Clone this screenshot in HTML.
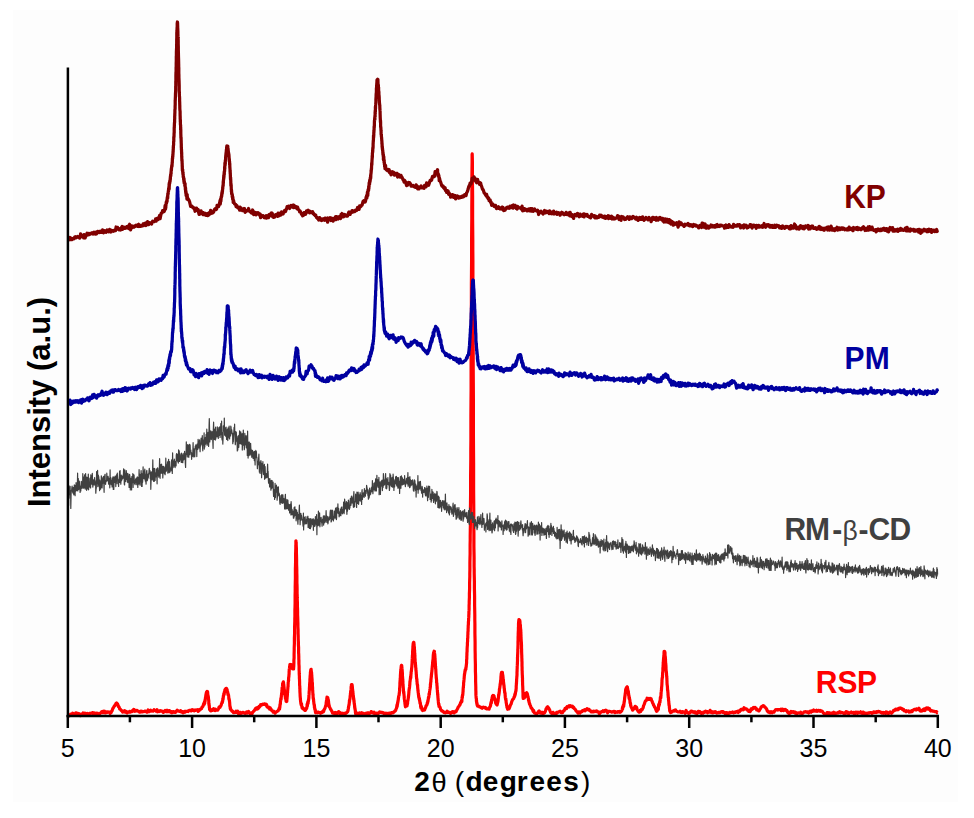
<!DOCTYPE html>
<html><head><meta charset="utf-8"><style>
html,body{margin:0;padding:0;background:#fff;}
svg{display:block;}
text{font-family:"Liberation Sans",sans-serif;}
</style></head><body>
<svg width="974" height="818" viewBox="0 0 974 818">
<rect x="0" y="0" width="974" height="818" fill="#ffffff"/>
<rect x="13" y="10" width="945" height="792" fill="#fdfdfd"/>
<g fill="none" stroke-linejoin="round" stroke-linecap="butt">
<path d="M68.6 714.9L69.1 715.0 69.6 715.7 70.1 715.2 70.6 714.1 71.1 714.7 71.6 714.1 72.1 714.1 72.6 713.1 73.1 713.8 73.6 713.7 74.1 714.2 74.6 713.7 75.1 713.8 75.6 713.0 76.1 714.8 76.6 713.0 77.1 714.3 77.6 713.7 78.1 713.4 78.6 713.6 79.1 713.8 79.6 714.6 80.1 714.7 80.6 715.6 81.1 714.1 81.6 714.6 82.1 713.9 82.6 714.4 83.1 713.0 83.6 713.8 84.1 714.0 84.6 713.1 85.1 714.1 85.6 713.5 86.1 713.9 86.6 714.0 87.1 713.4 87.6 713.5 88.1 713.8 88.6 714.1 89.1 714.1 89.6 713.4 90.1 713.5 90.6 713.3 91.1 713.2 91.6 713.0 92.1 712.9 92.6 713.8 93.1 712.7 93.6 712.9 94.1 713.4 94.6 713.0 95.1 713.5 95.6 713.8 96.1 714.2 96.6 713.2 97.1 714.2 97.6 713.3 98.1 713.5 98.6 713.8 99.1 713.8 99.6 714.0 100.1 713.4 100.6 712.9 101.1 712.6 101.6 711.8 102.1 712.6 102.6 711.6 103.1 711.3 103.6 712.7 104.1 711.7 104.6 711.3 105.1 712.9 105.6 712.0 106.1 712.7 106.6 712.0 107.1 712.3 107.6 711.8 108.1 711.8 108.6 712.1 109.1 712.3 109.6 712.6 110.1 713.4 110.6 711.8 111.1 712.6 111.6 711.4 112.1 710.7 112.6 709.1 113.1 708.0 113.6 707.4 114.1 706.3 114.6 706.0 115.1 704.7 115.6 704.6 116.1 703.3 116.6 702.9 117.1 703.5 117.6 704.1 118.1 705.3 118.2 705.8 118.3 705.9 118.3 706.6 118.4 706.6 118.5 706.4 118.5 706.6 118.5 706.0 118.6 706.5 119.1 706.9 119.6 709.0 120.1 708.9 120.6 709.5 121.1 710.3 121.6 710.6 122.1 711.0 122.6 712.0 123.1 711.6 123.6 711.2 124.1 711.7 124.6 710.7 125.1 712.1 125.6 711.2 126.1 711.4 126.6 712.7 127.1 712.9 127.6 712.0 128.1 712.1 128.6 712.1 129.1 712.2 129.6 711.3 130.1 711.5 130.6 712.0 131.1 711.6 131.6 711.7 132.1 711.5 132.6 710.4 133.1 710.4 133.6 709.5 134.1 710.6 134.6 711.3 135.1 710.2 135.6 711.1 136.1 710.8 136.6 710.3 137.1 710.5 137.6 710.9 138.1 711.0 138.6 711.6 139.1 711.9 139.6 712.2 140.1 712.1 140.6 711.3 141.1 711.9 141.6 711.2 142.1 711.5 142.6 711.8 143.1 711.6 143.6 711.5 144.1 711.7 144.6 711.2 145.1 711.0 145.6 711.2 146.1 711.7 146.6 711.2 147.1 712.2 147.6 711.4 148.1 710.0 148.6 711.0 149.1 711.7 149.6 710.8 150.1 710.4 150.6 710.2 151.1 711.1 151.6 711.0 152.1 710.9 152.6 710.8 153.1 711.2 153.6 710.7 154.1 709.7 154.6 710.5 155.1 710.4 155.6 710.5 156.1 711.2 156.6 711.0 157.1 709.7 157.6 711.8 158.1 711.7 158.6 711.2 159.1 711.2 159.6 711.5 160.1 710.7 160.6 711.2 161.1 710.9 161.6 711.0 162.1 711.0 162.6 711.3 163.1 712.3 163.6 712.3 164.1 711.7 164.6 711.1 165.1 710.5 165.6 711.1 166.1 711.6 166.6 710.3 167.1 711.8 167.6 710.4 168.1 711.3 168.6 711.6 169.1 710.7 169.6 710.7 170.1 711.6 170.6 712.1 171.1 711.8 171.6 712.7 172.1 711.7 172.6 712.6 173.1 711.7 173.6 711.7 174.1 712.0 174.6 711.9 175.1 712.5 175.6 712.4 176.1 711.3 176.6 710.8 177.1 710.2 177.6 710.5 178.1 711.0 178.6 711.2 179.1 711.3 179.6 711.3 180.1 711.5 180.6 710.7 181.1 711.0 181.6 712.1 182.1 712.1 182.6 711.7 183.1 712.8 183.6 712.1 184.1 712.3 184.6 711.3 185.1 712.1 185.6 711.4 186.1 711.6 186.6 711.4 187.1 711.2 187.6 711.2 188.1 711.6 188.6 710.7 189.1 710.5 189.6 710.3 190.1 710.5 190.6 710.5 191.1 710.9 191.6 710.0 192.1 710.6 192.6 709.8 193.1 710.4 193.6 710.2 194.1 710.9 194.6 710.4 195.1 709.9 195.6 710.3 196.1 710.1 196.6 709.9 197.1 709.9 197.6 709.7 198.1 711.4 198.6 710.3 199.1 710.6 199.6 709.5 200.1 709.3 200.6 709.3 201.1 708.8 201.6 708.6 202.1 706.9 202.6 706.7 203.1 706.0 203.6 703.8 203.9 703.7 204.0 703.0 204.1 703.8 204.2 704.4 204.2 703.1 204.2 703.3 204.3 703.4 204.3 702.2 204.4 702.6 204.4 702.3 204.5 702.4 204.6 703.0 204.6 702.8 204.7 703.4 204.7 702.6 204.8 702.3 204.8 701.4 204.8 701.2 204.9 701.3 204.9 700.2 205.0 701.8 205.1 700.6 205.1 700.2 205.2 700.3 205.2 700.6 205.2 700.3 205.3 699.1 205.3 699.0 205.4 698.4 205.4 697.7 205.5 698.1 205.6 697.8 205.6 696.9 205.7 697.8 205.7 696.3 205.8 696.7 205.8 695.8 205.8 695.5 205.9 695.1 205.9 695.4 206.0 694.2 206.1 694.4 206.1 695.0 206.2 693.8 206.3 692.9 206.3 693.1 206.4 692.4 206.4 693.0 206.5 692.8 206.6 692.3 206.6 693.3 206.7 692.3 206.7 692.1 207.1 691.4 207.3 692.1 207.3 692.5 207.4 692.7 207.4 692.9 207.5 691.6 207.6 691.9 207.6 692.8 207.7 692.7 207.7 693.3 207.8 694.3 207.8 694.2 207.8 694.7 207.9 694.8 207.9 696.0 208.0 696.1 208.1 695.6 208.1 696.4 208.2 695.9 208.2 697.0 208.3 696.8 208.3 697.1 208.4 696.9 208.4 698.6 208.5 698.8 208.6 699.3 208.6 700.2 208.7 699.9 208.7 700.3 208.8 700.8 208.8 701.2 208.8 703.8 208.9 703.5 208.9 704.1 209.0 705.2 209.1 703.7 209.1 705.4 209.2 705.5 209.2 705.2 209.2 706.1 209.3 705.4 209.3 706.8 209.4 707.8 209.4 707.0 209.5 708.0 209.6 709.2 209.6 709.6 210.1 710.1 210.6 710.8 211.1 710.8 211.6 710.0 212.1 710.4 212.6 709.7 213.1 709.0 213.6 708.7 214.1 710.1 214.6 709.6 215.1 710.6 215.6 709.2 216.1 709.8 216.6 710.2 217.1 710.1 217.6 710.2 218.1 709.6 218.6 708.6 219.1 707.0 219.6 706.8 220.1 707.2 220.6 706.0 221.1 705.4 221.6 703.4 222.1 702.4 222.1 701.8 222.2 702.1 222.2 701.8 222.2 702.0 222.3 702.7 222.3 701.6 222.4 702.3 222.4 701.1 222.5 702.0 222.6 701.1 222.6 701.0 222.7 700.7 222.7 701.0 222.8 699.8 222.8 699.2 222.8 698.6 222.9 699.2 222.9 698.6 223.0 698.8 223.1 699.0 223.1 699.2 223.2 698.3 223.2 698.5 223.2 698.4 223.3 696.4 223.3 697.1 223.4 697.0 223.4 695.6 223.5 696.1 223.6 695.1 223.6 695.7 223.7 695.1 223.8 694.2 223.8 693.9 223.8 693.8 223.9 693.5 224.0 693.7 224.1 693.4 224.1 694.0 224.2 694.4 224.2 693.0 224.2 693.9 224.3 693.1 224.3 692.4 224.4 691.9 224.4 692.0 224.5 691.9 224.6 692.4 224.6 691.6 224.7 692.5 224.7 691.3 224.8 691.6 224.8 691.3 224.8 689.9 224.9 690.8 224.9 691.3 225.0 690.0 225.1 690.3 225.1 689.8 225.2 689.8 225.2 689.6 225.2 689.3 225.6 688.9 226.1 688.3 226.6 688.5 226.8 689.8 226.8 689.9 226.9 690.0 226.9 689.7 227.0 691.2 227.1 691.1 227.1 689.6 227.2 690.3 227.2 690.7 227.2 691.4 227.3 691.6 227.3 691.0 227.4 691.5 227.4 692.0 227.5 691.6 227.6 692.7 227.6 692.5 227.7 692.8 227.7 692.7 227.8 692.3 227.8 692.6 227.8 693.4 227.9 693.7 227.9 693.9 228.0 694.7 228.1 694.2 228.1 693.8 228.2 694.1 228.2 694.2 228.3 694.9 228.3 694.8 228.4 695.2 228.4 695.1 228.5 695.0 228.6 695.8 228.6 695.7 228.7 696.6 228.7 696.7 228.8 697.7 228.8 697.8 228.8 698.2 228.9 698.9 228.9 699.3 229.0 699.0 229.1 698.7 229.1 699.2 229.2 699.1 229.2 698.9 229.2 699.4 229.3 699.7 229.3 699.9 229.4 701.0 229.4 700.4 229.5 700.9 229.6 702.1 229.6 702.2 229.7 702.7 229.7 703.4 229.8 704.6 229.8 705.2 229.8 705.6 229.9 705.7 229.9 705.8 230.0 706.9 230.1 706.2 230.1 707.0 230.2 706.9 230.2 707.7 230.2 708.1 230.3 708.9 230.3 707.2 230.6 709.6 231.1 709.5 231.6 710.7 232.1 711.4 232.6 711.2 233.1 712.0 233.6 712.7 234.1 712.6 234.6 712.3 235.1 712.4 235.6 712.0 236.1 711.1 236.6 712.3 237.1 711.9 237.6 711.1 238.1 712.3 238.6 713.9 239.1 714.0 239.6 713.4 240.1 712.3 240.6 712.8 241.1 713.3 241.6 713.0 242.1 712.6 242.6 712.3 243.1 713.0 243.6 712.5 244.1 712.8 244.6 712.9 245.1 713.4 245.6 712.9 246.1 713.0 246.6 712.0 247.1 713.2 247.6 712.9 248.1 712.5 248.6 711.5 249.1 712.4 249.6 712.7 250.1 713.7 250.6 713.1 251.1 713.3 251.6 713.3 252.1 713.6 252.6 712.3 253.1 712.0 253.6 711.2 254.1 710.8 254.6 710.0 255.1 709.5 255.6 708.5 256.1 708.7 256.6 708.0 257.1 709.1 257.6 707.6 258.1 708.7 258.6 707.9 259.1 706.3 259.6 706.8 260.1 706.2 260.6 704.7 261.1 705.3 261.6 704.7 262.1 704.8 262.6 704.2 263.1 704.4 263.6 704.4 264.1 704.0 264.6 703.8 265.1 704.2 265.6 704.2 266.1 705.2 266.6 704.5 267.1 706.8 267.6 706.7 268.1 707.3 268.6 707.9 269.1 707.2 269.6 709.1 270.1 707.8 270.6 708.8 271.1 709.2 271.6 710.3 272.1 710.6 272.6 710.7 273.1 712.1 273.6 711.1 274.1 712.3 274.6 712.2 275.1 713.2 275.6 712.3 276.1 712.1 276.6 711.7 277.1 711.3 277.6 711.0 278.1 711.0 278.6 709.5 279.1 709.2 279.2 708.2 279.3 708.4 279.4 708.3 279.4 707.5 279.4 707.8 279.5 708.3 279.6 708.9 279.6 709.1 279.6 708.6 279.7 707.8 279.8 707.0 279.8 707.4 279.9 707.0 279.9 705.9 280.0 704.7 280.1 704.6 280.1 705.4 280.1 704.0 280.2 704.5 280.2 704.1 280.3 703.6 280.4 703.9 280.4 702.4 280.4 702.2 280.5 701.1 280.6 701.2 280.6 701.0 280.6 700.6 280.7 700.2 280.8 700.0 280.8 699.2 280.9 698.3 280.9 699.1 280.9 699.2 281.0 698.4 281.1 698.5 281.1 699.4 281.1 698.7 281.2 698.2 281.2 697.5 281.3 696.8 281.4 696.1 281.4 696.2 281.4 695.4 281.5 694.9 281.6 694.5 281.6 694.0 281.7 692.9 281.8 694.3 281.8 692.4 281.9 692.1 281.9 690.6 282.0 690.1 282.1 689.7 282.1 687.7 282.1 688.3 282.2 687.6 282.3 687.7 282.4 687.4 282.4 686.9 282.5 686.2 282.6 685.1 282.6 685.0 282.6 683.6 282.7 683.7 282.8 684.2 282.8 683.9 282.9 682.8 282.9 683.1 282.9 683.7 283.0 683.3 283.1 683.1 283.4 681.9 283.4 682.2 283.5 682.8 283.6 682.8 283.6 683.6 283.6 683.9 283.7 684.5 283.8 684.6 283.8 685.3 283.9 685.7 283.9 685.8 283.9 685.5 284.0 687.1 284.1 687.4 284.1 688.3 284.1 688.9 284.2 688.6 284.2 690.0 284.3 689.7 284.4 689.8 284.4 691.3 284.4 690.9 284.5 691.7 284.6 692.4 284.6 693.2 284.6 692.1 284.7 693.1 284.8 694.3 284.8 694.2 284.9 693.4 284.9 694.9 284.9 694.8 285.0 694.9 285.1 694.8 285.1 695.7 285.2 696.2 285.2 696.4 285.3 697.0 285.4 697.4 285.4 697.1 285.4 698.3 285.5 698.5 285.6 698.6 285.6 697.0 285.6 698.3 285.7 698.2 285.8 697.7 285.8 698.5 285.9 697.8 285.9 699.6 285.9 699.9 286.0 700.1 286.1 701.4 286.1 701.1 286.6 701.5 286.6 700.5 286.7 701.2 286.8 701.4 286.8 701.1 286.9 699.6 286.9 700.3 286.9 699.8 287.0 698.9 287.1 698.0 287.1 697.2 287.2 696.9 287.2 696.7 287.3 696.0 287.4 694.6 287.4 693.3 287.4 693.1 287.5 692.1 287.6 692.7 287.6 690.9 287.7 690.3 287.8 688.8 287.8 689.0 287.9 688.0 287.9 687.3 287.9 686.8 288.0 686.8 288.1 686.6 288.1 684.4 288.1 684.6 288.2 683.3 288.2 682.3 288.3 681.9 288.4 681.4 288.4 680.9 288.5 679.9 288.6 680.8 288.6 679.8 288.6 678.4 288.7 677.1 288.8 677.3 288.8 676.5 288.9 676.5 288.9 676.0 289.0 674.4 289.1 674.0 289.1 672.5 289.1 671.5 289.2 671.4 289.2 669.8 289.3 669.2 289.4 668.8 289.4 668.9 289.4 668.8 289.5 668.2 289.6 667.3 289.6 667.4 289.6 666.4 289.7 666.3 289.8 666.2 289.8 666.0 289.9 664.6 289.9 666.2 289.9 665.5 290.0 665.9 290.1 666.0 290.1 664.3 290.6 664.8 290.9 665.7 290.9 665.8 291.0 664.9 291.1 664.8 291.1 665.4 291.1 664.7 291.2 665.7 291.2 666.7 291.3 666.7 291.4 667.7 291.4 667.2 291.5 667.7 291.6 667.7 291.6 667.5 292.1 668.3 292.6 668.8 293.1 669.0 293.6 669.0 293.6 668.4 293.6 668.0 293.7 667.1 293.8 666.0 293.8 665.7 293.9 663.0 293.9 662.7 293.9 660.4 294.0 659.2 294.1 658.0 294.1 655.5 294.1 654.1 294.2 650.7 294.2 648.5 294.3 645.8 294.4 643.5 294.4 640.8 294.4 638.1 294.5 635.7 294.6 633.3 294.6 629.9 294.6 627.0 294.7 624.1 294.8 621.4 294.8 618.7 294.9 616.4 294.9 614.0 294.9 609.9 295.0 607.6 295.1 603.4 295.1 599.3 295.1 595.3 295.2 591.5 295.2 587.0 295.3 582.4 295.4 578.6 295.4 574.5 295.4 568.7 295.5 565.7 295.6 561.0 295.6 557.0 295.6 554.0 295.7 551.5 295.8 548.1 295.8 545.5 295.9 544.3 295.9 542.2 295.9 540.8 296.1 541.4 296.1 541.2 296.1 541.6 296.2 542.7 296.2 544.6 296.3 546.6 296.4 548.7 296.4 550.8 296.4 552.9 296.5 555.2 296.6 559.2 296.6 561.8 296.6 564.0 296.7 566.6 296.8 569.9 296.8 572.7 296.9 575.9 296.9 578.2 296.9 583.0 297.0 584.5 297.1 588.2 297.1 591.4 297.1 593.6 297.2 594.9 297.2 597.9 297.3 600.5 297.4 602.4 297.4 603.7 297.4 607.0 297.5 607.7 297.6 610.7 297.6 612.4 297.6 614.8 297.7 616.8 297.8 619.2 297.8 620.5 297.9 623.3 297.9 625.6 297.9 626.7 298.0 628.4 298.1 630.0 298.1 631.3 298.1 633.5 298.2 635.8 298.2 638.0 298.3 640.6 298.4 642.2 298.4 642.9 298.4 644.6 298.5 646.1 298.6 647.5 298.6 651.2 298.6 653.0 298.7 653.8 298.8 656.6 298.8 659.3 298.9 660.2 298.9 661.9 298.9 663.6 299.0 665.0 299.1 666.5 299.1 668.2 299.1 670.0 299.2 671.3 299.2 673.2 299.3 675.1 299.4 676.0 299.4 677.5 299.4 678.4 299.5 679.4 299.6 682.4 299.6 683.2 299.6 685.0 299.7 685.7 299.8 686.5 299.8 688.9 299.9 688.3 299.9 690.1 299.9 691.1 300.0 692.8 300.1 694.4 300.1 695.5 300.1 695.0 300.2 697.0 300.2 696.3 300.3 698.1 300.4 698.3 300.4 698.7 300.4 699.7 300.5 700.0 300.6 701.1 300.6 701.8 300.6 701.9 300.7 701.7 300.8 702.4 300.8 702.6 300.9 703.8 300.9 703.5 301.0 704.1 301.1 704.1 301.1 704.5 301.1 704.6 301.2 704.9 301.3 704.5 301.4 704.7 301.4 704.3 301.4 704.5 301.5 703.7 301.6 704.7 301.6 705.2 302.1 708.1 302.6 707.5 303.1 708.9 303.6 709.2 304.1 709.0 304.6 710.3 305.1 710.5 305.6 710.0 306.1 708.9 306.6 708.5 306.6 707.5 306.7 708.1 306.8 707.4 306.8 707.6 306.9 707.1 306.9 707.7 306.9 706.9 307.0 706.8 307.1 705.7 307.1 704.7 307.1 704.2 307.2 704.3 307.2 704.6 307.3 704.3 307.4 705.9 307.4 704.7 307.5 704.0 307.6 702.9 307.6 703.5 307.6 702.9 307.7 702.8 307.8 701.8 307.8 702.2 307.9 702.3 307.9 703.1 307.9 702.2 308.0 703.3 308.1 703.5 308.1 702.5 308.1 702.0 308.2 702.5 308.2 701.5 308.3 701.5 308.4 701.1 308.4 701.2 308.4 700.6 308.5 699.6 308.6 700.5 308.6 699.5 308.6 699.6 308.7 698.6 308.8 699.1 308.8 697.7 308.9 697.5 308.9 696.9 308.9 695.6 309.0 695.0 309.1 694.1 309.1 693.0 309.1 693.3 309.2 691.5 309.2 690.6 309.3 690.4 309.4 690.0 309.4 689.1 309.4 688.1 309.5 687.1 309.6 685.3 309.6 685.5 309.6 685.2 309.7 683.2 309.8 682.1 309.8 682.5 309.9 681.4 309.9 678.9 309.9 679.5 310.0 678.3 310.1 677.5 310.1 678.0 310.1 676.7 310.2 675.4 310.2 674.9 310.3 674.9 310.4 673.0 310.4 673.2 310.4 671.9 310.5 672.1 310.6 671.5 310.6 670.8 310.6 671.3 310.7 670.7 310.8 670.9 310.8 669.6 310.9 669.7 311.1 669.3 311.1 670.5 311.2 669.8 311.2 670.5 311.3 671.4 311.4 671.4 311.4 671.7 311.4 672.0 311.5 672.3 311.6 672.7 311.6 672.8 311.7 675.2 311.8 675.0 311.8 677.1 311.9 677.0 311.9 678.8 311.9 678.3 312.0 678.6 312.1 679.7 312.1 679.8 312.1 681.6 312.2 682.3 312.2 683.1 312.3 682.6 312.4 683.0 312.4 685.1 312.4 685.8 312.5 686.6 312.6 687.8 312.6 688.5 312.6 689.6 312.7 691.1 312.8 691.7 312.8 693.1 312.9 693.1 312.9 694.2 313.0 695.1 313.1 695.6 313.1 696.7 313.1 697.3 313.2 698.3 313.2 698.5 313.3 698.7 313.4 698.0 313.4 698.8 313.4 699.6 313.5 699.5 313.6 699.8 313.6 699.9 313.6 701.2 313.7 701.4 313.8 702.3 313.9 703.7 313.9 703.2 313.9 703.1 314.0 704.1 314.1 704.5 314.1 705.0 314.1 704.3 314.2 704.4 314.2 704.9 314.3 705.3 314.4 705.0 314.4 706.7 314.4 707.4 314.5 706.9 314.6 707.0 314.6 707.6 314.6 707.5 314.7 708.6 314.8 708.4 314.8 709.5 314.9 709.0 314.9 709.2 315.0 709.3 315.1 710.1 315.1 710.3 315.1 710.0 315.2 710.1 315.2 709.3 315.3 711.2 315.4 710.4 315.4 711.7 315.6 712.8 316.1 712.2 316.6 712.6 317.1 712.8 317.6 712.0 318.1 712.1 318.6 712.3 319.1 712.7 319.6 713.0 320.1 712.7 320.6 713.3 321.1 712.6 321.6 712.1 322.1 712.6 322.6 712.2 323.1 711.0 323.6 711.5 324.1 709.8 324.6 708.9 325.1 708.0 325.6 705.9 325.6 706.2 325.6 705.7 325.7 705.7 325.8 705.6 325.8 705.5 325.9 705.4 325.9 705.7 325.9 706.1 326.0 705.6 326.1 705.1 326.1 704.9 326.1 704.4 326.2 702.4 326.2 702.3 326.3 702.4 326.4 701.1 326.4 700.9 326.4 701.2 326.5 700.6 326.6 701.0 326.6 700.2 326.6 700.4 326.7 701.1 326.8 700.1 326.8 698.5 326.9 698.3 326.9 698.0 326.9 698.1 327.0 697.1 327.1 697.6 327.6 698.1 327.8 698.4 327.8 697.7 327.9 698.4 327.9 698.9 327.9 699.0 328.0 700.5 328.1 699.7 328.1 699.8 328.1 700.7 328.2 700.9 328.2 701.5 328.3 701.5 328.4 700.7 328.4 699.9 328.4 701.4 328.5 701.8 328.6 702.7 328.6 701.6 328.6 702.2 328.7 703.8 328.8 704.1 328.8 704.3 328.9 704.0 328.9 705.1 328.9 704.7 329.0 704.8 329.1 705.6 329.1 705.9 329.1 706.5 329.2 706.8 329.2 705.7 329.3 706.8 329.4 707.0 329.4 706.2 329.6 707.0 330.1 708.2 330.6 709.4 331.1 709.8 331.6 710.9 332.1 711.7 332.6 713.2 333.1 713.2 333.6 713.1 334.1 713.5 334.6 713.0 335.1 712.5 335.6 713.8 336.1 713.9 336.6 713.7 337.1 712.8 337.6 713.5 338.1 712.4 338.6 711.6 339.1 712.4 339.6 713.3 340.1 712.5 340.6 713.2 341.1 713.8 341.6 713.4 342.1 713.2 342.6 713.4 343.1 713.8 343.6 713.3 344.1 713.7 344.6 713.8 345.1 713.2 345.6 713.6 346.1 713.2 346.6 712.6 347.1 712.4 347.6 711.7 347.6 711.5 347.7 711.5 347.8 711.0 347.8 711.3 347.9 711.2 347.9 710.8 347.9 709.9 348.0 710.4 348.1 710.4 348.1 709.6 348.1 710.0 348.2 709.4 348.2 708.9 348.3 708.9 348.4 708.5 348.4 707.5 348.4 708.5 348.5 707.6 348.6 707.6 348.6 707.4 348.6 706.5 348.7 706.0 348.8 706.0 348.8 705.9 348.9 705.0 348.9 704.8 348.9 705.0 349.0 705.3 349.1 704.4 349.1 704.8 349.1 703.9 349.2 704.0 349.2 703.6 349.3 702.4 349.4 702.4 349.4 701.8 349.4 700.5 349.5 701.4 349.6 701.3 349.6 700.9 349.6 700.5 349.7 699.5 349.8 699.4 349.9 698.8 349.9 699.4 350.0 698.2 350.1 698.0 350.1 698.3 350.1 696.8 350.2 695.8 350.3 695.3 350.4 694.8 350.4 693.6 350.4 694.1 350.5 694.0 350.6 694.5 350.6 693.5 350.6 692.4 350.7 692.0 350.8 691.5 350.8 690.7 350.9 690.5 350.9 690.8 350.9 690.0 351.0 689.5 351.1 688.3 351.1 686.8 351.2 687.7 351.2 686.3 351.3 686.3 351.4 686.1 351.4 684.6 351.4 685.4 351.5 684.8 351.6 685.0 351.9 684.6 352.0 684.6 352.1 685.6 352.1 685.3 352.2 685.1 352.2 686.6 352.3 686.4 352.4 687.1 352.4 687.6 352.4 688.5 352.5 689.2 352.6 689.1 352.6 689.4 352.6 689.5 352.7 690.8 352.8 691.4 352.8 691.1 352.9 691.4 352.9 692.4 352.9 692.0 353.0 693.2 353.1 693.6 353.1 694.0 353.1 695.0 353.2 695.6 353.2 695.4 353.3 695.5 353.4 696.5 353.4 697.0 353.4 696.5 353.5 697.3 353.6 698.1 353.6 697.9 353.6 698.4 353.7 699.8 353.8 698.7 353.8 700.1 353.9 699.8 353.9 700.9 354.0 701.5 354.1 700.8 354.1 702.0 354.1 702.1 354.2 703.2 354.2 703.5 354.3 703.6 354.4 703.7 354.4 704.1 354.4 704.7 354.5 704.9 354.6 705.6 354.6 706.1 354.6 706.4 354.7 707.6 354.8 706.8 354.8 708.2 354.9 708.4 354.9 707.8 354.9 708.2 355.0 709.2 355.1 708.8 355.1 709.4 355.1 709.9 355.2 709.8 355.2 709.9 355.3 710.2 355.4 711.3 355.4 710.9 355.4 712.3 355.5 712.8 355.6 712.1 355.6 712.7 355.6 713.7 356.1 713.4 356.6 714.0 357.1 714.2 357.6 713.1 358.1 713.5 358.6 713.3 359.1 713.0 359.6 713.9 360.1 713.1 360.6 714.0 361.1 713.2 361.6 712.7 362.1 713.3 362.6 713.1 363.1 714.0 363.6 714.2 364.1 713.5 364.6 713.8 365.1 714.2 365.6 713.8 366.1 713.1 366.6 713.8 367.1 713.9 367.6 712.8 368.1 714.3 368.6 712.9 369.1 713.8 369.6 713.4 370.1 713.1 370.6 712.8 371.1 711.6 371.6 711.8 372.1 712.6 372.6 712.4 373.1 713.1 373.6 713.0 374.1 712.1 374.6 713.8 375.1 713.7 375.6 713.8 376.1 713.4 376.6 713.3 377.1 713.1 377.6 713.5 378.1 713.5 378.6 713.1 379.1 712.9 379.6 711.9 380.1 712.3 380.6 712.2 381.1 712.6 381.6 712.3 382.1 712.4 382.6 712.8 383.1 712.7 383.6 713.0 384.1 713.8 384.6 713.4 385.1 713.2 385.6 713.9 386.1 714.2 386.6 714.2 387.1 713.3 387.6 714.2 388.1 713.7 388.6 713.5 389.1 713.1 389.6 713.1 390.1 713.0 390.6 713.5 391.1 713.0 391.6 712.7 392.1 712.9 392.6 712.4 393.1 712.8 393.6 712.2 394.1 712.1 394.6 711.1 395.1 711.2 395.6 710.4 396.1 708.9 396.5 708.1 396.6 708.0 396.6 707.1 396.6 706.9 396.7 707.2 396.8 706.9 396.8 707.0 396.9 705.6 396.9 705.8 396.9 705.1 397.0 706.8 397.1 705.6 397.1 706.1 397.1 706.8 397.2 706.2 397.2 704.8 397.3 705.7 397.4 704.5 397.4 703.6 397.4 704.0 397.5 704.1 397.6 703.9 397.6 702.5 397.6 703.9 397.7 702.1 397.8 702.3 397.8 702.7 397.9 701.9 397.9 701.4 397.9 700.9 398.0 701.1 398.1 701.2 398.1 700.3 398.1 700.8 398.2 700.4 398.2 700.1 398.3 698.8 398.4 699.2 398.4 698.8 398.4 697.8 398.5 697.9 398.6 697.3 398.6 697.5 398.6 696.8 398.7 696.3 398.8 695.9 398.8 696.0 398.9 696.0 398.9 695.6 398.9 695.9 399.0 695.3 399.1 695.1 399.1 695.5 399.1 694.8 399.2 694.4 399.2 693.6 399.3 693.1 399.4 693.3 399.4 691.6 399.4 691.5 399.5 691.5 399.6 691.1 399.6 689.9 399.6 688.9 399.7 687.7 399.8 687.1 399.8 686.2 399.9 685.2 399.9 684.4 399.9 683.4 400.0 681.9 400.1 680.8 400.1 680.3 400.1 680.1 400.2 680.2 400.2 678.2 400.3 678.6 400.4 676.9 400.4 676.3 400.4 675.6 400.5 674.0 400.6 672.6 400.6 672.4 400.6 672.2 400.7 671.3 400.8 670.6 400.8 669.5 400.9 669.1 400.9 668.3 400.9 668.6 401.0 668.3 401.1 668.4 401.1 667.2 401.1 667.4 401.2 666.8 401.2 666.5 401.3 665.8 401.4 665.5 401.6 666.3 401.6 665.6 401.7 665.4 401.8 666.2 401.8 667.5 401.9 667.2 401.9 666.9 401.9 667.6 402.0 668.3 402.1 668.9 402.1 668.6 402.1 669.5 402.2 670.4 402.2 670.5 402.3 672.0 402.4 673.2 402.4 674.7 402.4 675.9 402.5 676.4 402.6 677.5 402.6 678.3 402.6 679.0 402.7 679.0 402.8 679.1 402.8 680.3 402.9 681.1 402.9 681.8 402.9 683.1 403.0 684.5 403.1 684.4 403.1 684.9 403.1 685.3 403.2 686.6 403.2 687.6 403.3 687.8 403.4 689.6 403.4 689.4 403.4 690.5 403.5 691.1 403.6 692.3 403.6 691.7 403.6 692.9 403.7 692.2 403.8 691.8 403.8 692.5 403.9 693.1 403.9 694.3 403.9 693.8 404.0 694.4 404.1 695.8 404.1 695.5 404.1 695.8 404.2 696.5 404.2 696.9 404.3 698.4 404.4 699.3 404.4 698.9 404.5 699.8 404.6 700.2 404.6 700.5 404.6 701.2 404.7 701.3 404.8 701.4 404.8 702.3 404.9 701.6 404.9 702.5 404.9 703.4 405.0 703.4 405.1 704.8 405.1 703.4 405.1 704.8 405.2 705.1 405.2 705.5 405.3 706.1 405.4 706.0 405.4 706.8 405.5 706.1 405.6 705.5 405.6 705.7 406.1 705.9 406.6 705.6 406.7 705.7 406.8 705.1 406.8 705.4 406.9 705.3 406.9 706.0 406.9 705.9 407.0 705.7 407.1 705.8 407.1 704.2 407.1 704.9 407.2 703.7 407.2 704.5 407.3 704.5 407.4 704.3 407.4 703.8 407.5 703.3 407.6 703.4 407.6 702.3 407.7 701.1 407.8 701.2 407.8 700.8 407.9 700.1 407.9 700.4 408.0 699.9 408.1 700.0 408.1 699.4 408.2 698.3 408.2 698.1 408.3 698.3 408.4 697.4 408.4 696.7 408.4 696.5 408.5 695.6 408.6 696.2 408.6 695.2 408.6 694.9 408.7 694.8 408.8 693.4 408.8 692.8 408.9 692.4 408.9 692.0 408.9 692.1 409.0 690.4 409.1 690.5 409.1 689.6 409.2 689.4 409.2 688.9 409.3 688.6 409.4 688.4 409.4 688.2 409.4 687.4 409.5 687.6 409.6 686.8 409.6 685.7 409.6 686.4 409.7 684.8 409.8 685.0 409.8 684.2 409.9 682.8 409.9 682.3 409.9 681.6 410.0 681.6 410.1 681.1 410.1 681.2 410.1 680.4 410.2 680.4 410.2 679.7 410.3 679.5 410.4 679.1 410.4 678.3 410.4 678.5 410.5 677.8 410.6 676.4 410.6 676.8 410.6 678.1 410.7 677.1 410.8 678.1 410.8 676.7 410.9 676.1 410.9 675.2 410.9 674.7 411.0 674.2 411.1 673.8 411.1 672.9 411.1 672.5 411.2 671.8 411.3 671.5 411.4 671.3 411.4 670.6 411.4 670.0 411.5 670.0 411.6 668.6 411.6 668.5 411.6 668.2 411.7 668.1 411.8 667.1 411.8 666.4 411.9 666.6 411.9 665.6 411.9 665.4 412.0 664.0 412.1 662.9 412.1 662.1 412.1 661.9 412.2 660.7 412.2 658.9 412.3 658.2 412.4 656.3 412.4 656.7 412.4 655.7 412.5 654.9 412.6 654.1 412.6 653.1 412.6 651.7 412.7 650.5 412.8 649.0 412.8 649.3 412.9 647.4 412.9 646.9 412.9 646.5 413.0 645.7 413.1 645.1 413.1 643.9 413.2 644.1 413.2 643.2 413.3 644.1 413.4 642.6 413.4 642.9 413.4 643.1 413.6 642.8 413.8 642.4 413.8 643.1 413.9 643.4 413.9 642.4 413.9 643.3 414.0 644.0 414.1 644.3 414.1 644.6 414.1 645.1 414.2 646.7 414.2 646.1 414.3 647.3 414.4 647.0 414.4 648.5 414.4 649.5 414.5 649.7 414.6 650.3 414.6 652.0 414.7 653.4 414.8 653.3 414.8 655.6 414.9 655.1 414.9 656.5 414.9 657.6 415.0 658.7 415.1 659.7 415.1 661.0 415.1 661.9 415.2 662.4 415.2 662.5 415.3 662.9 415.4 662.5 415.4 663.9 415.4 664.2 415.5 665.1 415.6 664.9 415.6 665.4 415.6 666.1 415.7 667.4 415.8 667.9 415.8 668.2 415.9 668.5 415.9 669.6 415.9 670.0 416.0 670.4 416.1 670.9 416.1 671.5 416.1 672.0 416.2 672.1 416.2 672.8 416.3 674.6 416.4 674.6 416.4 675.8 416.4 676.3 416.5 677.0 416.6 678.1 416.6 677.8 416.6 678.8 416.7 679.0 416.8 679.0 416.8 679.3 416.9 679.6 416.9 680.9 416.9 681.4 417.0 681.2 417.1 682.3 417.1 681.9 417.1 683.2 417.2 684.4 417.2 683.4 417.3 684.3 417.4 684.3 417.4 685.0 417.4 684.9 417.5 685.7 417.6 684.9 417.6 686.2 417.6 686.8 417.7 687.6 417.8 689.2 417.8 688.6 417.9 689.4 417.9 689.5 417.9 690.6 418.0 690.7 418.1 690.5 418.1 691.8 418.2 692.6 418.2 692.7 418.3 692.9 418.4 693.1 418.4 693.0 418.4 694.1 418.5 695.2 418.6 695.0 418.6 695.1 418.6 696.0 418.7 696.4 418.8 697.5 418.8 696.0 418.9 696.4 418.9 696.3 418.9 696.7 419.0 697.7 419.1 697.6 419.1 697.3 419.1 698.7 419.2 699.1 419.2 698.8 419.3 698.3 419.4 698.6 419.4 699.9 419.4 699.2 419.5 699.6 419.6 699.4 419.6 700.9 419.6 700.1 419.7 700.6 419.8 700.8 419.8 701.3 419.9 701.4 419.9 702.7 419.9 702.1 420.0 703.4 420.1 702.4 420.1 703.2 420.1 703.3 420.2 702.3 420.2 703.1 420.3 703.1 420.4 703.3 420.4 704.1 420.4 703.9 420.5 704.9 420.6 704.7 420.6 706.0 420.6 706.7 420.7 706.9 420.8 706.2 420.8 706.7 420.9 707.9 420.9 708.0 421.0 706.8 421.1 707.4 421.1 708.0 421.1 706.8 421.2 706.1 421.6 707.4 422.1 709.9 422.6 710.5 423.1 710.0 423.6 710.0 424.1 710.1 424.6 710.0 425.1 708.4 425.6 707.6 426.1 705.6 426.6 705.3 427.1 704.5 427.1 704.3 427.2 703.1 427.2 703.9 427.3 702.9 427.4 702.5 427.4 703.3 427.4 702.3 427.5 702.9 427.6 702.7 427.6 702.9 427.7 702.3 427.8 701.8 427.8 701.6 427.9 700.4 427.9 701.2 427.9 701.9 428.0 701.0 428.1 701.1 428.1 700.3 428.1 700.0 428.2 699.8 428.2 699.5 428.3 699.3 428.4 698.4 428.4 698.5 428.4 697.5 428.5 698.3 428.6 697.6 428.6 697.4 428.6 696.8 428.7 697.4 428.8 697.5 428.8 696.9 428.9 696.8 428.9 695.5 428.9 695.9 429.0 695.2 429.1 693.7 429.1 694.8 429.1 694.1 429.2 694.4 429.2 694.0 429.3 693.8 429.4 694.5 429.4 693.5 429.4 693.3 429.5 692.9 429.6 691.8 429.6 691.0 429.6 691.2 429.7 690.7 429.8 689.9 429.9 690.0 429.9 689.5 430.0 689.1 430.1 688.4 430.1 688.2 430.1 687.5 430.2 688.3 430.2 687.1 430.3 687.1 430.4 686.9 430.4 685.6 430.4 684.3 430.5 684.1 430.6 684.1 430.6 684.4 430.6 683.1 430.7 682.6 430.8 681.7 430.8 681.9 430.9 681.4 430.9 681.2 430.9 679.7 431.0 679.7 431.1 678.3 431.1 678.0 431.2 678.0 431.2 677.9 431.3 676.2 431.4 676.6 431.4 675.8 431.4 674.7 431.5 674.5 431.6 674.2 431.6 673.4 431.6 673.0 431.7 673.0 431.8 671.8 431.8 672.0 431.9 671.2 431.9 670.8 431.9 670.5 432.0 670.4 432.1 669.1 432.1 669.4 432.1 667.9 432.2 668.0 432.2 667.7 432.3 667.1 432.4 666.1 432.4 665.5 432.4 665.0 432.5 664.9 432.6 664.3 432.6 663.7 432.6 661.9 432.7 662.0 432.8 661.7 432.8 660.8 432.9 660.3 432.9 660.2 432.9 660.1 433.0 659.7 433.1 659.4 433.1 657.8 433.1 658.5 433.2 657.0 433.2 656.6 433.3 655.0 433.4 654.7 433.4 653.9 433.4 653.8 433.5 654.5 433.6 652.8 433.6 653.5 433.6 652.9 433.7 652.4 433.8 653.4 433.8 652.7 433.9 652.1 433.9 652.2 434.1 651.2 434.3 652.6 434.4 651.3 434.4 651.9 434.4 651.5 434.5 652.7 434.6 653.2 434.6 653.7 434.6 654.4 434.7 654.3 434.8 654.7 434.8 655.9 434.9 656.0 434.9 657.1 434.9 657.4 435.0 658.0 435.1 658.9 435.1 660.1 435.1 660.7 435.2 661.1 435.2 660.7 435.3 662.8 435.4 664.0 435.4 665.0 435.4 665.1 435.5 666.4 435.6 666.6 435.6 666.2 435.6 668.0 435.7 669.1 435.8 669.3 435.8 669.7 435.9 671.8 435.9 672.4 435.9 672.0 436.0 674.1 436.1 674.7 436.1 675.5 436.1 675.3 436.2 676.0 436.2 677.2 436.3 678.3 436.4 677.8 436.4 678.2 436.4 678.5 436.5 679.4 436.6 680.9 436.6 681.0 436.6 682.8 436.7 682.7 436.8 683.0 436.8 683.1 436.9 683.4 436.9 684.3 436.9 684.6 437.0 686.1 437.1 685.9 437.1 688.3 437.1 687.7 437.2 687.6 437.2 689.0 437.3 689.6 437.4 690.0 437.4 691.1 437.4 691.3 437.5 692.3 437.6 692.9 437.6 693.8 437.6 694.0 437.7 694.9 437.8 694.0 437.8 696.2 437.9 696.2 437.9 696.9 437.9 697.2 438.0 698.4 438.1 698.6 438.1 699.3 438.1 699.7 438.2 699.9 438.2 700.1 438.3 701.2 438.4 701.7 438.4 701.8 438.4 703.0 438.5 703.1 438.6 703.8 438.6 704.6 438.7 704.3 438.8 704.0 438.8 704.3 438.9 704.4 438.9 705.5 438.9 703.8 439.0 706.5 439.1 705.2 439.1 706.1 439.1 705.6 439.6 706.8 440.1 707.3 440.6 709.5 441.1 709.9 441.6 710.9 442.1 710.6 442.6 711.4 443.1 711.4 443.6 712.1 444.1 712.6 444.6 712.4 445.1 712.8 445.6 712.8 446.1 712.4 446.6 712.0 447.1 711.1 447.6 712.4 448.1 712.1 448.6 712.1 449.1 712.5 449.6 712.5 450.1 712.9 450.6 713.5 451.1 712.5 451.6 712.8 452.1 712.6 452.6 711.5 453.1 711.5 453.6 712.5 454.1 712.9 454.6 712.1 455.1 712.1 455.6 711.1 456.1 711.6 456.6 710.3 457.1 709.5 457.6 708.7 458.1 707.4 458.6 706.5 459.1 706.2 459.6 705.0 460.1 704.5 460.6 702.6 461.1 702.0 461.2 702.3 461.3 701.9 461.4 701.1 461.4 701.5 461.4 700.9 461.5 700.7 461.6 701.4 461.6 700.6 461.7 701.1 461.8 701.7 461.8 701.6 461.9 701.2 461.9 700.8 461.9 699.7 462.0 698.7 462.1 697.2 462.1 697.4 462.1 697.6 462.2 697.1 462.2 698.1 462.3 697.9 462.4 697.1 462.4 695.4 462.4 695.6 462.5 695.5 462.6 695.4 462.6 694.5 462.6 695.4 462.7 695.2 462.8 694.3 462.8 694.6 462.9 693.3 462.9 693.5 462.9 693.3 463.0 691.8 463.1 691.5 463.1 690.5 463.1 690.4 463.2 688.6 463.2 688.4 463.3 687.4 463.4 687.5 463.4 686.5 463.4 686.3 463.5 685.9 463.6 684.7 463.6 684.0 463.6 683.2 463.7 682.2 463.8 681.9 463.8 681.1 463.9 681.2 463.9 680.8 463.9 680.3 464.0 679.7 464.1 678.8 464.2 677.7 464.2 677.9 464.3 676.0 464.4 675.6 464.4 674.5 464.4 675.3 464.5 673.9 464.6 674.3 464.6 673.8 464.6 674.4 464.7 673.4 464.8 672.7 464.8 672.1 464.9 672.5 464.9 671.4 464.9 670.9 465.0 671.8 465.1 671.3 465.1 670.8 465.1 670.9 465.2 670.7 465.2 669.5 465.6 669.6 465.9 669.3 465.9 668.1 465.9 667.3 466.0 667.8 466.1 667.2 466.1 667.0 466.2 666.3 466.2 666.8 466.3 664.9 466.4 665.0 466.4 664.9 466.4 664.4 466.5 663.6 466.6 663.0 466.6 661.3 466.6 659.6 466.7 659.7 466.8 658.6 466.8 656.7 466.9 655.0 466.9 654.0 466.9 653.5 467.0 652.1 467.1 651.5 467.1 650.4 467.1 649.1 467.2 647.5 467.2 647.2 467.3 646.1 467.4 645.1 467.4 644.2 467.4 643.2 467.5 641.9 467.6 641.6 467.6 640.0 467.6 639.3 467.7 638.6 467.8 637.5 467.8 635.2 467.9 634.6 467.9 633.2 467.9 632.8 468.0 631.3 468.1 631.2 468.1 629.7 468.1 629.1 468.2 627.3 468.2 626.1 468.3 625.0 468.4 624.2 468.4 622.2 468.4 622.4 468.5 621.0 468.6 621.0 468.6 619.1 468.6 618.5 468.7 617.9 468.8 616.7 468.8 614.5 468.9 614.6 468.9 612.7 468.9 611.9 469.0 610.9 469.1 609.1 469.1 607.4 469.1 605.4 469.2 603.9 469.2 601.8 469.3 599.6 469.4 597.4 469.4 595.3 469.4 593.4 469.5 591.5 469.6 588.9 469.6 585.9 469.6 583.3 469.7 579.8 469.8 576.8 469.8 573.6 469.9 569.8 469.9 566.8 469.9 562.8 470.0 557.9 470.1 554.0 470.1 549.4 470.1 545.0 470.2 540.4 470.2 535.9 470.3 529.9 470.4 523.8 470.4 517.5 470.4 510.3 470.5 502.9 470.6 493.7 470.6 486.1 470.6 476.4 470.7 468.5 470.8 459.0 470.8 449.9 470.9 440.4 470.9 428.5 470.9 416.4 471.0 402.1 471.1 390.2 471.1 374.7 471.1 362.1 471.2 350.3 471.2 336.1 471.3 324.3 471.4 310.7 471.4 297.1 471.4 284.2 471.5 271.9 471.6 260.6 471.6 250.4 471.6 240.3 471.7 228.1 471.8 218.5 471.8 207.5 471.9 195.9 471.9 186.6 471.9 177.3 472.0 169.2 472.1 162.1 472.1 157.6 472.1 154.6 472.2 153.9 472.3 157.2 472.4 162.3 472.4 169.8 472.4 177.3 472.5 186.1 472.6 195.9 472.6 206.4 472.6 217.9 472.7 229.1 472.8 240.0 472.8 249.4 472.9 260.0 472.9 271.4 472.9 283.4 473.0 295.7 473.1 310.0 473.1 322.8 473.1 336.0 473.2 348.8 473.2 365.7 473.3 382.3 473.4 399.8 473.4 417.9 473.4 434.1 473.5 449.6 473.6 462.7 473.6 476.5 473.6 489.0 473.7 500.8 473.8 512.4 473.8 523.9 473.9 533.2 473.9 540.3 473.9 546.3 474.0 551.9 474.1 557.3 474.1 561.0 474.1 566.3 474.2 569.4 474.2 573.1 474.3 577.3 474.4 581.8 474.4 584.4 474.4 588.3 474.5 591.8 474.6 596.5 474.6 600.8 474.6 605.3 474.7 609.8 474.8 614.8 474.8 619.7 474.9 623.8 474.9 628.5 474.9 633.0 475.0 637.6 475.1 642.7 475.1 645.9 475.1 650.3 475.2 654.3 475.2 657.1 475.3 661.0 475.4 664.6 475.4 667.0 475.4 671.3 475.5 673.3 475.6 676.5 475.6 678.5 475.6 681.0 475.7 684.0 475.8 687.1 475.8 689.6 475.9 691.7 475.9 693.0 475.9 694.6 476.0 695.9 476.1 696.9 476.1 697.2 476.1 697.6 476.2 698.3 476.2 698.6 476.3 698.4 476.4 698.4 476.4 698.9 476.4 701.2 476.5 699.9 476.6 701.5 476.6 702.0 476.6 702.5 476.7 702.2 476.8 703.7 476.8 703.1 476.9 702.8 476.9 703.2 477.0 704.6 477.1 703.5 477.1 704.2 477.1 705.0 477.6 706.2 478.1 705.8 478.6 706.0 479.1 706.3 479.6 707.0 480.1 706.9 480.6 707.2 481.1 707.8 481.6 707.9 482.1 708.3 482.6 707.4 483.1 707.5 483.6 707.1 484.1 707.6 484.6 707.8 485.1 707.4 485.6 708.3 486.1 707.9 486.6 708.9 487.1 708.6 487.6 708.9 488.1 708.7 488.6 709.0 489.1 709.1 489.6 707.3 490.1 706.7 490.2 706.6 490.3 706.4 490.4 706.2 490.4 706.3 490.4 705.5 490.5 705.3 490.6 705.4 490.6 704.5 491.1 702.2 491.1 702.3 491.2 702.4 491.2 702.0 491.3 703.0 491.4 703.0 491.4 701.0 491.4 702.9 491.5 700.6 491.6 702.1 491.6 700.3 491.6 699.7 491.7 699.9 491.8 700.6 491.8 699.8 491.9 699.8 491.9 700.4 491.9 699.0 492.0 699.3 492.1 699.2 492.1 697.4 492.2 697.7 492.2 697.3 492.3 697.3 492.4 696.2 492.4 696.7 492.4 697.2 492.5 697.2 492.6 697.5 492.6 696.6 493.1 695.4 493.6 695.6 494.1 696.6 494.1 696.1 494.1 697.9 494.2 697.2 494.3 697.5 494.4 698.4 494.4 698.2 494.5 699.0 494.6 698.5 494.6 698.1 494.6 698.3 494.7 699.0 494.8 699.0 495.1 699.7 495.4 700.9 495.4 699.7 495.4 701.3 495.5 700.9 495.6 701.4 495.6 701.9 495.6 703.0 495.7 702.1 495.8 702.1 495.8 702.6 495.9 701.7 495.9 702.9 496.1 704.1 496.6 704.4 497.1 705.0 497.4 703.6 497.4 702.8 497.4 703.6 497.5 702.9 497.6 703.0 497.6 702.5 497.6 701.7 497.7 702.5 497.8 702.1 497.8 701.9 497.9 701.4 497.9 700.9 497.9 701.8 498.0 701.3 498.1 700.7 498.1 700.0 498.1 700.5 498.2 699.0 498.2 698.5 498.3 699.1 498.4 697.9 498.4 697.5 498.4 696.9 498.5 697.1 498.6 695.8 498.6 695.5 498.6 694.7 498.7 695.0 498.8 694.3 498.8 694.8 498.9 694.9 498.9 695.1 499.0 693.6 499.1 692.9 499.1 693.1 499.1 692.3 499.2 693.2 499.2 692.7 499.3 691.3 499.4 691.2 499.4 691.0 499.4 689.4 499.5 689.0 499.6 688.8 499.6 689.1 499.6 688.6 499.7 688.1 499.8 688.1 499.8 687.4 499.9 686.8 499.9 686.5 499.9 686.0 500.0 686.1 500.1 685.6 500.1 685.1 500.1 684.6 500.2 683.8 500.2 684.0 500.3 684.8 500.4 683.6 500.4 683.4 500.4 683.1 500.5 681.9 500.6 681.5 500.6 680.4 500.7 680.7 500.8 680.0 500.8 679.2 500.9 678.5 500.9 678.2 500.9 677.5 501.0 676.0 501.1 676.8 501.1 675.5 501.1 675.0 501.2 674.4 501.2 674.1 501.3 673.4 501.4 673.1 501.4 673.7 501.4 673.4 501.5 673.3 501.6 672.4 501.6 672.9 501.6 673.5 501.7 673.1 502.1 672.6 502.3 674.0 502.4 672.3 502.4 672.7 502.4 672.8 502.5 673.5 502.6 675.5 502.6 674.0 502.6 674.6 502.7 674.9 502.8 675.1 502.8 676.1 502.9 675.8 502.9 676.6 502.9 677.1 503.0 676.8 503.1 678.4 503.1 677.9 503.1 679.1 503.2 679.8 503.2 679.2 503.3 679.9 503.4 680.4 503.4 680.8 503.4 681.2 503.5 682.5 503.6 682.1 503.6 683.3 503.6 684.2 503.7 683.5 503.8 684.1 503.8 684.3 503.9 685.4 503.9 686.0 503.9 684.8 504.0 685.6 504.1 686.3 504.1 688.1 504.1 687.3 504.2 688.0 504.2 687.6 504.3 689.0 504.4 688.7 504.4 689.7 504.4 689.8 504.5 690.7 504.6 691.1 504.6 691.7 504.6 691.9 504.7 692.9 504.8 691.9 504.8 693.0 504.9 692.7 504.9 692.5 504.9 692.8 505.0 692.9 505.1 693.6 505.1 694.3 505.1 695.0 505.2 695.7 505.3 697.4 505.4 698.0 505.4 698.3 505.5 698.1 505.6 698.9 505.6 699.5 505.6 698.7 505.7 699.1 505.8 699.0 505.8 699.8 505.9 699.1 505.9 698.7 505.9 700.0 506.0 700.9 506.1 700.6 506.1 700.9 506.1 701.6 506.2 702.8 506.2 702.5 506.3 703.0 506.4 703.7 506.4 703.5 506.4 703.3 506.5 704.4 506.6 704.5 506.6 705.0 506.6 705.2 506.7 705.7 506.8 705.4 506.8 706.3 506.9 706.0 506.9 706.7 506.9 706.5 507.0 707.6 507.1 706.5 507.1 706.0 507.1 707.1 507.2 706.9 507.3 707.7 507.6 709.3 508.1 708.9 508.6 708.4 509.1 708.7 509.6 707.6 510.1 706.1 510.6 704.7 511.1 704.1 511.6 702.1 512.1 700.8 512.6 699.6 513.1 699.2 513.6 698.7 514.1 697.0 514.6 696.5 514.8 694.4 514.8 695.1 514.9 694.3 514.9 695.3 515.0 695.4 515.0 693.9 515.0 694.2 515.1 694.4 515.1 693.7 515.2 693.9 515.3 694.2 515.4 693.4 515.4 692.7 515.5 692.4 515.5 692.3 515.5 692.1 515.6 691.9 515.6 692.3 515.7 691.3 515.8 691.2 515.8 691.1 515.9 690.5 515.9 691.2 516.0 690.8 516.0 690.7 516.0 689.6 516.1 689.4 516.1 689.1 516.2 688.3 516.2 686.5 516.3 685.4 516.4 684.0 516.4 683.1 516.5 683.6 516.5 682.5 516.5 682.0 516.6 681.3 516.6 679.8 516.7 678.8 516.8 677.4 516.8 676.8 516.9 676.5 516.9 676.1 517.0 675.0 517.0 673.2 517.0 672.0 517.1 671.2 517.1 669.7 517.2 668.2 517.2 666.5 517.3 665.4 517.4 663.5 517.4 662.6 517.5 660.8 517.5 659.3 517.5 657.5 517.6 656.7 517.6 655.5 517.7 653.7 517.8 651.5 517.8 649.4 517.9 648.4 517.9 647.7 518.0 644.8 518.0 643.4 518.0 641.7 518.1 640.0 518.1 637.0 518.2 635.4 518.2 633.7 518.3 631.3 518.4 630.1 518.4 627.7 518.5 626.6 518.5 625.4 518.5 624.0 518.6 622.5 518.6 622.4 518.7 621.5 518.8 620.6 518.8 620.4 518.9 619.6 519.1 619.6 519.4 620.6 519.4 621.0 519.5 621.3 519.5 620.7 519.5 621.2 519.6 621.2 519.6 621.0 519.7 620.3 519.8 620.5 519.8 621.8 519.9 621.1 519.9 621.3 520.0 622.0 520.0 623.0 520.0 624.2 520.1 624.2 520.1 624.1 520.2 624.5 520.2 625.2 520.3 625.4 520.4 625.1 520.4 627.0 520.5 627.5 520.5 627.2 520.5 628.1 520.6 628.7 520.6 629.0 520.7 629.3 520.8 630.3 520.8 632.1 520.9 632.3 520.9 634.1 521.0 635.0 521.0 635.4 521.0 637.1 521.1 637.8 521.1 639.0 521.2 640.0 521.2 640.7 521.3 641.6 521.4 642.9 521.4 644.4 521.5 644.9 521.5 646.1 521.5 648.3 521.6 649.2 521.6 651.4 521.7 654.3 521.8 655.8 521.8 657.7 521.9 658.8 521.9 661.0 522.0 661.8 522.0 663.6 522.0 665.8 522.1 667.4 522.1 670.2 522.2 671.3 522.2 672.5 522.3 674.8 522.4 676.0 522.4 677.4 522.5 677.8 522.5 679.4 522.5 680.4 522.6 683.3 522.6 684.7 522.7 686.0 522.8 688.3 522.8 688.9 522.9 690.6 522.9 691.9 523.0 693.2 523.0 695.0 523.0 696.1 523.1 697.1 523.1 697.6 523.2 698.0 523.2 698.5 523.6 698.4 524.1 696.7 524.2 696.7 524.2 696.6 524.3 696.6 524.4 697.3 524.4 698.0 524.5 697.2 524.5 696.6 524.5 696.1 524.6 696.2 524.6 697.0 524.7 696.0 524.8 697.1 524.8 696.2 524.9 696.0 524.9 695.3 525.0 695.5 525.0 695.1 525.0 694.1 525.1 695.1 525.1 694.4 525.2 693.7 525.2 694.8 525.3 694.9 525.4 694.8 525.6 694.4 526.1 693.6 526.6 692.7 527.0 693.9 527.1 694.0 527.1 694.1 527.2 693.4 527.2 694.4 527.3 694.3 527.4 695.2 527.4 694.0 527.5 694.3 527.5 694.8 527.5 694.9 527.6 695.8 527.6 696.4 527.7 696.0 527.8 696.6 527.8 696.9 527.9 696.2 527.9 697.5 528.0 696.7 528.0 696.9 528.0 696.5 528.1 697.3 528.1 697.0 528.2 698.3 528.2 697.8 528.3 698.4 528.4 698.8 528.4 699.2 528.5 699.3 528.5 700.2 528.5 699.5 528.6 699.4 528.6 699.7 528.7 700.8 528.8 701.3 528.8 700.6 528.9 700.8 528.9 701.3 529.0 700.7 529.0 701.4 529.1 702.5 529.1 701.6 529.2 702.4 529.2 702.3 529.3 703.0 529.4 703.1 529.4 702.9 529.5 704.0 529.5 703.4 529.5 703.2 529.6 703.6 530.1 705.2 530.6 706.1 531.1 707.9 531.6 708.1 532.1 708.7 532.6 709.6 533.1 711.3 533.6 710.4 534.1 712.4 534.6 713.2 535.1 713.0 535.6 713.4 536.1 713.9 536.6 713.9 537.1 713.6 537.6 713.0 538.1 712.2 538.6 711.5 539.1 711.0 539.6 712.8 540.1 712.8 540.6 712.0 541.1 713.3 541.6 712.6 542.1 712.5 542.6 712.3 543.1 714.0 543.6 712.6 544.1 712.6 544.6 712.8 545.1 711.8 545.6 710.6 546.1 708.8 546.6 708.2 547.1 707.1 547.6 706.8 548.1 707.8 548.6 707.8 549.1 709.2 549.6 709.7 550.1 711.1 550.6 712.3 551.1 713.0 551.6 712.6 552.1 713.6 552.6 714.1 553.1 712.4 553.6 713.5 554.1 714.0 554.6 713.7 555.1 714.5 555.6 713.6 556.1 713.4 556.6 712.3 557.1 713.2 557.6 712.4 558.1 712.4 558.6 711.9 559.1 711.5 559.6 711.7 560.1 711.2 560.6 711.8 561.1 712.7 561.6 712.8 562.1 711.9 562.6 712.6 563.1 711.6 563.6 710.8 564.1 710.6 564.6 709.7 565.1 708.4 565.6 708.5 566.1 707.8 566.6 708.6 567.1 706.7 567.6 707.0 568.1 706.8 568.6 706.2 569.1 705.7 569.6 706.8 570.1 706.4 570.6 705.8 571.1 706.4 571.6 706.5 572.1 706.8 572.6 706.3 573.1 707.6 573.6 707.2 574.1 708.4 574.6 708.8 575.1 709.2 575.6 710.0 576.1 710.9 576.6 711.4 577.1 711.9 577.6 712.5 578.1 713.0 578.6 712.0 579.1 711.8 579.6 712.1 580.1 713.0 580.6 712.2 581.1 711.7 581.6 711.8 582.1 711.7 582.6 710.6 583.1 710.4 583.6 710.6 584.1 710.4 584.6 709.8 585.1 710.9 585.6 710.1 586.1 709.3 586.6 709.5 587.1 708.6 587.6 709.7 588.1 709.3 588.6 709.4 589.1 709.4 589.6 710.7 590.1 710.7 590.6 710.8 591.1 711.8 591.6 711.4 592.1 711.8 592.6 711.5 593.1 711.9 593.6 711.2 594.1 711.5 594.6 711.7 595.1 711.3 595.6 711.2 596.1 711.6 596.6 710.9 597.1 711.7 597.6 711.7 598.1 712.0 598.6 711.8 599.1 713.5 599.6 713.6 600.1 712.8 600.6 712.4 601.1 712.0 601.6 711.6 602.1 711.5 602.6 711.7 603.1 710.8 603.6 711.5 604.1 711.7 604.6 710.6 605.1 710.8 605.6 710.2 606.1 710.3 606.6 711.4 607.1 711.0 607.6 712.9 608.1 711.7 608.6 711.3 609.1 711.3 609.6 711.4 610.1 711.5 610.6 711.6 611.1 711.7 611.6 712.1 612.1 712.2 612.6 711.7 613.1 711.8 613.6 711.3 614.1 711.4 614.6 711.7 615.1 712.6 615.6 711.8 616.1 712.2 616.6 712.1 617.1 712.3 617.6 711.7 618.1 711.7 618.6 712.1 619.1 711.6 619.6 711.4 620.1 712.3 620.6 712.1 621.1 711.4 621.6 711.1 622.1 710.1 622.5 707.8 622.5 707.5 622.6 707.0 622.6 709.0 622.7 708.0 622.8 708.0 622.8 707.2 622.9 707.1 622.9 706.3 623.0 707.3 623.0 706.9 623.0 706.3 623.1 705.9 623.1 706.4 623.2 705.5 623.2 706.2 623.3 705.7 623.4 705.6 623.4 705.2 623.5 705.9 623.5 705.2 623.5 706.2 623.6 704.7 623.6 705.3 623.7 706.3 623.8 704.7 623.8 704.8 623.9 704.6 623.9 704.0 624.0 703.6 624.0 703.8 624.0 703.4 624.1 702.2 624.1 702.8 624.2 702.4 624.2 701.1 624.3 701.5 624.4 701.2 624.4 700.8 624.5 700.2 624.5 699.7 624.5 700.1 624.6 698.8 624.6 698.7 624.7 697.4 624.8 697.4 624.8 697.2 624.9 696.0 624.9 696.4 625.0 696.0 625.0 695.4 625.0 695.3 625.1 695.5 625.1 695.0 625.2 693.7 625.2 694.1 625.3 693.5 625.4 693.5 625.4 692.3 625.5 692.7 625.5 692.0 625.5 691.8 625.6 690.5 625.6 690.4 625.7 689.4 625.8 690.2 625.8 690.3 625.9 689.7 625.9 690.3 626.0 689.6 626.0 690.2 626.0 689.3 626.1 688.9 626.1 689.2 626.2 688.2 626.2 688.4 626.3 688.2 626.4 687.8 626.4 688.6 626.5 687.9 626.6 687.3 627.1 686.8 627.4 687.1 627.4 688.2 627.5 688.2 627.5 688.7 627.5 688.6 627.6 689.0 627.6 688.6 627.7 689.2 627.8 689.9 627.8 690.5 627.9 690.3 627.9 690.2 628.0 691.4 628.0 690.6 628.1 691.6 628.1 691.4 628.2 690.9 628.2 691.5 628.3 691.2 628.4 692.0 628.4 692.6 628.5 693.4 628.5 694.6 628.5 693.9 628.6 693.4 628.6 695.2 628.7 694.9 628.8 695.5 628.8 695.6 628.9 696.2 628.9 695.0 629.0 697.0 629.0 696.7 629.0 697.1 629.1 698.5 629.1 698.6 629.2 697.5 629.2 697.8 629.3 698.6 629.4 697.3 629.4 698.2 629.5 698.6 629.5 698.7 629.6 699.5 629.6 699.2 629.7 699.1 629.8 700.1 629.8 699.6 629.9 700.5 629.9 701.3 630.0 700.9 630.0 702.5 630.0 702.4 630.1 702.7 630.1 702.6 630.2 703.4 630.2 703.3 630.3 703.6 630.4 703.3 630.4 703.8 630.5 703.2 630.5 703.4 630.5 704.0 630.6 703.8 630.6 705.1 630.7 705.7 630.8 705.3 631.1 706.9 631.6 707.9 632.1 708.8 632.6 710.2 633.1 709.4 633.6 708.4 633.8 707.8 633.8 708.0 633.9 708.4 633.9 708.6 634.0 708.5 634.0 709.0 634.0 708.3 634.1 708.1 634.6 707.5 635.1 706.3 635.6 706.6 636.1 707.0 636.6 707.5 637.1 709.5 637.6 710.3 638.1 711.2 638.6 711.8 639.1 712.1 639.6 712.1 640.1 710.5 640.6 711.6 641.1 709.6 641.6 709.5 642.1 709.8 642.6 708.6 643.1 707.9 643.6 705.7 644.1 704.6 644.6 703.4 645.1 701.6 645.6 700.8 646.1 700.6 646.6 700.1 647.1 698.2 647.6 698.6 648.1 698.7 648.6 699.4 649.1 698.5 649.6 699.2 650.1 698.6 650.6 698.4 651.1 698.8 651.6 700.6 652.1 701.2 652.6 702.8 653.1 703.6 653.6 705.2 654.1 705.8 654.6 707.3 655.1 707.5 655.6 708.9 656.1 710.3 656.6 711.3 657.1 711.1 657.6 709.3 658.1 708.9 658.3 708.5 658.4 709.5 658.4 707.5 658.5 707.4 658.5 706.9 658.6 705.6 658.6 706.6 658.7 704.3 658.8 705.1 658.8 704.7 658.9 704.5 658.9 705.2 659.0 705.4 659.0 705.1 659.0 705.5 659.1 705.7 659.2 704.4 659.2 704.6 659.3 704.3 659.4 704.4 659.4 704.1 659.5 702.6 659.5 702.8 659.5 702.9 659.6 702.7 659.6 702.8 659.7 701.7 659.8 701.2 659.8 701.9 659.9 702.1 659.9 701.9 660.0 701.7 660.0 702.2 660.0 701.0 660.1 701.0 660.1 700.9 660.2 700.3 660.2 699.6 660.3 698.6 660.4 697.0 660.4 697.9 660.5 698.4 660.5 698.3 660.5 698.5 660.6 698.0 660.6 698.4 660.7 697.7 660.8 697.6 660.8 698.0 660.9 696.2 660.9 695.6 661.0 695.7 661.0 694.9 661.0 693.2 661.1 694.1 661.1 692.6 661.2 692.0 661.3 691.0 661.4 690.3 661.5 689.7 661.5 687.9 661.5 688.8 661.6 688.6 661.6 687.5 661.7 686.6 661.8 686.0 661.8 685.2 661.9 684.1 661.9 683.1 662.0 681.6 662.0 681.1 662.0 679.8 662.1 679.8 662.1 678.7 662.2 678.5 662.2 677.8 662.3 678.0 662.4 678.0 662.4 676.9 662.5 677.3 662.5 676.1 662.5 675.2 662.6 674.9 662.6 673.9 662.7 672.1 662.8 672.7 662.8 671.7 662.9 670.6 662.9 668.3 663.0 667.2 663.0 667.3 663.0 667.7 663.1 666.8 663.1 665.4 663.2 664.3 663.2 662.3 663.3 662.4 663.4 661.2 663.4 660.8 663.5 659.8 663.5 660.0 663.5 659.0 663.6 658.9 663.6 658.3 663.7 657.5 663.8 656.6 663.8 656.0 663.9 655.3 663.9 654.9 664.0 654.9 664.0 653.4 664.0 652.6 664.1 652.5 664.1 651.3 664.2 652.0 664.2 652.3 664.3 651.6 664.4 653.0 664.6 652.5 664.6 652.6 664.7 652.3 664.8 652.1 664.8 651.7 664.9 652.6 664.9 653.0 665.0 652.6 665.0 653.8 665.0 654.3 665.1 655.8 665.1 655.6 665.2 656.5 665.2 656.8 665.3 656.6 665.4 658.3 665.4 658.8 665.5 659.1 665.5 661.0 665.5 662.0 665.6 661.5 665.6 662.7 665.7 663.2 665.8 663.8 665.8 664.5 665.9 665.0 665.9 665.3 666.0 667.0 666.0 667.4 666.0 668.6 666.1 669.8 666.1 671.0 666.2 671.2 666.2 670.7 666.3 671.3 666.4 672.5 666.4 672.6 666.5 673.3 666.5 673.1 666.5 674.3 666.6 674.9 666.6 675.8 666.7 676.6 666.8 676.3 666.8 678.3 666.9 678.6 666.9 679.8 667.0 681.4 667.0 681.8 667.0 682.7 667.1 683.9 667.1 684.8 667.2 684.8 667.2 684.7 667.3 685.9 667.4 686.1 667.4 686.8 667.5 687.9 667.5 688.5 667.5 689.5 667.6 690.0 667.6 690.4 667.7 689.8 667.8 690.8 667.8 691.1 667.9 692.3 667.9 692.5 668.0 692.9 668.0 693.3 668.0 694.7 668.1 694.5 668.1 696.1 668.2 696.0 668.2 696.5 668.3 697.7 668.4 697.6 668.4 698.1 668.5 698.1 668.5 699.8 668.5 698.5 668.6 700.3 668.6 700.7 668.7 701.3 668.8 701.4 668.8 701.9 668.9 703.9 669.0 704.4 669.0 703.5 669.0 704.9 669.1 705.5 669.1 705.6 669.2 705.0 669.2 705.7 669.3 705.6 669.4 707.4 669.4 708.2 669.5 708.1 669.5 708.0 669.6 709.2 669.6 709.0 669.7 711.0 670.1 711.4 670.6 712.6 671.1 712.3 671.6 712.0 672.1 711.9 672.6 711.0 673.1 711.1 673.6 711.0 674.1 710.5 674.6 711.1 675.1 710.2 675.6 709.9 676.1 710.9 676.6 711.2 677.1 711.4 677.6 711.7 678.1 711.9 678.6 712.0 679.1 712.0 679.6 712.0 680.1 711.3 680.6 712.3 681.1 712.5 681.6 711.9 682.1 711.7 682.6 712.5 683.1 711.8 683.6 712.2 684.1 712.2 684.6 712.4 685.1 713.3 685.6 711.8 686.1 710.5 686.6 712.3 687.1 712.1 687.6 713.0 688.1 713.0 688.6 713.3 689.1 712.9 689.6 713.1 690.1 712.0 690.6 712.2 691.1 711.0 691.6 711.0 692.1 711.4 692.6 712.0 693.1 711.6 693.6 712.2 694.1 712.6 694.6 712.6 695.1 711.8 695.6 713.2 696.1 712.4 696.6 712.9 697.1 713.4 697.6 712.1 698.1 711.4 698.6 712.6 699.1 711.4 699.6 712.1 700.1 711.7 700.6 713.0 701.1 712.5 701.6 713.4 702.1 713.1 702.6 712.7 703.1 713.2 703.6 712.1 704.1 711.9 704.6 712.3 705.1 712.0 705.6 711.2 706.1 711.7 706.6 711.9 707.1 711.6 707.6 712.8 708.1 711.8 708.6 712.3 709.1 712.2 709.6 712.1 710.1 710.4 710.6 711.9 711.1 711.7 711.6 712.7 712.1 711.6 712.6 712.9 713.1 712.7 713.6 712.0 714.1 712.3 714.6 712.4 715.1 711.6 715.6 711.7 716.1 712.5 716.6 713.1 717.1 713.0 717.6 712.9 718.1 712.5 718.6 712.4 719.1 712.8 719.6 712.4 720.1 712.7 720.6 712.2 721.1 711.9 721.6 711.5 722.1 711.6 722.6 712.3 723.1 711.6 723.6 712.1 724.1 712.7 724.6 713.0 725.1 713.5 725.6 712.7 726.1 713.7 726.6 712.7 727.1 712.7 727.6 712.8 728.1 713.4 728.6 713.4 729.1 713.2 729.6 712.5 730.1 712.3 730.6 712.8 731.1 712.7 731.6 712.4 732.1 712.5 732.6 712.0 733.1 712.3 733.6 712.8 734.1 712.3 734.6 712.0 735.1 712.0 735.6 712.3 736.1 711.6 736.6 711.7 737.1 711.7 737.6 711.3 738.1 712.5 738.6 711.9 739.1 710.8 739.6 711.6 740.1 710.1 740.6 710.3 741.1 709.4 741.6 710.0 742.1 709.2 742.6 709.0 743.1 708.9 743.6 709.7 744.1 707.7 744.6 708.5 745.1 708.7 745.6 709.0 746.1 708.8 746.6 709.0 747.1 709.8 747.6 710.3 748.1 710.1 748.6 711.4 749.1 711.0 749.6 711.1 750.1 711.6 750.6 710.9 751.1 708.9 751.6 709.7 752.1 709.4 752.6 708.6 753.1 707.8 753.6 708.5 754.1 707.5 754.6 707.8 755.1 707.5 755.6 708.1 756.1 708.1 756.6 709.8 757.1 709.5 757.6 710.1 758.1 710.0 758.6 710.9 759.1 711.0 759.6 709.8 760.1 709.1 760.6 708.4 761.1 707.1 761.6 706.6 762.1 706.3 762.6 706.2 763.1 705.6 763.6 705.7 764.1 706.1 764.6 706.9 765.1 707.3 765.6 707.6 766.1 708.6 766.6 708.8 767.1 710.7 767.6 711.3 768.1 711.9 768.6 711.5 769.1 712.4 769.6 712.7 770.1 712.3 770.6 712.7 771.1 711.7 771.6 712.6 772.1 712.8 772.6 712.1 773.1 711.9 773.6 711.5 774.1 712.0 774.6 711.2 775.1 710.6 775.6 709.7 776.1 709.8 776.6 709.5 777.1 709.5 777.6 709.5 778.1 710.0 778.6 709.7 779.1 709.5 779.6 709.6 780.1 709.6 780.6 709.3 781.1 710.6 781.6 710.6 782.1 709.1 782.6 709.5 783.1 709.4 783.6 710.5 784.1 709.6 784.6 710.0 785.1 709.3 785.6 709.6 786.1 710.2 786.6 711.0 787.1 710.7 787.6 712.1 788.1 712.9 788.6 713.2 789.1 713.4 789.6 712.4 790.1 713.2 790.6 712.6 791.1 711.4 791.6 712.4 792.1 712.1 792.6 711.7 793.1 712.4 793.6 711.7 794.1 712.0 794.6 712.1 795.1 713.1 795.6 712.3 796.1 713.5 796.6 713.0 797.1 713.5 797.6 713.0 798.1 713.0 798.6 712.9 799.1 713.1 799.6 712.8 800.1 713.1 800.6 712.2 801.1 713.3 801.6 713.7 802.1 713.5 802.6 713.4 803.1 713.1 803.6 712.4 804.1 711.8 804.6 711.8 805.1 711.7 805.6 711.6 806.1 712.1 806.6 711.9 807.1 712.3 807.6 711.9 808.1 711.8 808.6 713.0 809.1 712.3 809.6 711.9 810.1 711.3 810.6 711.7 811.1 712.2 811.6 710.8 812.1 710.9 812.6 711.3 813.1 710.6 813.6 710.0 814.1 711.1 814.6 710.5 815.1 711.0 815.6 711.1 816.1 710.8 816.6 710.2 817.1 711.3 817.6 710.8 818.1 710.5 818.6 710.4 819.1 710.5 819.6 711.0 820.1 710.5 820.6 711.2 821.1 710.8 821.6 710.8 822.1 711.3 822.6 711.6 823.1 712.6 823.6 713.3 824.1 713.5 824.6 714.5 825.1 714.6 825.6 714.2 826.1 713.7 826.6 714.2 827.1 712.6 827.6 713.3 828.1 712.7 828.6 713.3 829.1 712.8 829.6 713.7 830.1 713.2 830.6 713.1 831.1 713.1 831.6 713.9 832.1 713.6 832.6 712.8 833.1 712.7 833.6 712.3 834.1 713.6 834.6 713.5 835.1 713.0 835.6 713.7 836.1 713.2 836.6 713.2 837.1 713.1 837.6 713.2 838.1 712.5 838.6 712.9 839.1 712.6 839.6 711.7 840.1 711.9 840.6 712.8 841.1 712.4 841.6 712.4 842.1 712.7 842.6 712.7 843.1 712.9 843.6 713.4 844.1 712.8 844.6 713.1 845.1 713.4 845.6 712.9 846.1 711.7 846.6 713.0 847.1 711.9 847.6 712.2 848.1 713.0 848.6 713.8 849.1 713.3 849.6 713.0 850.1 712.6 850.6 712.3 851.1 712.0 851.6 712.9 852.1 712.6 852.6 712.9 853.1 712.4 853.6 713.3 854.1 712.4 854.6 713.3 855.1 713.7 855.6 712.3 856.1 712.1 856.6 713.2 857.1 712.4 857.6 713.3 858.1 712.2 858.6 712.8 859.1 713.0 859.6 712.8 860.1 712.3 860.6 711.8 861.1 713.1 861.6 712.9 862.1 713.3 862.6 713.8 863.1 712.1 863.6 712.5 864.1 713.0 864.6 713.7 865.1 713.2 865.6 713.9 866.1 713.1 866.6 713.5 867.1 713.3 867.6 713.4 868.1 713.0 868.6 712.8 869.1 713.2 869.6 712.7 870.1 712.6 870.6 712.7 871.1 712.7 871.6 713.4 872.1 713.4 872.6 712.7 873.1 712.9 873.6 711.9 874.1 711.9 874.6 712.1 875.1 712.6 875.6 712.2 876.1 712.5 876.6 711.6 877.1 712.3 877.6 711.8 878.1 711.3 878.6 711.5 879.1 711.9 879.6 711.6 880.1 711.9 880.6 712.3 881.1 712.7 881.6 712.5 882.1 713.2 882.6 713.0 883.1 712.5 883.6 713.2 884.1 712.5 884.6 712.6 885.1 712.8 885.6 713.4 886.1 712.0 886.6 712.9 887.1 712.1 887.6 713.0 888.1 713.4 888.6 713.2 889.1 713.2 889.6 712.6 890.1 711.9 890.6 712.6 891.1 712.6 891.6 713.3 892.1 712.4 892.6 712.0 893.1 711.5 893.6 710.3 894.1 710.4 894.6 710.5 895.1 709.8 895.6 709.1 896.1 709.4 896.6 709.8 897.1 709.3 897.6 709.1 898.1 709.6 898.6 708.3 899.1 708.8 899.6 708.5 900.1 707.9 900.6 708.1 901.1 708.5 901.6 708.6 902.1 708.8 902.6 709.7 903.1 710.0 903.6 709.5 904.1 710.8 904.6 710.6 905.1 711.0 905.6 711.1 906.1 711.7 906.6 710.8 907.1 711.3 907.6 711.2 908.1 711.2 908.6 710.9 909.1 712.1 909.6 711.7 910.1 711.8 910.6 711.9 911.1 711.5 911.6 710.7 912.1 711.6 912.6 710.7 913.1 710.4 913.6 709.8 914.1 709.4 914.6 709.4 915.1 709.4 915.6 709.4 916.1 710.0 916.6 708.9 917.1 708.8 917.6 709.1 918.1 709.5 918.6 709.2 919.1 708.3 919.6 709.9 920.1 710.9 920.6 710.6 921.1 711.2 921.6 710.9 922.1 710.2 922.6 710.8 923.1 710.0 923.6 709.3 924.1 710.2 924.6 708.8 925.1 710.5 925.6 708.4 926.1 708.7 926.6 707.9 927.1 708.7 927.6 709.1 928.1 708.0 928.6 709.0 929.1 708.6 929.6 708.8 930.1 710.2 930.6 711.0 931.1 710.7 931.6 710.7 932.1 711.1 932.6 710.8 933.1 711.2 933.6 711.3 934.1 711.3 934.6 711.5 935.1 711.7 935.6 711.5 936.1 711.6 936.6 711.8 937.1 712.8 937.6 712.6" stroke="#ff0000" stroke-width="3.2"/>
<path d="M68.6 505.7L68.8 485.3 69.1 498.2 69.3 493.6 69.6 493.8 69.8 494.6 70.1 486.3 70.3 493.8 70.6 490.4 70.8 508.5 71.1 494.0 71.3 490.8 71.6 490.6 71.8 488.3 72.1 486.1 72.3 488.6 72.6 492.1 72.8 488.3 73.1 493.3 73.3 487.6 73.6 488.3 73.8 494.8 74.1 490.0 74.3 484.9 74.6 486.2 74.8 489.4 75.1 495.7 75.3 485.5 75.6 485.6 75.8 491.2 76.1 482.5 76.3 485.1 76.6 490.5 76.8 489.0 77.1 486.8 77.3 489.4 77.6 473.2 77.8 490.9 78.1 481.8 78.3 478.5 78.6 487.4 78.8 489.3 79.1 484.0 79.3 481.1 79.6 486.1 79.8 485.7 80.1 492.4 80.3 489.3 80.6 486.7 80.8 490.9 81.1 484.8 81.3 481.4 81.6 488.3 81.8 488.2 82.1 484.5 82.3 481.8 82.6 486.3 82.8 473.7 83.1 488.3 83.3 487.2 83.6 477.2 83.8 484.9 84.1 480.0 84.3 487.9 84.6 474.8 84.8 479.8 85.1 487.2 85.3 489.1 85.6 473.5 85.8 481.1 86.1 484.7 86.3 480.2 86.6 490.3 86.8 477.2 87.1 484.3 87.3 477.6 87.6 488.9 87.8 482.1 88.1 480.4 88.3 474.0 88.6 489.8 88.8 485.4 89.1 485.4 89.3 487.1 89.6 483.4 89.8 478.7 90.1 477.9 90.3 477.9 90.6 488.0 90.8 474.8 91.1 478.8 91.3 480.0 91.6 482.6 91.8 484.2 92.1 475.6 92.3 473.3 92.6 481.4 92.8 487.1 93.1 484.9 93.3 482.4 93.6 479.9 93.8 482.7 94.1 480.2 94.3 485.1 94.6 477.6 94.8 481.9 95.1 480.7 95.3 483.8 95.6 482.3 95.8 493.2 96.1 488.2 96.3 488.2 96.6 471.6 96.8 479.6 97.1 478.3 97.3 483.6 97.6 470.4 97.8 486.6 98.1 486.1 98.3 475.0 98.6 476.5 98.8 477.3 99.1 481.2 99.3 484.0 99.6 490.6 99.8 480.1 100.1 484.6 100.3 481.7 100.6 489.2 100.8 484.4 101.1 487.3 101.3 475.8 101.6 480.0 101.8 477.1 102.1 487.9 102.3 483.9 102.6 479.4 102.8 478.7 103.1 483.1 103.3 477.5 103.6 476.4 103.8 483.0 104.1 492.3 104.3 479.5 104.6 478.0 104.8 475.1 105.1 474.3 105.3 483.0 105.6 484.5 105.8 480.5 106.1 482.0 106.3 481.0 106.6 481.0 106.8 473.2 107.1 478.1 107.3 480.8 107.6 476.5 107.8 477.9 108.1 476.3 108.3 478.5 108.6 484.1 108.8 478.1 109.1 479.2 109.3 483.8 109.6 482.9 109.8 487.8 110.1 469.9 110.3 483.8 110.6 477.4 110.8 480.3 111.1 483.6 111.3 484.7 111.6 484.4 111.8 480.2 112.1 487.0 112.3 478.1 112.6 478.7 112.8 483.1 113.1 476.7 113.3 489.5 113.6 484.0 113.8 489.5 114.1 479.0 114.3 477.3 114.6 479.9 114.8 482.5 115.1 476.2 115.3 480.8 115.6 478.9 115.8 486.6 116.1 475.8 116.3 483.8 116.6 475.8 116.8 474.3 117.1 475.5 117.3 473.2 117.6 479.5 117.8 483.7 118.1 479.6 118.3 481.8 118.6 486.5 118.8 480.1 119.1 479.7 119.3 477.5 119.6 471.2 119.8 482.4 120.1 470.5 120.3 481.9 120.6 478.8 120.8 484.2 121.1 478.5 121.3 475.0 121.6 480.6 121.8 476.2 122.1 478.0 122.3 479.1 122.6 478.3 122.8 478.0 123.1 475.0 123.3 478.1 123.6 468.8 123.8 478.2 124.1 473.3 124.3 484.3 124.6 485.0 124.8 469.8 125.1 479.7 125.3 478.5 125.6 474.1 125.8 481.6 126.1 476.9 126.3 470.7 126.6 477.9 126.8 478.4 127.1 479.6 127.3 473.3 127.6 482.1 127.8 482.6 128.1 473.8 128.3 476.1 128.6 478.8 128.8 476.5 129.1 487.4 129.3 480.2 129.6 474.4 129.8 475.5 130.1 478.9 130.3 490.0 130.6 478.4 130.8 479.8 131.1 481.6 131.3 479.0 131.6 489.9 131.8 476.6 132.1 482.7 132.3 479.9 132.6 482.0 132.8 473.5 133.1 487.4 133.3 478.5 133.6 479.2 133.8 474.6 134.1 475.5 134.3 481.6 134.6 483.6 134.8 482.5 135.1 484.6 135.3 482.2 135.6 479.0 135.8 482.7 136.1 481.6 136.3 478.2 136.6 482.1 136.8 484.7 137.1 479.7 137.3 476.9 137.6 481.9 137.8 487.5 138.1 477.5 138.3 478.0 138.6 477.7 138.8 484.1 139.1 469.6 139.3 480.0 139.6 483.8 139.8 474.3 140.1 485.2 140.3 480.6 140.6 475.4 140.8 478.9 141.1 470.6 141.3 475.2 141.6 486.5 141.8 473.5 142.1 486.5 142.3 477.3 142.6 482.3 142.8 477.7 143.1 466.8 143.3 474.7 143.6 478.3 143.8 471.8 144.1 470.9 144.3 479.0 144.6 474.1 144.8 469.0 145.1 473.8 145.3 481.1 145.6 474.7 145.8 481.3 146.1 484.1 146.3 476.9 146.6 471.3 146.8 470.4 147.1 476.5 147.3 480.7 147.6 477.7 147.8 479.0 148.1 474.2 148.3 477.7 148.6 473.9 148.8 474.5 149.1 469.8 149.3 468.4 149.6 473.5 149.8 470.4 150.1 471.1 150.3 478.8 150.6 474.9 150.8 489.3 151.1 479.7 151.3 472.1 151.6 478.8 151.8 476.7 152.1 471.6 152.3 480.0 152.6 470.9 152.8 459.8 153.1 478.2 153.3 471.3 153.6 481.3 153.8 470.9 154.1 468.3 154.3 481.3 154.6 468.5 154.8 474.6 155.1 480.5 155.3 473.9 155.6 472.8 155.8 473.6 156.1 477.0 156.3 468.9 156.6 475.7 156.8 475.4 157.1 483.8 157.3 470.7 157.6 467.8 157.8 475.6 158.1 470.0 158.3 473.2 158.6 472.3 158.8 477.2 159.1 468.2 159.3 470.8 159.6 458.7 159.8 466.7 160.1 478.3 160.3 467.4 160.6 467.2 160.8 464.5 161.1 473.1 161.3 471.0 161.6 464.2 161.8 473.2 162.1 471.0 162.3 473.3 162.6 466.4 162.8 477.9 163.1 471.2 163.3 468.5 163.6 466.4 163.8 467.6 164.1 472.9 164.3 467.2 164.6 473.7 164.8 471.1 165.1 474.7 165.3 471.9 165.6 467.5 165.8 458.2 166.1 469.0 166.3 471.2 166.6 468.0 166.8 469.8 167.1 464.5 167.3 464.8 167.6 461.9 167.8 473.1 168.1 467.0 168.3 463.6 168.6 459.3 168.8 464.9 169.1 472.7 169.3 467.7 169.6 461.6 169.8 472.1 170.1 472.0 170.3 469.6 170.6 468.4 170.8 470.1 171.1 466.9 171.3 467.8 171.6 459.9 171.8 471.1 172.1 464.6 172.3 473.4 172.6 452.9 172.8 466.5 173.1 467.7 173.3 460.9 173.6 464.7 173.8 466.0 174.1 464.9 174.3 459.1 174.6 461.0 174.8 466.6 175.1 467.7 175.3 461.6 175.6 461.4 175.8 461.8 176.1 465.8 176.3 455.1 176.6 453.6 176.8 460.7 177.1 454.3 177.3 456.8 177.6 460.0 177.8 461.8 178.1 453.8 178.3 463.1 178.6 449.9 178.8 461.5 179.1 450.6 179.3 451.9 179.6 461.5 179.8 456.0 180.1 453.8 180.3 455.5 180.6 459.9 180.8 457.1 181.1 457.1 181.3 462.4 181.6 453.2 181.8 454.3 182.1 453.9 182.3 462.3 182.6 461.3 182.8 462.6 183.1 455.7 183.3 454.9 183.6 459.9 183.8 453.3 184.1 459.4 184.3 458.7 184.6 451.3 184.8 454.3 185.1 453.9 185.3 463.3 185.6 467.5 185.8 453.5 186.1 453.9 186.3 441.9 186.6 454.6 186.8 453.3 187.1 447.6 187.3 457.0 187.6 444.7 187.8 451.5 188.1 453.2 188.3 445.9 188.6 456.6 188.8 457.4 189.1 444.6 189.3 444.3 189.6 454.6 189.8 451.1 190.1 444.8 190.3 449.4 190.6 450.2 190.8 449.9 191.1 454.7 191.3 452.3 191.6 459.3 191.8 457.1 192.1 453.3 192.3 455.2 192.6 456.3 192.8 452.9 193.1 442.7 193.3 453.4 193.6 449.1 193.8 457.0 194.1 448.8 194.3 450.9 194.6 449.7 194.8 456.7 195.1 448.6 195.3 446.1 195.6 448.9 195.8 444.8 196.1 447.8 196.3 446.7 196.6 448.0 196.8 456.6 197.1 444.1 197.3 446.3 197.6 444.8 197.8 449.3 198.1 439.3 198.3 441.7 198.6 445.0 198.8 447.9 199.1 444.5 199.3 441.9 199.6 439.8 199.8 446.9 200.1 451.7 200.3 445.5 200.6 444.6 200.8 445.8 201.1 438.2 201.3 441.3 201.6 441.4 201.8 444.2 202.1 442.2 202.3 435.7 202.6 448.0 202.8 450.8 203.1 440.1 203.3 443.5 203.6 442.6 203.8 445.1 204.1 432.8 204.3 449.1 204.6 437.8 204.8 446.9 205.1 440.3 205.3 437.6 205.6 438.7 205.8 444.1 206.1 434.4 206.3 436.8 206.6 436.1 206.8 429.2 207.1 445.3 207.3 441.2 207.6 437.8 207.8 444.0 208.1 432.3 208.3 436.9 208.6 446.5 208.8 442.2 209.1 424.7 209.3 418.5 209.6 430.8 209.8 442.0 210.1 433.5 210.3 434.7 210.6 439.0 210.8 430.8 211.1 436.6 211.3 439.6 211.6 437.7 211.8 437.2 212.1 431.6 212.3 437.5 212.6 432.3 212.8 441.6 213.1 448.4 213.3 430.2 213.6 422.2 213.8 431.6 214.1 435.9 214.3 439.4 214.6 439.5 214.8 429.2 215.1 429.0 215.3 440.1 215.6 427.1 215.8 438.9 216.1 431.6 216.3 436.9 216.6 436.4 216.8 436.7 217.1 436.8 217.3 426.8 217.6 433.7 217.8 432.1 218.1 433.6 218.3 438.5 218.6 430.2 218.8 427.7 219.1 427.5 219.3 429.7 219.6 435.5 219.8 426.8 220.1 437.5 220.3 432.7 220.6 429.8 220.8 423.7 221.1 432.3 221.3 434.7 221.6 421.1 221.8 437.4 222.1 439.9 222.3 432.7 222.6 433.5 222.8 444.1 223.1 437.6 223.3 425.9 223.6 430.8 223.8 430.0 224.1 430.1 224.3 418.0 224.6 435.2 224.8 427.6 225.1 432.1 225.3 430.5 225.6 436.1 225.8 429.8 226.1 427.1 226.3 434.5 226.6 439.4 226.8 430.0 227.1 439.4 227.3 433.4 227.6 429.2 227.8 440.6 228.1 427.8 228.3 438.0 228.6 429.8 228.8 435.1 229.1 426.0 229.3 428.3 229.6 438.9 229.8 434.2 230.1 433.5 230.3 431.0 230.6 436.0 230.8 426.1 231.1 427.7 231.3 433.1 231.6 429.5 231.8 430.4 232.1 433.9 232.3 433.7 232.6 433.3 232.8 443.7 233.1 440.3 233.3 441.6 233.6 434.9 233.8 432.4 234.1 427.4 234.3 433.5 234.6 424.2 234.8 432.5 235.1 439.9 235.3 444.7 235.6 441.3 235.8 431.5 236.1 439.0 236.3 432.2 236.6 441.1 236.8 436.2 237.1 441.6 237.3 451.0 237.6 442.2 237.8 450.0 238.1 438.5 238.3 435.9 238.6 445.1 238.8 447.3 239.1 435.2 239.3 438.8 239.6 430.8 239.8 437.7 240.1 443.7 240.3 438.6 240.6 436.2 240.8 431.9 241.1 441.6 241.3 444.1 241.6 443.2 241.8 441.6 242.1 433.6 242.3 450.1 242.6 440.6 242.8 440.3 243.1 445.2 243.3 430.0 243.6 441.4 243.8 441.3 244.1 444.3 244.3 449.7 244.6 445.3 244.8 433.4 245.1 441.6 245.3 444.8 245.6 444.7 245.8 437.5 246.1 435.7 246.3 447.8 246.6 447.0 246.8 445.4 247.1 436.7 247.3 455.5 247.6 431.2 247.8 444.9 248.1 458.1 248.3 446.6 248.6 449.0 248.8 442.0 249.1 455.6 249.3 442.1 249.6 450.6 249.8 450.3 250.1 444.5 250.3 454.9 250.6 443.3 250.8 447.5 251.1 451.2 251.3 449.6 251.6 454.6 251.8 457.3 252.1 451.4 252.3 450.4 252.6 450.9 252.8 452.1 253.1 458.5 253.3 453.6 253.6 457.2 253.8 455.0 254.1 451.5 254.3 460.6 254.6 451.3 254.8 457.0 255.1 464.9 255.3 452.1 255.6 457.8 255.8 450.4 256.1 456.2 256.4 451.6 256.6 457.7 256.9 457.2 257.1 461.0 257.4 468.7 257.6 462.6 257.9 464.9 258.1 461.7 258.4 461.2 258.6 458.6 258.9 454.2 259.1 464.0 259.4 472.2 259.6 466.8 259.9 462.2 260.1 473.5 260.4 463.6 260.6 463.1 260.9 460.6 261.1 462.3 261.4 466.2 261.6 477.7 261.9 467.3 262.1 463.7 262.4 466.2 262.6 468.5 262.9 461.7 263.1 471.1 263.4 474.3 263.6 472.9 263.9 474.7 264.1 466.0 264.4 464.4 264.6 479.3 264.9 478.8 265.1 466.5 265.4 475.4 265.6 474.9 265.9 477.8 266.1 476.7 266.4 473.7 266.6 477.4 266.9 477.7 267.1 477.1 267.4 469.0 267.6 464.0 267.9 474.9 268.1 471.3 268.4 480.6 268.6 483.2 268.9 481.5 269.1 478.9 269.4 481.4 269.6 486.9 269.9 478.5 270.1 486.6 270.4 486.0 270.6 484.3 270.9 490.2 271.1 480.6 271.4 488.7 271.6 480.4 271.9 481.6 272.1 480.7 272.4 488.0 272.6 482.0 272.9 487.0 273.1 482.0 273.4 492.5 273.6 496.4 273.9 489.5 274.1 496.3 274.4 491.8 274.6 499.5 274.9 490.5 275.1 483.4 275.4 497.6 275.6 490.7 275.9 487.0 276.1 489.1 276.4 485.2 276.6 492.1 276.9 488.4 277.1 500.2 277.4 497.0 277.6 487.0 277.9 488.0 278.1 492.6 278.4 486.9 278.6 495.3 278.9 496.0 279.1 493.1 279.4 494.5 279.6 499.4 279.9 503.8 280.1 504.4 280.4 498.3 280.6 502.3 280.9 495.6 281.1 500.9 281.4 495.2 281.6 502.9 281.9 494.6 282.1 496.1 282.4 500.5 282.6 503.3 282.9 494.9 283.1 499.1 283.4 502.2 283.6 502.9 283.9 498.6 284.1 502.9 284.4 501.5 284.6 509.0 284.9 505.6 285.1 497.8 285.4 494.3 285.6 504.4 285.9 509.2 286.1 505.2 286.4 508.4 286.6 502.8 286.9 499.3 287.1 508.5 287.4 506.0 287.6 508.7 287.9 500.2 288.1 507.1 288.4 503.9 288.6 510.2 288.9 504.5 289.1 504.7 289.4 505.0 289.6 513.0 289.9 508.0 290.1 505.0 290.4 504.1 290.6 504.2 290.9 514.9 291.1 501.5 291.4 505.8 291.6 512.2 291.9 514.7 292.1 509.4 292.4 513.5 292.6 513.6 292.9 514.8 293.1 511.2 293.4 518.1 293.6 512.4 293.9 518.1 294.1 507.6 294.4 516.2 294.6 507.5 294.9 506.8 295.1 515.2 295.4 510.1 295.6 515.5 295.9 509.6 296.1 520.8 296.4 514.5 296.6 510.1 296.9 515.7 297.1 518.8 297.4 512.4 297.6 517.8 297.9 524.2 298.1 519.7 298.4 516.4 298.6 514.3 298.9 519.1 299.1 510.9 299.4 505.0 299.6 514.7 299.9 513.2 300.1 524.7 300.4 518.4 300.6 514.1 300.9 513.5 301.1 520.3 301.4 515.1 301.6 516.3 301.9 518.4 302.1 519.2 302.4 519.4 302.6 519.6 302.9 524.4 303.1 526.2 303.4 513.0 303.6 529.9 303.9 520.3 304.1 524.8 304.4 517.1 304.6 521.4 304.9 521.1 305.1 520.8 305.4 523.8 305.6 523.0 305.9 516.7 306.1 520.3 306.4 523.7 306.6 523.6 306.9 519.7 307.1 520.0 307.4 520.5 307.6 516.9 307.9 516.2 308.1 527.5 308.4 519.8 308.6 521.8 308.9 518.6 309.1 526.6 309.4 528.5 309.6 520.8 309.9 523.7 310.1 518.8 310.4 528.7 310.6 525.5 310.9 518.6 311.1 526.9 311.4 523.4 311.6 523.7 311.9 523.5 312.1 519.6 312.4 520.1 312.6 524.7 312.9 522.1 313.1 518.6 313.4 530.3 313.6 521.6 313.9 520.2 314.1 519.7 314.4 525.2 314.6 526.3 314.9 523.5 315.1 525.9 315.4 516.7 315.6 521.1 315.9 520.7 316.1 522.6 316.4 524.5 316.6 514.6 316.9 534.7 317.1 519.1 317.4 523.9 317.6 525.7 317.9 525.8 318.1 523.4 318.4 511.0 318.6 518.1 318.9 525.2 319.1 518.6 319.4 518.0 319.6 512.9 319.9 526.8 320.1 524.0 320.4 518.4 320.6 521.3 320.9 521.3 321.1 517.3 321.4 520.5 321.6 522.4 321.9 523.5 322.1 526.2 322.4 521.3 322.6 519.2 322.9 522.5 323.1 518.4 323.4 515.8 323.6 525.1 323.9 519.0 324.1 520.9 324.4 522.8 324.6 515.8 324.9 522.6 325.1 521.7 325.4 519.4 325.6 521.2 325.9 516.5 326.1 510.7 326.4 518.2 326.6 515.5 326.9 522.5 327.1 519.9 327.4 516.6 327.6 518.8 327.9 523.9 328.1 522.9 328.4 519.7 328.6 519.8 328.9 516.8 329.1 517.3 329.4 520.0 329.6 517.1 329.9 518.6 330.1 512.8 330.4 510.4 330.6 510.2 330.9 515.1 331.1 522.0 331.4 521.3 331.6 512.4 331.9 510.0 332.1 519.4 332.4 517.9 332.6 510.4 332.9 520.1 333.1 516.4 333.4 520.9 333.6 516.8 333.9 518.9 334.1 516.4 334.4 511.1 334.6 513.9 334.9 511.9 335.1 517.9 335.4 510.3 335.6 508.0 335.9 516.8 336.1 518.6 336.4 519.6 336.6 518.0 336.9 507.3 337.1 510.4 337.4 510.8 337.6 512.8 337.9 503.9 338.1 512.5 338.4 513.5 338.6 508.3 338.9 512.5 339.1 516.8 339.4 511.9 339.6 515.9 339.9 515.5 340.1 512.8 340.4 512.5 340.6 509.2 340.9 515.7 341.1 508.4 341.4 507.3 341.6 512.9 341.9 506.8 342.1 511.4 342.4 513.8 342.6 509.6 342.9 509.5 343.1 512.7 343.4 511.8 343.6 502.1 343.9 502.8 344.1 513.7 344.4 509.6 344.6 499.0 344.9 501.9 345.1 507.5 345.4 503.0 345.6 509.0 345.9 507.1 346.1 508.7 346.4 501.5 346.6 508.9 346.9 514.3 347.1 502.5 347.4 511.3 347.6 509.7 347.9 508.1 348.1 504.9 348.4 500.0 348.6 501.1 348.9 507.9 349.1 508.6 349.4 509.5 349.6 508.2 349.9 507.8 350.1 501.9 350.4 498.4 350.6 504.3 350.9 505.4 351.1 503.4 351.4 496.3 351.6 500.4 351.9 496.1 352.1 502.9 352.4 497.6 352.6 501.2 352.9 503.2 353.1 502.2 353.4 507.3 353.6 496.5 353.9 491.6 354.1 505.0 354.4 506.8 354.6 506.7 354.9 501.6 355.1 502.5 355.4 500.5 355.6 494.2 355.9 497.2 356.1 501.6 356.4 496.8 356.6 507.4 356.9 492.2 357.1 496.9 357.4 503.4 357.6 495.7 357.9 493.3 358.1 492.1 358.4 494.7 358.6 504.3 358.9 499.3 359.1 499.6 359.4 494.9 359.6 500.7 359.9 497.3 360.1 492.6 360.4 494.5 360.6 497.2 360.9 501.3 361.1 495.7 361.4 498.0 361.6 504.5 361.9 491.9 362.1 489.7 362.4 499.4 362.6 496.9 362.9 494.3 363.1 495.7 363.4 492.9 363.6 496.5 363.9 492.6 364.1 497.5 364.4 488.5 364.6 489.9 364.9 493.9 365.1 491.1 365.4 496.2 365.6 492.7 365.9 490.3 366.1 493.5 366.4 490.1 366.6 485.3 366.9 487.0 367.1 488.3 367.4 489.6 367.6 492.0 367.9 495.5 368.1 493.7 368.4 499.1 368.6 496.7 368.9 489.9 369.1 498.0 369.4 495.7 369.6 488.1 369.9 491.4 370.1 494.8 370.4 490.7 370.6 494.1 370.9 491.1 371.1 492.3 371.4 487.5 371.6 490.5 371.9 486.9 372.1 491.5 372.4 480.5 372.6 489.6 372.9 493.6 373.1 490.3 373.4 487.4 373.6 489.8 373.9 483.3 374.1 483.2 374.4 485.2 374.6 486.0 374.9 490.9 375.1 482.2 375.4 490.8 375.6 478.8 375.9 482.2 376.1 485.5 376.4 490.9 376.6 482.6 376.9 475.3 377.1 487.1 377.4 484.8 377.6 479.8 377.9 479.9 378.1 481.4 378.4 484.9 378.6 487.4 378.9 477.4 379.1 494.7 379.4 483.8 379.6 482.2 379.9 486.9 380.1 484.2 380.4 494.5 380.6 488.6 380.9 481.7 381.1 481.5 381.4 481.0 381.6 481.6 381.9 486.3 382.1 480.1 382.4 490.6 382.6 482.6 382.9 482.3 383.1 487.3 383.4 473.6 383.6 478.4 383.9 485.5 384.1 482.8 384.4 482.6 384.6 484.5 384.9 479.7 385.1 481.7 385.4 476.1 385.6 473.6 385.9 488.3 386.1 478.0 386.4 478.9 386.6 488.8 386.9 487.1 387.1 479.7 387.4 479.6 387.6 481.7 387.9 477.6 388.1 484.5 388.4 482.6 388.6 482.5 388.9 485.4 389.1 485.2 389.4 490.4 389.6 488.9 389.9 473.7 390.1 485.9 390.4 476.4 390.6 475.0 390.9 485.0 391.1 478.3 391.4 480.1 391.6 486.6 391.9 478.4 392.1 477.3 392.4 483.0 392.6 487.2 392.9 483.9 393.1 474.2 393.4 478.4 393.6 480.7 393.9 490.5 394.1 485.6 394.4 485.4 394.6 487.0 394.9 479.9 395.1 483.6 395.4 483.7 395.6 476.8 395.9 481.3 396.1 484.0 396.4 476.3 396.6 485.2 396.9 484.9 397.1 486.2 397.4 477.7 397.6 481.9 397.9 488.2 398.1 485.1 398.4 477.7 398.6 482.4 398.9 488.0 399.1 481.0 399.4 483.2 399.6 493.4 399.9 481.2 400.1 480.9 400.4 476.7 400.6 478.3 400.9 488.3 401.1 480.7 401.4 475.8 401.6 477.0 401.9 481.4 402.1 484.9 402.4 477.9 402.6 484.7 402.9 479.1 403.1 483.1 403.4 483.9 403.6 484.3 403.9 479.4 404.1 480.7 404.4 483.9 404.6 475.5 404.9 482.4 405.1 484.1 405.4 486.6 405.6 481.6 405.9 481.0 406.1 482.5 406.4 478.5 406.6 481.0 406.9 484.0 407.1 483.5 407.4 477.3 407.6 480.8 407.9 472.5 408.1 486.2 408.4 480.1 408.6 483.7 408.9 477.6 409.1 482.4 409.4 485.0 409.6 487.6 409.9 476.7 410.1 487.1 410.4 482.5 410.6 479.8 410.9 485.7 411.1 482.2 411.4 482.3 411.6 480.5 411.9 484.9 412.1 484.2 412.4 483.3 412.6 479.8 412.9 481.9 413.1 486.3 413.4 490.4 413.6 484.5 413.9 491.3 414.1 484.8 414.4 479.9 414.6 488.0 414.9 480.7 415.1 487.1 415.4 490.3 415.6 484.0 415.9 485.2 416.1 497.1 416.4 486.9 416.6 487.2 416.9 489.7 417.1 485.8 417.4 485.9 417.6 488.2 417.9 475.6 418.1 493.2 418.4 482.0 418.6 482.1 418.9 489.7 419.1 487.5 419.4 481.8 419.6 488.6 419.9 482.6 420.1 484.8 420.4 481.3 420.6 484.5 420.9 490.3 421.1 489.2 421.4 490.2 421.6 493.2 421.9 488.9 422.1 486.3 422.4 488.2 422.6 497.1 422.9 490.0 423.1 491.5 423.4 489.8 423.6 491.5 423.9 492.5 424.1 490.7 424.4 490.2 424.6 487.6 424.9 487.5 425.1 493.3 425.4 495.0 425.6 496.0 425.9 492.2 426.1 488.5 426.4 495.2 426.6 495.3 426.9 486.0 427.1 496.5 427.4 495.7 427.6 500.7 427.9 488.4 428.1 487.9 428.4 497.3 428.6 486.0 428.9 490.9 429.1 489.5 429.4 490.0 429.6 486.3 429.9 493.8 430.1 499.4 430.4 497.2 430.6 497.4 430.9 494.0 431.1 502.1 431.4 498.2 431.6 500.7 431.9 489.4 432.1 497.9 432.4 491.5 432.6 498.3 432.9 497.8 433.1 492.1 433.4 498.0 433.6 502.5 433.9 499.8 434.1 500.3 434.4 494.2 434.6 495.1 434.9 493.4 435.1 499.0 435.4 503.8 435.6 500.7 435.9 498.9 436.1 494.3 436.4 501.2 436.6 498.4 436.9 491.4 437.1 492.3 437.4 498.5 437.6 496.3 437.9 507.5 438.1 500.6 438.4 496.2 438.6 498.7 438.9 507.9 439.1 497.1 439.4 504.6 439.6 503.4 439.9 508.0 440.1 504.1 440.4 500.3 440.6 504.4 440.9 502.6 441.1 506.7 441.4 502.4 441.6 511.3 441.9 502.6 442.1 505.1 442.4 500.5 442.6 504.0 442.9 503.8 443.1 504.6 443.4 507.8 443.6 501.9 443.9 500.7 444.1 509.2 444.4 503.4 444.6 502.0 444.9 509.9 445.1 508.4 445.4 494.1 445.6 503.8 445.9 508.9 446.1 509.3 446.4 503.7 446.6 512.6 446.9 502.9 447.1 505.4 447.4 507.1 447.6 506.6 447.9 510.2 448.1 511.2 448.4 506.9 448.6 513.1 448.9 504.5 449.1 506.6 449.4 514.9 449.6 508.2 449.9 512.4 450.1 506.3 450.4 507.1 450.6 507.9 450.9 509.2 451.1 507.2 451.4 508.8 451.6 511.7 451.9 514.1 452.1 509.6 452.4 512.0 452.6 513.2 452.9 505.1 453.1 503.2 453.4 516.5 453.6 515.4 453.9 510.3 454.1 511.7 454.4 506.5 454.6 504.8 454.9 511.9 455.1 504.6 455.4 514.6 455.6 508.2 455.9 512.3 456.1 519.2 456.4 519.1 456.6 510.4 456.9 516.0 457.1 507.5 457.4 509.5 457.6 513.5 457.9 517.8 458.1 509.9 458.4 514.6 458.6 513.0 458.9 507.5 459.1 512.3 459.4 519.1 459.6 512.7 459.9 515.3 460.1 516.7 460.4 510.5 460.6 518.7 460.9 519.9 461.1 520.5 461.4 519.5 461.6 512.4 461.9 512.1 462.1 511.4 462.4 511.1 462.6 511.7 462.9 519.1 463.1 521.2 463.4 512.9 463.6 518.9 463.9 510.7 464.1 514.6 464.4 512.0 464.6 509.6 464.9 516.5 465.1 516.8 465.4 514.9 465.6 514.6 465.9 512.9 466.1 516.4 466.4 514.6 466.6 518.1 466.9 512.4 467.1 518.2 467.4 519.4 467.6 522.4 467.9 521.7 468.1 518.4 468.4 515.0 468.6 510.5 468.9 517.8 469.1 523.6 469.4 524.6 469.6 508.0 469.9 515.2 470.1 516.8 470.4 514.2 470.6 519.1 470.9 518.6 471.1 516.5 471.4 518.4 471.6 512.3 471.9 514.9 472.1 515.2 472.4 522.4 472.6 512.5 472.9 518.1 473.1 522.1 473.4 518.9 473.6 522.4 473.9 516.6 474.1 521.0 474.4 522.9 474.6 528.3 474.9 522.4 475.1 525.2 475.4 519.7 475.6 520.1 475.9 526.0 476.1 522.2 476.4 525.5 476.6 522.8 476.9 528.4 477.1 529.6 477.4 516.9 477.6 527.6 477.9 522.1 478.1 522.4 478.4 520.1 478.6 523.5 478.9 516.4 479.1 518.0 479.4 517.9 479.6 522.1 479.9 524.7 480.1 524.1 480.4 522.7 480.6 519.0 480.9 514.5 481.1 523.1 481.4 522.2 481.6 523.1 481.9 527.4 482.1 521.1 482.4 521.2 482.6 513.0 482.9 524.3 483.1 522.0 483.4 519.4 483.6 523.9 483.9 518.4 484.1 520.4 484.4 530.2 484.6 525.6 484.9 526.4 485.1 525.7 485.4 525.4 485.6 523.7 485.9 531.9 486.1 522.8 486.4 526.0 486.6 522.4 486.9 521.9 487.1 513.9 487.4 516.0 487.6 529.5 487.9 529.3 488.1 521.9 488.4 523.5 488.6 526.1 488.9 519.9 489.1 530.7 489.4 519.8 489.6 521.1 489.9 513.2 490.1 529.8 490.4 524.2 490.6 530.3 490.9 520.2 491.1 525.4 491.4 524.4 491.6 525.0 491.9 532.2 492.1 533.0 492.4 529.6 492.6 522.8 492.9 527.8 493.1 529.6 493.4 526.5 493.6 526.6 493.9 526.3 494.1 521.0 494.4 525.4 494.6 530.7 494.9 520.7 495.1 524.9 495.4 527.8 495.6 519.4 495.9 524.1 496.1 518.1 496.4 522.4 496.6 519.3 496.9 521.3 497.1 522.9 497.4 523.7 497.6 524.0 497.9 515.6 498.1 531.0 498.4 523.8 498.6 520.7 498.9 522.5 499.1 526.2 499.4 521.1 499.6 523.4 499.9 523.2 500.1 527.1 500.4 522.2 500.6 526.9 500.9 526.5 501.1 524.6 501.4 530.0 501.6 525.3 501.9 520.8 502.1 526.5 502.4 525.9 502.6 525.3 502.9 526.4 503.1 534.5 503.4 526.5 503.6 527.4 503.9 524.7 504.1 530.7 504.4 525.5 504.6 522.7 504.9 521.2 505.1 527.9 505.4 528.8 505.6 520.0 505.9 523.3 506.1 528.6 506.4 530.1 506.6 521.2 506.9 524.8 507.1 529.6 507.4 524.4 507.6 524.8 507.9 524.5 508.1 521.6 508.4 526.9 508.6 527.9 508.9 521.5 509.1 527.2 509.4 531.1 509.6 527.8 509.9 530.6 510.1 525.0 510.4 532.3 510.6 524.2 510.9 534.4 511.1 525.6 511.4 524.6 511.6 524.0 511.9 525.9 512.1 525.6 512.4 524.9 512.6 526.3 512.9 530.1 513.1 531.0 513.4 526.4 513.6 532.4 513.9 524.0 514.1 523.9 514.4 523.6 514.6 530.1 514.9 522.0 515.1 522.6 515.4 532.8 515.6 534.4 515.9 533.0 516.1 522.3 516.4 528.0 516.6 531.1 516.9 528.3 517.1 521.9 517.4 526.7 517.6 521.6 517.9 523.3 518.1 536.1 518.4 530.6 518.6 522.5 518.9 522.3 519.1 529.7 519.4 525.7 519.6 530.2 519.9 525.6 520.1 527.3 520.4 528.9 520.6 524.1 520.9 520.8 521.1 523.5 521.4 525.4 521.6 527.2 521.9 527.8 522.1 527.8 522.4 530.0 522.6 524.7 522.9 533.3 523.1 535.6 523.4 529.4 523.6 528.7 523.9 532.7 524.1 530.5 524.4 528.7 524.6 527.4 524.9 525.3 525.1 523.6 525.4 530.6 525.6 532.6 525.9 524.1 526.1 527.8 526.4 528.9 526.6 526.5 526.9 525.3 527.1 526.7 527.4 520.7 527.6 527.9 527.9 527.1 528.1 536.2 528.4 531.8 528.6 526.9 528.9 528.2 529.1 534.8 529.4 534.4 529.6 529.0 529.9 527.9 530.1 522.9 530.4 527.2 530.6 527.8 530.9 525.7 531.1 535.0 531.4 521.5 531.6 528.0 531.9 530.1 532.1 530.3 532.4 535.0 532.6 523.4 532.9 525.9 533.1 529.1 533.4 529.3 533.6 527.4 533.9 526.0 534.1 532.9 534.4 525.0 534.6 526.8 534.9 534.4 535.1 535.5 535.4 532.3 535.6 525.9 535.9 525.9 536.1 525.8 536.4 525.0 536.6 527.7 536.9 534.1 537.1 530.2 537.4 526.6 537.6 526.5 537.9 525.1 538.1 534.0 538.4 522.0 538.6 530.6 538.9 524.3 539.1 525.7 539.4 524.2 539.6 533.4 539.9 529.5 540.1 540.1 540.4 526.0 540.6 525.8 540.9 532.2 541.1 532.1 541.4 529.0 541.6 522.6 541.9 535.5 542.1 532.3 542.4 531.7 542.6 528.1 542.9 532.7 543.1 528.3 543.4 530.6 543.6 529.8 543.9 535.2 544.1 528.8 544.4 529.3 544.6 534.7 544.9 531.5 545.1 530.7 545.4 529.9 545.6 534.3 545.9 528.4 546.1 532.7 546.4 538.5 546.6 532.5 546.9 528.1 547.1 526.6 547.4 531.7 547.6 526.6 547.9 525.3 548.1 528.4 548.4 527.2 548.6 534.6 548.9 526.0 549.1 537.3 549.4 528.7 549.6 532.0 549.9 534.0 550.1 532.4 550.4 534.3 550.6 528.1 550.9 523.4 551.1 531.1 551.4 525.6 551.6 529.8 551.9 535.4 552.1 531.3 552.4 529.9 552.6 527.9 552.9 531.1 553.1 531.6 553.4 526.4 553.6 533.4 553.9 528.4 554.1 533.2 554.4 530.8 554.6 536.2 554.9 535.7 555.1 532.7 555.4 532.3 555.6 534.4 555.9 537.9 556.1 536.8 556.4 533.6 556.6 534.2 556.9 538.9 557.1 527.3 557.4 535.3 557.6 530.1 557.9 538.4 558.1 531.7 558.4 533.2 558.6 529.7 558.9 533.8 559.1 536.7 559.4 540.0 559.6 529.4 559.9 532.5 560.1 548.4 560.4 537.7 560.6 534.3 560.9 536.3 561.1 524.8 561.4 540.4 561.6 535.2 561.9 529.5 562.1 539.0 562.4 532.6 562.6 531.2 562.9 536.9 563.1 536.5 563.4 533.5 563.6 534.9 563.9 530.4 564.1 530.1 564.4 538.7 564.6 540.3 564.9 537.1 565.1 537.0 565.4 534.3 565.6 535.3 565.9 532.5 566.1 542.2 566.4 533.9 566.6 537.5 566.9 536.1 567.1 531.1 567.4 543.2 567.6 535.0 567.9 533.6 568.1 536.9 568.4 533.3 568.6 536.7 568.9 533.2 569.1 538.7 569.4 537.0 569.6 531.9 569.9 540.6 570.1 537.7 570.4 533.1 570.6 538.4 570.9 538.7 571.1 543.9 571.4 534.2 571.6 540.4 571.9 537.1 572.1 539.7 572.4 536.6 572.6 537.4 572.9 539.4 573.1 533.5 573.4 530.3 573.6 537.8 573.9 536.3 574.1 538.3 574.4 540.3 574.6 537.3 574.9 542.4 575.1 538.1 575.4 538.7 575.6 541.3 575.9 540.5 576.1 538.1 576.4 539.0 576.6 535.9 576.9 536.4 577.1 539.0 577.4 541.6 577.6 537.3 577.9 541.8 578.1 545.8 578.4 546.6 578.6 539.1 578.9 542.8 579.1 541.3 579.4 542.0 579.6 542.2 579.9 541.2 580.1 542.3 580.4 540.1 580.6 538.6 580.9 540.5 581.1 541.4 581.4 544.0 581.6 541.0 581.9 542.4 582.1 544.9 582.4 536.6 582.6 539.0 582.9 541.9 583.1 540.1 583.4 536.5 583.6 543.6 583.9 540.0 584.1 536.7 584.4 547.0 584.6 535.8 584.9 540.3 585.1 538.1 585.4 540.9 585.6 542.5 585.9 537.7 586.1 540.3 586.4 540.2 586.6 537.2 586.9 544.9 587.1 541.4 587.4 539.9 587.6 538.6 587.9 539.8 588.1 541.5 588.4 539.5 588.6 545.5 588.9 532.3 589.1 533.7 589.4 540.4 589.6 534.9 589.9 541.1 590.1 539.1 590.4 543.5 590.6 542.9 590.9 546.1 591.1 544.8 591.4 546.0 591.6 543.5 591.9 545.5 592.1 543.5 592.4 539.8 592.6 537.5 592.9 537.7 593.1 543.7 593.4 533.7 593.6 542.7 593.9 539.5 594.1 544.7 594.4 542.9 594.6 539.7 594.9 542.3 595.1 534.5 595.4 543.3 595.6 544.0 595.9 536.1 596.1 545.5 596.4 542.2 596.6 543.2 596.9 537.8 597.1 544.8 597.4 544.8 597.6 542.7 597.9 539.4 598.1 545.5 598.4 547.2 598.6 544.4 598.9 546.5 599.1 541.1 599.4 543.7 599.6 544.5 599.9 543.7 600.1 553.0 600.4 544.8 600.6 541.4 600.9 546.3 601.1 539.7 601.4 544.8 601.6 546.2 601.9 541.9 602.1 542.6 602.4 540.5 602.6 544.2 602.9 541.5 603.1 549.8 603.4 546.1 603.6 543.2 603.9 539.1 604.1 551.0 604.4 548.5 604.6 545.7 604.9 544.8 605.1 544.8 605.4 542.6 605.6 550.7 605.9 545.0 606.1 539.4 606.4 542.1 606.6 535.6 606.9 546.7 607.1 547.1 607.4 550.5 607.6 551.7 607.9 541.9 608.1 546.1 608.4 548.0 608.6 547.4 608.9 543.0 609.1 547.5 609.4 546.5 609.6 549.4 609.9 544.7 610.1 544.1 610.4 543.2 610.6 543.6 610.9 542.4 611.1 543.8 611.4 546.7 611.6 546.6 611.9 549.6 612.1 548.8 612.4 547.3 612.6 541.3 612.9 547.1 613.1 549.2 613.4 540.8 613.6 541.5 613.9 542.1 614.1 541.8 614.4 544.4 614.6 542.2 614.9 546.7 615.1 541.4 615.4 545.1 615.6 543.8 615.9 542.3 616.1 549.1 616.4 545.7 616.6 547.5 616.9 544.6 617.1 548.1 617.4 547.8 617.6 545.3 617.9 539.9 618.1 548.6 618.4 548.2 618.6 546.6 618.9 546.8 619.1 546.4 619.4 546.7 619.6 542.7 619.9 546.0 620.1 547.3 620.4 544.2 620.6 543.0 620.9 552.5 621.1 548.4 621.4 545.4 621.6 544.8 621.9 537.6 622.1 541.7 622.4 545.7 622.6 550.9 622.9 539.7 623.1 544.3 623.4 553.1 623.6 549.0 623.9 548.2 624.1 550.9 624.4 546.5 624.6 546.4 624.9 549.4 625.1 549.9 625.4 543.5 625.6 552.2 625.9 541.4 626.1 544.9 626.4 557.5 626.6 545.6 626.9 549.6 627.1 544.1 627.4 546.4 627.6 545.1 627.9 546.3 628.1 549.8 628.4 553.5 628.6 550.6 628.9 553.0 629.1 546.2 629.4 552.8 629.6 549.8 629.9 552.5 630.1 546.7 630.4 547.3 630.6 552.7 630.9 550.2 631.1 548.6 631.4 546.0 631.6 548.0 631.9 550.0 632.1 550.8 632.4 546.6 632.6 547.4 632.9 550.0 633.1 545.0 633.4 551.8 633.6 548.7 633.9 548.3 634.1 540.8 634.4 543.6 634.6 545.4 634.9 547.0 635.1 545.3 635.4 550.2 635.6 549.5 635.9 548.2 636.1 542.4 636.4 553.8 636.6 548.3 636.9 551.2 637.1 547.1 637.4 549.4 637.6 551.7 637.9 550.3 638.1 552.7 638.4 549.0 638.6 556.2 638.9 543.5 639.1 547.9 639.4 553.0 639.6 549.0 639.9 548.5 640.1 544.2 640.4 553.9 640.6 543.9 640.9 551.8 641.1 550.8 641.4 553.1 641.6 555.0 641.9 548.0 642.1 547.7 642.4 549.4 642.6 544.9 642.9 553.2 643.1 549.2 643.4 551.1 643.6 547.0 643.9 550.7 644.1 548.7 644.4 550.5 644.6 547.3 644.9 554.2 645.1 548.8 645.4 542.7 645.6 553.1 645.9 550.0 646.1 548.2 646.4 559.2 646.6 551.0 646.9 546.9 647.1 549.2 647.4 552.5 647.6 550.6 647.9 555.4 648.1 554.8 648.4 548.9 648.6 551.6 648.9 553.6 649.1 550.2 649.4 550.1 649.6 554.5 649.9 553.1 650.1 547.2 650.4 550.0 650.6 550.5 650.9 551.5 651.1 549.6 651.4 556.3 651.6 548.9 651.9 548.5 652.1 552.7 652.4 544.9 652.6 548.8 652.9 554.2 653.1 548.0 653.4 549.6 653.6 555.8 653.9 553.8 654.1 552.6 654.4 553.2 654.6 550.3 654.9 553.5 655.1 551.9 655.4 560.6 655.6 554.4 655.9 551.6 656.1 552.6 656.4 553.0 656.6 548.4 656.9 550.2 657.1 557.8 657.4 548.5 657.6 551.1 657.9 556.3 658.1 557.9 658.4 549.8 658.6 557.8 658.9 552.0 659.1 558.5 659.4 554.9 659.6 552.4 659.9 555.7 660.1 555.2 660.4 551.0 660.6 560.3 660.9 552.4 661.1 557.2 661.4 552.0 661.6 547.8 661.9 550.1 662.1 553.4 662.4 555.9 662.6 559.3 662.9 554.1 663.1 552.9 663.4 550.0 663.6 553.8 663.9 554.9 664.1 547.0 664.4 558.1 664.6 557.6 664.9 561.3 665.1 551.2 665.4 554.3 665.6 554.2 665.9 550.0 666.1 551.6 666.4 551.2 666.6 555.9 666.9 555.7 667.1 558.6 667.4 553.2 667.6 550.1 667.9 555.9 668.1 555.7 668.4 556.7 668.6 558.5 668.9 552.8 669.1 557.2 669.4 551.5 669.6 555.2 669.9 556.9 670.1 554.4 670.4 555.5 670.6 550.5 670.9 552.9 671.1 555.4 671.4 551.2 671.6 552.3 671.9 562.7 672.1 555.9 672.4 552.5 672.6 551.9 672.9 559.5 673.1 546.4 673.4 554.0 673.6 557.1 673.9 553.3 674.1 556.8 674.4 551.9 674.6 555.1 674.9 555.3 675.1 555.3 675.4 555.7 675.6 555.4 675.9 558.8 676.1 554.5 676.4 553.5 676.6 554.5 676.9 554.5 677.1 550.7 677.4 549.6 677.6 551.3 677.9 556.5 678.1 553.5 678.4 554.4 678.6 564.6 678.9 559.2 679.1 555.1 679.4 553.8 679.6 560.1 679.9 553.5 680.1 559.7 680.4 557.8 680.6 560.3 680.9 553.8 681.1 558.9 681.4 550.5 681.6 555.6 681.9 559.5 682.1 558.4 682.4 550.6 682.6 558.4 682.9 557.7 683.1 556.2 683.4 554.2 683.6 555.6 683.9 554.7 684.1 559.4 684.4 558.0 684.6 559.9 684.9 558.7 685.1 552.7 685.4 557.1 685.6 563.3 685.9 553.3 686.1 557.6 686.4 554.4 686.6 554.1 686.9 557.5 687.1 559.7 687.4 559.3 687.6 558.4 687.9 559.9 688.1 552.0 688.4 559.6 688.6 558.4 688.9 556.6 689.1 557.1 689.4 554.6 689.6 560.8 689.9 555.0 690.1 552.8 690.4 557.3 690.6 555.6 690.9 557.2 691.1 562.0 691.4 557.0 691.6 557.8 691.9 564.4 692.1 553.2 692.4 558.7 692.6 561.2 692.9 562.2 693.1 564.5 693.4 555.7 693.6 559.6 693.9 557.4 694.1 556.4 694.4 555.6 694.6 553.3 694.9 558.8 695.1 560.1 695.4 554.6 695.6 560.2 695.9 556.2 696.1 554.8 696.4 549.9 696.6 561.3 696.9 560.2 697.1 557.1 697.4 556.8 697.6 554.1 697.9 559.6 698.1 557.9 698.4 559.8 698.6 558.7 698.9 553.8 699.1 553.4 699.4 559.5 699.6 553.0 699.9 559.1 700.1 561.0 700.4 554.3 700.6 560.4 700.9 558.5 701.1 560.0 701.4 556.4 701.6 558.4 701.9 559.7 702.1 564.1 702.4 560.7 702.6 560.0 702.9 554.6 703.1 559.6 703.4 556.5 703.6 558.4 703.9 559.5 704.1 561.6 704.4 560.5 704.6 559.3 704.9 558.6 705.1 562.9 705.4 556.1 705.6 558.9 705.9 563.0 706.1 558.2 706.4 561.4 706.6 561.6 706.9 564.9 707.1 562.3 707.4 553.9 707.6 558.9 707.9 559.8 708.1 561.4 708.4 560.1 708.6 564.7 708.9 562.3 709.1 555.3 709.4 557.0 709.6 552.6 709.9 564.2 710.1 558.5 710.4 558.5 710.6 554.1 710.9 557.5 711.1 560.2 711.4 557.6 711.6 557.6 711.9 556.9 712.1 564.9 712.4 557.1 712.6 554.4 712.9 557.2 713.1 557.7 713.4 558.5 713.6 558.0 713.9 555.3 714.1 558.1 714.4 559.9 714.6 554.4 714.9 564.8 715.1 563.9 715.4 553.2 715.6 557.6 715.9 561.8 716.1 562.8 716.4 564.2 716.6 553.1 716.9 555.3 717.1 557.1 717.4 560.4 717.6 555.4 717.9 560.0 718.1 560.0 718.4 560.8 718.6 554.5 718.9 559.0 719.1 558.6 719.4 557.0 719.6 562.2 719.9 557.1 720.1 562.4 720.4 556.0 720.6 563.0 720.9 562.7 721.1 554.9 721.4 558.4 721.6 558.1 721.9 554.0 722.1 559.3 722.4 558.6 722.6 553.8 722.9 556.7 723.1 559.1 723.4 555.6 723.6 553.7 723.9 561.0 724.1 552.5 724.4 556.5 724.6 558.8 724.9 557.5 725.1 548.8 725.4 553.3 725.6 553.6 725.9 553.1 726.1 555.4 726.4 554.8 726.6 553.1 726.9 553.2 727.1 555.3 727.4 555.7 727.6 545.1 727.9 558.1 728.1 548.8 728.4 553.0 728.6 544.8 728.9 548.2 729.1 545.6 729.4 553.2 729.6 552.4 729.9 549.5 730.1 548.9 730.4 550.9 730.6 546.7 730.9 548.1 731.1 548.0 731.4 553.8 731.6 551.7 731.9 548.1 732.1 554.0 732.4 555.3 732.6 558.7 732.9 553.2 733.1 556.9 733.4 562.8 733.6 555.8 733.9 556.2 734.1 559.3 734.4 556.5 734.6 558.3 734.9 556.9 735.1 556.1 735.4 561.4 735.6 557.6 735.9 555.7 736.1 558.0 736.4 558.6 736.6 560.0 736.9 562.0 737.1 564.7 737.4 555.6 737.6 558.7 737.9 553.9 738.1 560.2 738.4 561.2 738.6 557.7 738.9 557.0 739.1 556.8 739.4 555.4 739.6 561.9 739.9 565.8 740.1 556.7 740.4 565.1 740.6 559.9 740.9 556.1 741.1 562.1 741.4 562.7 741.6 561.7 741.9 559.8 742.1 565.6 742.4 559.8 742.6 562.6 742.9 562.7 743.1 558.1 743.4 555.3 743.6 555.7 743.9 559.8 744.1 562.1 744.4 555.7 744.6 559.0 744.9 565.8 745.1 555.8 745.4 562.7 745.6 562.4 745.9 563.7 746.1 557.0 746.4 562.5 746.6 557.3 746.9 565.5 747.1 559.0 747.4 562.8 747.6 559.3 747.9 562.1 748.1 557.2 748.4 562.6 748.6 563.6 748.9 561.8 749.1 566.7 749.4 563.0 749.6 564.3 749.9 563.5 750.1 567.6 750.4 560.1 750.6 561.3 750.9 561.5 751.1 564.0 751.4 563.0 751.6 564.8 751.9 563.2 752.1 560.8 752.4 562.2 752.6 563.7 752.9 555.7 753.1 566.6 753.4 560.9 753.6 561.5 753.9 563.4 754.1 561.9 754.4 558.4 754.6 562.0 754.9 566.9 755.1 565.9 755.4 566.5 755.6 561.2 755.9 562.2 756.1 566.0 756.4 567.3 756.6 563.1 756.9 560.1 757.1 557.3 757.4 567.3 757.6 558.6 757.9 564.4 758.1 565.8 758.4 572.9 758.6 563.8 758.9 562.9 759.1 564.7 759.4 564.8 759.6 567.3 759.9 565.4 760.1 561.1 760.4 557.1 760.6 564.3 760.9 561.5 761.1 567.7 761.4 559.6 761.6 564.1 761.9 561.4 762.1 561.0 762.4 568.6 762.6 564.1 762.9 563.1 763.1 565.9 763.4 561.4 763.6 562.6 763.9 561.8 764.1 569.7 764.4 564.8 764.6 565.7 764.9 567.1 765.1 563.3 765.4 563.4 765.6 559.0 765.9 565.3 766.1 564.7 766.4 562.7 766.6 567.6 766.9 558.6 767.1 565.3 767.4 559.9 767.6 560.6 767.9 563.4 768.1 568.1 768.4 560.6 768.6 561.1 768.9 560.5 769.1 570.2 769.4 565.8 769.6 565.4 769.9 570.4 770.1 565.0 770.4 558.0 770.6 562.8 770.9 560.8 771.1 570.4 771.4 560.1 771.6 565.3 771.9 562.9 772.1 563.1 772.4 564.5 772.6 564.1 772.9 562.5 773.1 560.8 773.4 562.6 773.6 561.4 773.9 561.9 774.1 564.9 774.4 564.2 774.6 566.0 774.9 563.9 775.1 570.4 775.4 562.5 775.6 561.7 775.9 567.8 776.1 562.6 776.4 565.1 776.6 567.7 776.9 564.5 777.1 563.7 777.4 567.7 777.6 565.8 777.9 563.3 778.1 561.3 778.4 563.8 778.6 560.0 778.9 562.3 779.1 561.7 779.4 565.8 779.6 567.2 779.9 563.1 780.1 563.7 780.4 561.7 780.6 560.9 780.9 563.8 781.1 566.7 781.4 566.5 781.6 566.8 781.9 564.3 782.1 557.0 782.4 567.9 782.6 569.1 782.9 567.9 783.1 567.9 783.4 568.5 783.6 573.2 783.9 566.2 784.1 569.9 784.4 567.7 784.6 567.3 784.9 565.0 785.1 564.3 785.4 562.1 785.6 567.1 785.9 564.5 786.1 561.9 786.4 563.2 786.6 561.9 786.9 570.2 787.1 564.8 787.4 565.8 787.6 561.9 787.9 562.5 788.1 568.6 788.4 564.9 788.6 566.2 788.9 571.0 789.1 571.8 789.4 567.7 789.6 567.1 789.9 566.3 790.1 564.8 790.4 571.6 790.6 562.1 790.9 565.4 791.1 560.1 791.4 562.0 791.6 566.9 791.9 567.1 792.1 566.8 792.4 564.8 792.6 563.7 792.9 564.2 793.1 564.7 793.4 569.1 793.6 570.1 793.9 567.2 794.1 564.3 794.4 563.1 794.6 566.8 794.9 565.3 795.1 560.6 795.4 570.0 795.6 565.9 795.9 565.0 796.1 563.4 796.4 563.4 796.6 568.7 796.9 563.3 797.1 566.3 797.4 567.9 797.6 571.5 797.9 567.9 798.1 566.0 798.4 564.8 798.6 568.6 798.9 569.1 799.1 564.9 799.4 567.9 799.6 565.8 799.9 561.4 800.1 563.2 800.4 568.6 800.6 570.4 800.9 568.2 801.1 565.7 801.4 564.2 801.6 567.8 801.9 567.3 802.1 561.6 802.4 568.2 802.6 564.2 802.9 568.3 803.1 567.9 803.4 568.5 803.6 569.5 803.9 568.4 804.1 563.3 804.4 563.4 804.6 569.5 804.9 567.8 805.1 561.9 805.4 560.6 805.6 569.1 805.9 573.0 806.1 568.9 806.4 565.8 806.6 567.3 806.9 558.6 807.1 563.6 807.4 569.5 807.6 569.1 807.9 560.4 808.1 570.1 808.4 568.2 808.6 569.4 808.9 566.1 809.1 566.7 809.4 563.5 809.6 567.6 809.9 569.3 810.1 564.0 810.4 567.8 810.6 565.2 810.9 569.8 811.1 569.6 811.4 559.9 811.6 568.1 811.9 569.8 812.1 565.2 812.4 566.2 812.6 566.4 812.9 563.5 813.1 566.5 813.4 571.4 813.6 568.3 813.9 571.4 814.1 569.8 814.4 570.5 814.6 567.3 814.9 569.2 815.1 572.9 815.4 571.3 815.6 568.0 815.9 565.0 816.1 564.4 816.4 567.8 816.6 568.4 816.9 561.8 817.1 567.8 817.4 568.1 817.6 568.0 817.9 565.6 818.1 573.9 818.4 569.7 818.6 563.2 818.9 565.1 819.1 569.6 819.4 568.7 819.6 567.6 819.9 567.2 820.1 566.7 820.4 566.0 820.6 564.3 820.9 569.0 821.1 559.3 821.4 565.2 821.6 570.9 821.9 565.1 822.1 563.9 822.4 572.8 822.6 570.4 822.9 567.0 823.1 565.7 823.4 566.7 823.6 566.4 823.9 566.7 824.1 565.3 824.4 569.0 824.6 565.9 824.9 562.3 825.1 563.8 825.4 567.5 825.6 564.6 825.9 560.4 826.1 571.9 826.4 569.0 826.6 566.2 826.9 566.1 827.1 569.1 827.4 571.5 827.6 565.8 827.9 568.8 828.1 565.8 828.4 568.6 828.6 564.4 828.9 562.4 829.1 567.9 829.4 567.5 829.6 569.8 829.9 565.8 830.1 571.7 830.4 568.0 830.6 572.2 830.9 566.8 831.1 572.1 831.4 567.6 831.6 568.3 831.9 570.6 832.1 562.8 832.4 564.8 832.6 573.2 832.9 563.6 833.1 566.5 833.4 569.5 833.6 572.2 833.9 566.6 834.1 568.4 834.4 564.8 834.6 567.0 834.9 571.0 835.1 569.0 835.4 568.0 835.6 569.4 835.9 568.6 836.1 568.7 836.4 567.2 836.6 565.4 836.9 570.2 837.1 565.0 837.4 571.2 837.6 574.4 837.9 572.6 838.1 575.0 838.4 565.4 838.6 569.1 838.9 566.1 839.1 566.3 839.4 563.6 839.6 565.0 839.9 570.9 840.1 570.5 840.4 572.0 840.6 571.8 840.9 570.8 841.1 566.3 841.4 568.3 841.6 570.7 841.9 572.2 842.1 567.6 842.4 567.3 842.6 567.5 842.9 573.3 843.1 570.4 843.4 567.9 843.6 566.7 843.9 570.1 844.1 564.1 844.4 568.3 844.6 567.3 844.9 567.3 845.1 569.5 845.4 570.2 845.6 577.6 845.9 569.3 846.1 571.0 846.4 566.8 846.6 564.4 846.9 572.3 847.1 574.7 847.4 566.3 847.6 569.0 847.9 572.3 848.1 569.5 848.4 562.5 848.6 572.1 848.9 568.9 849.1 571.3 849.4 566.6 849.6 571.8 849.9 572.3 850.1 567.3 850.4 570.8 850.6 567.6 850.9 568.0 851.1 566.9 851.4 568.2 851.6 567.6 851.9 572.8 852.1 568.9 852.4 566.3 852.6 573.4 852.9 571.1 853.1 572.3 853.4 569.4 853.6 571.5 853.9 569.3 854.1 567.0 854.4 569.9 854.6 570.1 854.9 570.1 855.1 572.1 855.4 564.9 855.6 570.6 855.9 567.5 856.1 569.0 856.4 571.0 856.6 570.0 856.9 568.0 857.1 572.0 857.4 569.7 857.6 572.5 857.9 573.4 858.1 569.0 858.4 566.9 858.6 570.2 858.9 572.3 859.1 570.9 859.4 566.8 859.6 565.3 859.9 567.5 860.1 567.5 860.4 571.8 860.6 570.3 860.9 572.6 861.1 569.9 861.4 574.8 861.6 570.2 861.9 571.8 862.1 569.1 862.4 571.5 862.6 573.3 862.9 572.4 863.1 573.8 863.4 568.6 863.6 571.6 863.9 575.1 864.1 571.1 864.4 569.9 864.6 569.8 864.9 569.0 865.1 570.8 865.4 574.3 865.6 571.7 865.9 570.4 866.1 568.3 866.4 567.4 866.6 577.1 866.9 569.2 867.1 570.8 867.4 569.2 867.6 571.0 867.9 569.4 868.1 570.9 868.4 574.6 868.6 568.6 868.9 572.1 869.1 570.4 869.4 572.6 869.6 568.8 869.9 571.8 870.1 568.0 870.4 565.7 870.6 567.1 870.9 568.1 871.1 567.6 871.4 569.8 871.6 573.7 871.9 567.6 872.1 571.9 872.4 571.1 872.6 568.8 872.9 568.1 873.1 571.9 873.4 572.0 873.6 569.8 873.9 570.3 874.1 570.7 874.4 567.2 874.6 571.1 874.9 571.6 875.1 575.6 875.4 567.3 875.6 568.5 875.9 571.1 876.1 569.3 876.4 569.8 876.6 570.9 876.9 570.1 877.1 570.8 877.4 572.1 877.6 566.5 877.9 572.5 878.1 564.9 878.4 575.6 878.6 573.5 878.9 569.4 879.1 573.8 879.4 570.6 879.6 572.2 879.9 573.1 880.1 572.0 880.4 571.1 880.6 572.8 880.9 570.6 881.1 570.1 881.4 568.6 881.6 566.3 881.9 575.4 882.1 573.3 882.4 567.4 882.6 572.3 882.9 571.8 883.1 565.3 883.4 569.0 883.6 571.0 883.9 575.9 884.1 574.2 884.4 574.7 884.6 572.2 884.9 574.0 885.1 568.2 885.4 573.0 885.6 573.4 885.9 568.0 886.1 572.1 886.4 575.5 886.6 576.6 886.9 575.3 887.1 569.6 887.4 571.3 887.6 570.1 887.9 574.8 888.1 569.3 888.4 568.8 888.6 567.3 888.9 572.1 889.1 572.8 889.4 570.0 889.6 569.6 889.9 571.2 890.1 575.3 890.4 568.1 890.6 571.6 890.9 572.3 891.1 572.7 891.4 575.1 891.6 574.0 891.9 572.5 892.1 575.7 892.4 574.8 892.6 572.6 892.9 572.5 893.1 568.7 893.4 572.2 893.6 569.8 893.9 568.8 894.1 571.2 894.4 567.3 894.6 569.5 894.9 570.5 895.1 572.8 895.4 571.1 895.6 573.0 895.9 576.1 896.1 574.1 896.4 568.9 896.6 567.2 896.9 569.5 897.1 569.6 897.4 566.7 897.6 567.4 897.9 567.4 898.1 570.4 898.4 575.7 898.6 576.5 898.9 569.2 899.1 570.7 899.4 568.3 899.6 567.6 899.9 571.7 900.1 572.0 900.4 570.2 900.6 573.6 900.9 571.0 901.1 574.8 901.4 570.6 901.6 574.2 901.9 571.4 902.1 572.2 902.4 573.6 902.6 568.4 902.9 570.0 903.1 571.8 903.4 571.2 903.6 572.7 903.9 569.8 904.1 568.5 904.4 571.7 904.6 572.8 904.9 569.9 905.1 575.2 905.4 573.9 905.6 574.3 905.9 574.2 906.1 569.8 906.4 577.7 906.6 570.3 906.9 573.2 907.1 574.2 907.4 573.2 907.6 572.8 907.9 570.2 908.1 571.3 908.4 572.5 908.6 575.9 908.9 570.7 909.1 574.3 909.4 573.7 909.6 572.8 909.9 571.1 910.1 572.2 910.4 568.1 910.6 572.9 910.9 573.5 911.1 571.4 911.4 574.1 911.6 573.6 911.9 570.9 912.1 575.0 912.4 571.4 912.6 579.2 912.9 570.2 913.1 570.7 913.4 571.2 913.6 573.5 913.9 576.0 914.1 573.2 914.4 571.9 914.6 577.9 914.9 575.6 915.1 572.2 915.4 572.7 915.6 568.9 915.9 573.1 916.1 577.5 916.4 569.9 916.6 569.3 916.9 573.3 917.1 566.7 917.4 576.6 917.6 569.0 917.9 571.1 918.1 572.6 918.4 576.1 918.6 574.0 918.9 568.0 919.1 568.6 919.4 573.5 919.6 567.5 919.9 572.2 920.1 570.8 920.4 575.1 920.6 576.1 920.9 566.4 921.1 574.1 921.4 574.6 921.6 571.0 921.9 571.4 922.1 569.8 922.4 572.1 922.6 574.0 922.9 576.5 923.1 576.7 923.4 572.2 923.6 570.8 923.9 575.6 924.1 565.8 924.4 569.4 924.6 574.7 924.9 578.8 925.1 571.0 925.4 573.3 925.6 570.1 925.9 572.9 926.1 572.9 926.4 571.1 926.6 574.1 926.9 572.7 927.1 574.5 927.4 572.6 927.6 570.0 927.9 573.5 928.1 575.4 928.4 571.1 928.6 576.7 928.9 574.4 929.1 572.3 929.4 573.3 929.6 572.2 929.9 570.9 930.1 575.7 930.4 575.7 930.6 572.1 930.9 572.9 931.1 572.8 931.4 575.2 931.6 577.2 931.9 571.7 932.1 574.2 932.4 573.3 932.6 574.9 932.9 577.2 933.1 571.2 933.4 568.1 933.6 573.0 933.9 569.3 934.1 577.8 934.4 571.7 934.6 572.8 934.9 574.2 935.1 574.1 935.4 572.4 935.6 573.6 935.9 576.0 936.1 572.8 936.4 578.4 936.6 574.5 936.9 567.5 937.1 575.9 937.4 569.1 937.6 574.5" stroke="#404040" stroke-width="1.2"/>
<path d="M68.6 403.8L69.1 402.7 69.6 402.4 70.1 400.2 70.6 404.5 71.1 404.0 71.6 402.6 72.1 403.4 72.6 402.4 73.1 401.1 73.6 402.4 74.1 401.1 74.6 401.1 75.1 400.8 75.6 402.2 76.1 401.5 76.6 401.9 77.1 400.7 77.6 401.5 78.1 400.8 78.6 402.6 79.1 401.9 79.6 401.8 80.1 401.5 80.6 399.9 81.1 401.7 81.6 403.1 82.1 399.4 82.6 399.2 83.1 399.3 83.6 401.4 84.1 400.3 84.6 400.9 85.1 400.3 85.6 399.5 86.1 399.5 86.6 398.9 87.1 399.9 87.6 397.9 88.1 398.8 88.6 399.5 89.1 400.8 89.6 397.8 90.1 397.1 90.6 397.3 91.1 398.5 91.6 396.9 92.1 398.2 92.6 394.9 93.1 397.7 93.6 397.2 94.1 394.4 94.6 395.8 95.1 396.7 95.6 395.7 96.1 396.8 96.6 398.2 97.1 396.0 97.6 395.4 98.1 394.8 98.6 396.2 99.1 395.1 99.6 394.8 100.1 394.6 100.6 395.2 101.1 393.3 101.6 392.5 102.1 391.2 102.6 394.8 103.1 393.7 103.6 395.3 104.1 394.0 104.6 393.2 105.1 394.3 105.6 393.6 106.1 392.3 106.6 392.5 107.1 394.7 107.6 392.9 108.1 392.8 108.6 392.2 109.1 391.9 109.6 393.4 110.1 392.1 110.6 391.0 111.1 391.3 111.6 390.3 112.1 391.2 112.6 392.0 113.1 390.0 113.6 392.2 114.1 390.0 114.6 390.7 115.1 389.6 115.6 390.2 116.1 390.6 116.6 390.4 117.1 390.5 117.6 390.7 118.1 390.4 118.6 389.4 119.1 390.4 119.6 390.6 120.1 390.6 120.6 389.9 121.1 391.5 121.6 389.5 122.1 388.9 122.6 391.3 123.1 388.6 123.6 390.8 124.1 389.0 124.6 390.3 125.1 387.7 125.6 390.4 126.1 389.2 126.6 388.3 127.1 391.0 127.6 390.0 128.1 389.2 128.6 388.2 129.1 388.7 129.6 388.4 130.1 389.2 130.6 389.2 131.1 387.8 131.6 388.1 132.1 388.4 132.6 387.5 133.1 388.0 133.6 388.2 134.1 388.8 134.6 389.5 135.1 387.3 135.6 388.4 136.1 387.2 136.6 389.7 137.1 387.6 137.6 388.2 138.1 386.6 138.6 386.5 139.1 387.3 139.6 386.5 140.1 387.2 140.6 385.3 141.1 387.4 141.6 385.9 142.1 388.6 142.6 386.8 143.1 388.1 143.6 385.4 144.1 386.8 144.6 385.1 145.1 385.3 145.6 385.7 146.1 385.4 146.6 385.8 147.1 386.2 147.6 386.0 148.1 385.2 148.6 383.9 149.1 384.3 149.6 384.7 150.1 382.7 150.6 385.4 151.1 384.1 151.6 383.9 152.1 384.9 152.6 384.3 153.1 383.5 153.6 382.1 154.1 383.4 154.6 383.2 155.1 381.7 155.6 383.4 156.1 382.7 156.6 379.9 157.1 381.6 157.6 379.8 158.1 381.8 158.6 381.2 159.1 378.9 159.6 379.0 160.1 379.8 160.6 379.1 161.1 380.4 161.6 379.2 162.1 378.1 162.6 378.7 163.1 375.5 163.6 377.2 164.1 377.1 164.6 375.4 165.1 373.9 165.6 374.0 166.1 374.1 166.6 371.0 167.1 368.6 167.6 370.2 167.7 367.0 167.7 369.1 167.8 367.4 167.8 368.3 167.8 366.0 167.9 367.9 167.9 367.0 168.0 365.2 168.1 365.2 168.1 366.9 168.2 368.2 168.2 366.4 168.2 365.7 168.3 365.2 168.3 366.1 168.4 365.6 168.4 365.1 168.5 363.5 168.6 365.3 168.6 365.4 168.7 362.7 168.7 366.1 168.8 364.2 168.8 362.5 168.8 360.6 168.9 362.7 168.9 362.2 169.0 360.7 169.1 359.2 169.1 361.9 169.2 360.1 169.2 363.2 169.3 362.3 169.3 360.7 169.4 358.9 169.4 359.9 169.5 357.0 169.6 359.4 169.6 358.3 169.7 357.2 169.7 356.4 169.8 358.1 169.8 357.3 169.8 357.0 169.9 357.4 169.9 355.4 170.0 354.8 170.1 354.2 170.1 355.5 170.2 356.5 170.2 355.5 170.2 356.1 170.3 354.1 170.3 354.6 170.4 354.1 170.4 353.2 170.5 355.6 170.6 353.8 170.6 351.8 170.7 351.8 170.7 352.6 170.8 351.3 170.8 353.2 170.8 351.5 170.9 352.5 170.9 351.8 171.0 352.2 171.1 351.4 171.1 351.0 171.2 351.4 171.2 351.3 171.3 351.2 171.3 352.2 171.4 351.2 171.4 349.9 171.5 350.5 171.6 348.6 171.6 350.2 171.7 348.6 171.7 346.0 171.8 347.5 171.8 347.2 171.8 343.4 171.9 344.8 171.9 344.2 172.0 341.5 172.1 341.2 172.1 340.4 172.2 341.2 172.2 340.4 172.2 341.9 172.3 337.9 172.3 338.3 172.4 336.3 172.4 335.7 172.5 333.5 172.6 331.9 172.6 332.1 172.7 332.7 172.8 331.2 172.8 330.6 172.8 328.8 172.9 330.8 172.9 330.2 173.0 327.9 173.1 328.2 173.1 326.9 173.2 328.8 173.2 326.9 173.2 325.5 173.3 325.1 173.3 324.2 173.4 322.5 173.4 321.2 173.5 320.6 173.6 319.6 173.6 321.0 173.7 321.8 173.7 317.2 173.8 318.6 173.8 316.7 173.9 317.1 173.9 314.9 174.0 316.3 174.1 313.5 174.1 313.1 174.2 312.5 174.2 310.4 174.2 308.1 174.3 308.3 174.3 308.5 174.4 306.4 174.4 305.2 174.5 302.3 174.6 301.9 174.6 300.7 174.7 298.1 174.7 297.9 174.8 293.7 174.8 290.7 174.8 288.0 174.9 288.8 174.9 285.5 175.0 284.4 175.1 281.6 175.1 280.6 175.2 278.1 175.2 274.1 175.2 272.5 175.3 271.1 175.3 266.4 175.4 266.7 175.4 264.1 175.5 261.6 175.6 258.2 175.6 256.7 175.7 253.3 175.7 252.7 175.8 250.3 175.8 249.0 175.8 246.2 175.9 244.5 175.9 243.0 176.0 238.5 176.1 238.9 176.1 234.2 176.2 232.1 176.2 232.2 176.2 230.2 176.3 228.1 176.3 223.5 176.4 222.8 176.4 221.0 176.5 220.3 176.6 217.0 176.6 215.4 176.7 211.3 176.7 209.5 176.8 206.8 176.8 205.9 176.8 202.4 176.9 200.9 176.9 200.7 177.0 200.4 177.1 197.5 177.1 195.9 177.2 193.8 177.2 194.0 177.2 192.4 177.3 192.6 177.3 190.4 177.4 188.3 177.4 188.2 177.6 187.7 177.6 187.9 177.7 191.2 177.7 191.7 177.8 190.9 177.8 195.0 177.8 194.4 177.9 194.1 177.9 196.5 178.0 197.4 178.1 198.4 178.1 199.1 178.2 202.8 178.2 204.9 178.2 203.9 178.3 209.2 178.3 211.5 178.4 212.8 178.4 215.6 178.5 217.3 178.6 219.0 178.6 221.9 178.7 226.0 178.7 225.6 178.8 229.5 178.8 231.4 178.8 232.4 178.9 234.6 178.9 235.7 179.0 238.3 179.1 241.4 179.1 244.1 179.2 245.5 179.2 252.2 179.2 251.5 179.3 255.2 179.3 257.7 179.4 260.1 179.4 264.2 179.5 265.1 179.6 270.0 179.6 272.9 179.7 273.6 179.7 278.5 179.8 279.7 179.8 286.0 179.8 285.7 179.9 287.7 179.9 289.1 180.0 292.0 180.1 294.9 180.1 296.4 180.2 298.1 180.2 300.5 180.2 302.8 180.3 306.1 180.3 304.4 180.4 307.1 180.4 308.3 180.5 309.2 180.6 310.7 180.6 312.3 180.7 315.1 180.7 315.4 180.8 316.2 180.8 318.4 180.8 319.1 180.9 319.9 180.9 321.8 181.0 321.8 181.1 324.3 181.1 325.2 181.2 325.4 181.2 325.3 181.2 328.7 181.3 327.8 181.3 331.4 181.4 328.5 181.4 331.0 181.5 330.9 181.6 332.6 181.6 333.7 181.7 332.4 181.7 333.6 181.8 334.5 181.8 335.4 181.8 336.8 181.9 337.9 181.9 338.2 182.0 338.0 182.1 337.8 182.1 337.5 182.2 338.3 182.2 338.9 182.2 340.7 182.3 340.4 182.3 340.0 182.4 342.2 182.4 341.1 182.5 341.4 182.6 342.2 182.6 343.1 182.7 340.7 182.7 342.5 182.8 344.2 182.8 344.1 182.9 345.0 182.9 347.4 183.0 345.9 183.1 347.3 183.1 347.4 183.2 346.4 183.2 347.6 183.2 346.9 183.3 347.0 183.3 346.7 183.4 349.0 183.4 348.1 183.5 348.2 183.6 347.8 183.6 350.9 183.7 350.2 183.7 349.8 183.8 349.8 183.8 349.4 183.8 351.4 183.9 351.6 183.9 350.1 184.0 353.0 184.1 352.8 184.1 351.3 184.2 352.1 184.2 352.6 184.2 353.5 184.3 353.5 184.3 352.4 184.4 355.9 184.4 355.0 184.5 356.3 184.6 356.7 184.6 355.7 184.7 356.6 184.7 357.2 184.8 357.4 184.8 356.5 184.8 356.3 184.9 357.5 184.9 357.1 185.0 357.6 185.1 356.3 185.1 358.4 185.2 357.4 185.2 358.0 185.2 358.6 185.3 359.1 185.3 360.8 185.4 359.3 185.4 357.8 185.5 359.5 185.6 359.0 185.6 360.2 185.7 359.3 185.7 359.6 185.8 360.3 185.8 360.7 185.8 359.8 185.9 361.0 185.9 361.6 186.0 362.9 186.1 361.5 186.1 361.6 186.2 362.6 186.2 362.7 186.2 364.1 186.3 363.5 186.3 363.3 186.4 364.8 186.4 365.0 186.5 363.1 186.6 363.9 186.6 362.4 186.7 364.0 186.7 363.5 186.8 364.1 187.1 364.7 187.6 366.3 188.1 367.5 188.6 368.9 189.1 369.3 189.6 369.0 190.1 368.8 190.6 371.6 191.1 371.8 191.6 369.9 192.1 371.3 192.6 369.7 193.1 370.3 193.6 372.3 194.1 374.9 194.6 373.3 195.1 374.0 195.6 376.7 196.1 373.3 196.6 375.9 197.1 376.0 197.6 375.4 198.1 375.6 198.6 377.7 199.1 373.6 199.6 374.2 200.1 374.2 200.6 373.7 201.1 373.0 201.6 375.9 202.1 374.6 202.6 372.3 203.1 372.9 203.6 373.6 204.1 373.4 204.6 371.3 205.1 372.4 205.6 372.4 206.1 372.2 206.6 372.0 207.1 369.6 207.6 373.3 208.1 371.7 208.6 373.3 209.1 374.3 209.6 371.1 210.1 370.0 210.6 372.1 211.1 371.3 211.6 371.2 212.1 370.7 212.6 373.5 213.1 371.3 213.6 370.3 214.1 371.1 214.6 370.3 215.1 371.6 215.6 371.2 216.1 370.9 216.6 372.7 217.1 371.4 217.6 372.5 218.1 372.7 218.6 370.8 219.1 370.3 219.6 371.0 220.1 371.6 220.6 370.6 221.1 370.5 221.6 369.1 221.7 369.2 221.7 369.5 221.8 368.1 221.8 368.2 221.8 368.4 221.9 367.4 221.9 368.0 222.0 368.3 222.1 367.8 222.1 367.1 222.2 366.7 222.2 368.7 222.2 367.4 222.3 365.1 222.3 365.2 222.4 367.9 222.4 367.5 222.5 366.0 222.6 366.6 222.6 363.6 222.7 364.8 222.7 365.5 222.8 362.8 222.8 363.6 222.8 364.7 222.9 364.7 222.9 362.5 223.0 362.9 223.1 363.9 223.1 361.8 223.2 360.6 223.2 361.5 223.2 360.5 223.3 361.6 223.3 359.9 223.4 358.5 223.4 361.3 223.5 357.9 223.6 358.4 223.6 358.0 223.7 357.4 223.7 356.1 223.8 356.2 223.8 355.5 223.8 354.0 223.9 354.9 223.9 354.3 224.0 353.8 224.1 353.6 224.1 352.4 224.2 353.9 224.2 353.7 224.2 349.2 224.3 350.7 224.3 349.2 224.4 346.6 224.4 348.9 224.5 347.2 224.6 347.0 224.6 346.2 224.7 347.4 224.7 347.0 224.8 345.6 224.8 344.1 224.9 343.7 224.9 342.4 225.0 342.6 225.1 341.0 225.1 341.2 225.2 340.7 225.2 339.2 225.2 339.1 225.3 339.8 225.3 334.3 225.4 335.9 225.4 334.9 225.5 334.4 225.6 332.7 225.6 333.2 225.7 332.1 225.7 331.0 225.8 330.8 225.8 329.7 225.8 327.2 225.9 329.9 225.9 327.8 226.0 326.4 226.1 326.9 226.1 325.3 226.2 323.4 226.2 325.9 226.2 322.5 226.3 323.1 226.3 322.7 226.4 323.3 226.4 322.5 226.5 320.7 226.6 318.7 226.6 317.9 226.7 318.5 226.8 316.6 226.8 314.7 226.8 315.5 226.9 313.3 226.9 312.6 227.0 312.1 227.1 312.2 227.1 311.0 227.2 310.7 227.2 310.2 227.2 309.0 227.3 305.8 227.3 306.0 227.4 307.3 227.4 306.5 227.5 308.4 227.6 306.1 227.6 305.8 227.9 306.9 227.9 307.1 228.0 306.1 228.1 307.3 228.1 306.2 228.2 306.9 228.2 309.4 228.2 306.8 228.3 309.2 228.3 309.3 228.4 310.0 228.4 311.1 228.5 311.8 228.6 310.1 228.6 312.2 228.7 313.2 228.7 315.3 228.8 313.9 228.8 315.0 228.8 316.1 228.9 318.4 228.9 316.2 229.0 316.9 229.1 319.6 229.1 317.7 229.2 321.1 229.2 320.5 229.3 322.3 229.3 322.5 229.4 324.7 229.4 325.7 229.5 327.4 229.6 326.3 229.6 326.8 229.7 326.6 229.7 327.8 229.8 329.7 229.8 327.6 229.8 331.1 229.9 330.8 229.9 332.3 230.0 333.5 230.1 335.0 230.1 335.4 230.2 336.0 230.2 337.9 230.2 338.7 230.3 339.5 230.3 340.9 230.4 342.7 230.4 343.2 230.5 344.5 230.6 344.1 230.6 346.3 230.7 345.6 230.7 349.4 230.8 348.9 230.8 352.1 230.8 354.6 230.9 352.1 230.9 354.7 231.0 354.5 231.1 354.3 231.1 354.6 231.2 356.7 231.2 358.2 231.2 357.8 231.3 356.5 231.3 357.4 231.4 358.5 231.4 360.2 231.5 359.4 231.6 359.9 231.6 361.2 231.7 360.1 231.7 360.4 231.8 360.5 231.8 359.0 231.8 361.3 231.9 361.4 231.9 362.2 232.0 360.4 232.1 360.9 232.1 362.7 232.2 362.0 232.2 363.1 232.2 361.1 232.3 362.4 232.3 361.5 232.6 362.9 233.1 363.3 233.6 365.6 234.1 367.4 234.6 367.9 235.1 366.1 235.6 369.5 236.1 369.5 236.6 368.5 237.1 368.9 237.6 369.9 238.1 370.7 238.6 370.0 239.1 369.2 239.6 371.1 240.1 370.8 240.6 372.8 241.1 368.9 241.6 372.7 242.1 372.1 242.6 370.8 243.1 372.5 243.6 371.4 244.1 372.6 244.6 370.9 245.1 371.5 245.6 370.2 246.1 369.7 246.6 371.3 247.1 371.3 247.6 372.8 248.1 373.6 248.6 372.0 249.1 372.0 249.6 372.0 250.1 370.1 250.6 372.1 251.1 372.1 251.6 372.2 252.1 371.2 252.6 370.4 253.1 372.5 253.6 373.4 254.1 374.6 254.6 374.6 255.1 375.2 255.6 374.6 256.1 375.7 256.6 374.5 257.1 375.3 257.6 375.6 258.1 377.6 258.6 375.7 259.1 374.6 259.6 377.4 260.1 375.2 260.6 375.8 261.1 375.6 261.6 375.3 262.1 377.9 262.6 377.4 263.1 376.2 263.6 376.7 264.1 376.1 264.6 377.2 265.1 376.4 265.6 376.3 266.1 376.7 266.6 377.1 267.1 377.7 267.6 376.1 268.1 376.6 268.6 377.2 269.1 379.4 269.6 378.1 270.1 374.3 270.6 376.7 271.1 376.9 271.6 377.9 272.1 379.4 272.6 378.6 273.1 375.4 273.6 377.8 274.1 377.4 274.6 377.8 275.1 379.0 275.6 376.6 276.1 378.9 276.6 376.2 277.1 378.1 277.6 378.6 278.1 380.4 278.6 377.4 279.1 376.6 279.6 379.1 280.1 377.7 280.6 380.0 281.1 377.7 281.6 377.7 282.1 380.1 282.6 379.2 283.1 380.2 283.6 377.6 284.1 380.6 284.6 378.4 285.1 379.9 285.6 378.0 286.1 377.0 286.6 377.6 287.1 377.3 287.6 378.0 288.1 376.1 288.6 375.7 289.1 374.7 289.6 376.1 290.1 371.3 290.6 372.9 291.1 371.1 291.6 371.2 292.1 370.3 292.6 372.1 293.1 369.7 293.5 369.1 293.6 370.1 293.6 369.1 293.6 370.9 293.7 370.8 293.8 368.5 293.8 369.3 293.9 367.3 293.9 367.6 293.9 367.3 294.0 368.9 294.1 366.6 294.1 365.5 294.1 365.3 294.2 367.1 294.2 363.8 294.3 364.6 294.4 364.2 294.4 361.6 294.4 362.9 294.5 363.7 294.6 362.4 294.6 360.9 294.6 362.3 294.7 362.0 294.8 363.1 294.8 359.9 294.9 359.7 294.9 359.5 294.9 358.7 295.0 358.3 295.1 357.8 295.1 357.2 295.1 356.4 295.2 357.4 295.2 356.3 295.3 356.1 295.4 356.0 295.4 356.5 295.4 356.4 295.5 354.2 295.6 355.3 295.6 355.6 295.6 354.5 295.7 352.5 295.8 351.6 295.8 354.2 295.9 354.0 295.9 353.2 295.9 351.5 296.0 353.5 296.1 352.6 296.1 350.6 296.1 349.9 296.2 348.0 296.2 350.7 296.3 348.3 296.4 350.4 296.4 350.1 296.4 348.9 296.5 350.1 296.6 348.1 296.6 349.1 297.1 349.3 297.1 349.1 297.2 348.6 297.2 350.4 297.3 349.9 297.4 349.5 297.4 349.8 297.4 350.3 297.5 352.7 297.6 350.8 297.6 350.3 297.7 350.5 297.8 350.2 297.8 352.8 297.9 353.0 297.9 352.4 297.9 352.5 298.0 354.4 298.1 355.0 298.1 354.7 298.1 356.6 298.2 356.6 298.2 356.5 298.3 357.7 298.4 356.9 298.4 359.6 298.4 357.9 298.5 359.9 298.6 360.4 298.6 359.9 298.6 361.0 298.7 359.8 298.8 360.1 298.8 362.0 298.9 362.2 298.9 364.3 298.9 364.4 299.0 365.5 299.1 365.7 299.1 366.3 299.1 367.1 299.2 367.4 299.2 368.0 299.3 371.2 299.4 368.2 299.4 370.4 299.4 372.2 299.5 372.1 299.6 373.6 299.6 373.1 299.6 371.6 299.7 372.8 299.8 372.2 299.8 375.0 299.9 375.8 299.9 374.1 299.9 375.2 300.1 374.6 300.6 374.6 301.1 376.6 301.6 376.4 302.1 378.1 302.6 379.1 303.1 379.3 303.6 379.3 304.1 377.1 304.6 376.9 305.1 376.3 305.6 375.6 306.1 371.5 306.6 373.0 307.1 373.9 307.6 370.9 308.1 370.9 308.6 370.1 309.1 366.2 309.6 367.0 310.1 366.9 310.6 366.3 311.1 364.7 311.6 366.8 312.1 366.3 312.6 368.3 313.1 368.7 313.6 368.5 314.1 370.1 314.6 370.4 314.9 371.5 315.0 370.7 315.1 372.2 315.1 373.4 315.1 372.8 315.2 372.7 315.2 372.2 315.3 372.6 315.4 374.2 315.4 372.3 315.4 376.1 315.5 374.2 315.6 376.4 315.6 375.1 315.6 373.1 315.7 374.1 316.1 374.7 316.6 376.1 317.1 377.2 317.6 376.4 318.1 376.9 318.6 377.6 319.1 377.2 319.6 378.8 320.1 379.7 320.6 380.0 321.1 380.1 321.6 379.6 322.1 380.8 322.6 378.2 323.1 380.2 323.6 380.4 324.1 381.4 324.6 381.1 325.1 381.4 325.6 380.8 326.1 381.7 326.6 379.6 327.1 380.5 327.6 377.9 328.1 381.4 328.6 381.1 329.1 378.8 329.6 378.4 330.1 377.0 330.6 377.4 331.1 378.9 331.6 378.5 332.1 377.3 332.6 378.6 333.1 378.8 333.6 380.2 334.1 380.3 334.6 378.8 335.1 378.5 335.6 377.9 336.1 375.6 336.6 377.8 337.1 377.6 337.6 378.5 338.1 376.0 338.6 378.6 339.1 377.1 339.6 378.0 340.1 378.9 340.6 375.9 341.1 375.6 341.6 377.6 342.1 375.4 342.6 375.6 343.1 377.0 343.6 375.8 344.1 376.2 344.6 375.2 345.1 374.4 345.6 374.9 346.1 375.6 346.6 372.8 347.1 373.9 347.6 373.2 348.1 372.0 348.6 372.1 349.1 370.3 349.6 370.0 350.1 370.3 350.6 369.5 351.1 370.5 351.6 367.8 352.1 368.9 352.6 368.7 353.1 369.3 353.6 370.7 354.1 368.5 354.6 371.0 355.1 370.2 355.6 370.9 356.1 372.5 356.6 371.4 357.1 372.3 357.6 371.7 358.1 371.3 358.6 371.0 359.1 369.2 359.6 369.7 360.1 370.0 360.6 369.5 361.1 367.4 361.6 369.5 362.1 368.6 362.6 366.3 363.1 366.2 363.6 367.4 364.1 364.9 364.6 365.7 365.1 366.1 365.6 365.6 366.1 364.9 366.6 364.5 367.1 362.8 367.6 362.6 368.1 364.3 368.6 359.6 368.9 359.5 369.0 359.8 369.1 358.7 369.1 360.4 369.1 359.1 369.2 359.8 369.2 356.3 369.3 359.8 369.4 359.6 369.4 357.8 369.4 360.1 369.5 359.1 369.6 359.5 369.6 360.0 369.6 358.0 369.7 356.7 369.8 357.5 369.8 356.1 369.9 356.4 369.9 356.2 369.9 355.9 370.0 357.4 370.1 356.8 370.1 354.9 370.1 356.9 370.2 354.2 370.2 355.1 370.3 355.5 370.4 356.6 370.4 356.0 370.4 355.5 370.5 356.2 370.6 355.5 370.6 356.0 370.6 353.5 370.7 351.9 370.8 352.6 370.8 353.5 370.9 352.9 370.9 353.7 370.9 353.8 371.0 353.9 371.1 354.3 371.1 352.7 371.1 354.2 371.2 351.9 371.2 352.7 371.3 351.2 371.4 353.0 371.4 350.6 371.4 353.2 371.5 349.9 371.6 350.9 371.6 350.1 371.6 349.1 371.7 351.2 371.8 349.6 371.8 351.5 371.9 348.8 371.9 347.2 372.0 349.3 372.1 349.4 372.1 348.6 372.1 348.1 372.2 347.1 372.2 350.2 372.3 348.4 372.4 345.6 372.4 347.0 372.4 344.5 372.5 348.5 372.6 348.5 372.6 347.6 372.6 345.6 372.7 344.5 372.8 343.3 372.8 344.9 372.9 343.4 372.9 343.5 372.9 342.8 373.0 342.7 373.1 343.6 373.1 344.2 373.1 342.5 373.2 342.2 373.2 340.7 373.3 340.3 373.4 340.1 373.4 341.5 373.4 339.9 373.5 339.7 373.6 338.6 373.6 337.3 373.6 336.0 373.7 336.1 373.8 334.1 373.8 336.6 373.9 334.1 373.9 332.8 373.9 334.5 374.0 331.3 374.1 331.2 374.1 329.4 374.1 328.8 374.2 327.0 374.2 326.7 374.3 326.5 374.4 322.6 374.4 320.4 374.4 322.7 374.5 320.2 374.6 319.8 374.6 317.6 374.6 318.4 374.7 317.7 374.8 313.7 374.8 314.4 374.9 311.8 374.9 309.5 374.9 309.3 375.0 308.8 375.1 305.5 375.1 304.4 375.1 305.8 375.2 303.4 375.2 302.5 375.3 299.7 375.4 298.8 375.4 298.1 375.4 296.9 375.5 295.7 375.6 296.2 375.6 293.8 375.6 291.1 375.7 290.8 375.8 290.5 375.8 290.7 375.9 287.4 375.9 286.6 375.9 285.9 376.0 283.9 376.1 282.2 376.1 281.1 376.1 280.6 376.2 278.6 376.2 276.3 376.3 275.4 376.4 272.1 376.4 272.7 376.4 270.9 376.5 269.1 376.6 265.9 376.6 268.3 376.6 261.8 376.7 262.3 376.8 260.9 376.8 261.3 376.9 257.9 376.9 258.6 376.9 257.0 377.0 255.5 377.1 255.2 377.1 254.3 377.1 252.1 377.2 250.2 377.2 247.0 377.3 249.7 377.4 247.1 377.4 244.8 377.4 245.7 377.5 245.9 377.6 243.4 377.6 241.9 377.6 245.1 377.7 243.2 377.8 242.5 377.8 242.6 377.9 239.0 377.9 241.0 378.1 241.1 378.2 244.1 378.2 241.5 378.3 241.4 378.4 240.4 378.4 241.0 378.4 242.1 378.5 243.2 378.6 243.4 378.6 246.1 378.6 245.0 378.7 245.5 378.8 246.7 378.8 246.4 378.9 245.8 378.9 245.4 378.9 248.0 379.0 247.6 379.1 250.4 379.1 248.9 379.1 248.1 379.2 251.4 379.2 253.5 379.3 253.1 379.4 254.3 379.4 255.0 379.4 257.3 379.5 256.4 379.6 256.6 379.6 256.8 379.6 256.7 379.7 260.9 379.8 261.6 379.8 260.4 379.9 262.9 379.9 263.5 379.9 263.7 380.0 264.7 380.1 266.6 380.1 265.3 380.1 266.7 380.2 267.9 380.2 269.0 380.3 269.9 380.4 271.4 380.4 272.6 380.4 272.2 380.5 274.3 380.6 274.8 380.6 277.7 380.6 275.4 380.7 277.2 380.8 278.6 380.8 278.2 380.9 278.7 380.9 279.3 380.9 281.2 381.0 280.6 381.1 282.3 381.1 282.6 381.1 281.6 381.2 284.0 381.2 284.3 381.3 286.1 381.4 287.5 381.4 287.7 381.4 286.9 381.5 289.1 381.6 288.0 381.6 289.5 381.6 292.6 381.7 291.6 381.8 294.2 381.8 293.6 381.9 294.8 381.9 294.4 381.9 297.2 382.0 296.8 382.1 298.5 382.1 299.2 382.1 300.2 382.2 300.7 382.2 301.0 382.3 301.9 382.4 302.1 382.4 301.6 382.4 305.1 382.5 307.4 382.6 307.2 382.6 309.5 382.6 308.7 382.7 308.0 382.8 308.6 382.8 311.1 382.9 311.6 382.9 312.0 382.9 313.9 383.0 313.1 383.1 315.1 383.1 314.9 383.1 316.0 383.2 317.8 383.2 317.2 383.3 319.4 383.4 320.0 383.4 318.5 383.4 322.3 383.5 319.4 383.6 321.4 383.6 322.9 383.6 320.5 383.7 324.5 383.8 325.3 383.8 324.8 383.9 325.9 383.9 326.3 383.9 326.2 384.0 327.7 384.1 326.6 384.1 327.5 384.1 328.6 384.2 329.6 384.2 330.2 384.3 328.0 384.4 327.9 384.4 330.4 384.4 331.0 384.5 330.2 384.6 331.6 384.6 331.8 384.6 331.3 385.1 333.4 385.6 331.7 386.1 333.6 386.6 336.1 387.1 335.2 387.6 334.0 388.1 336.0 388.6 337.5 389.1 338.7 389.6 337.3 390.1 337.8 390.6 335.4 391.1 336.2 391.6 337.6 392.1 335.3 392.6 336.3 393.1 334.9 393.6 339.0 394.1 338.0 394.6 339.3 395.1 337.7 395.6 338.6 396.1 342.4 396.6 340.4 397.1 340.0 397.6 340.8 398.1 340.6 398.6 337.7 399.1 338.2 399.6 338.7 400.1 338.1 400.6 338.0 401.1 337.0 401.6 337.2 402.1 337.9 402.6 337.3 403.1 337.7 403.6 339.0 404.1 340.9 404.6 342.1 405.1 342.9 405.6 343.9 406.1 344.6 406.6 345.3 407.1 345.8 407.6 344.5 408.1 347.1 408.6 344.5 409.1 346.3 409.6 344.5 410.1 345.4 410.6 345.5 411.1 342.2 411.6 344.3 412.1 343.5 412.6 342.3 413.1 342.8 413.6 341.4 414.1 341.7 414.6 340.3 415.1 342.2 415.6 342.1 416.1 342.5 416.6 341.4 417.1 344.5 417.6 345.0 418.1 343.2 418.6 343.2 419.1 343.6 419.6 345.1 420.1 345.8 420.6 344.5 421.1 343.8 421.6 347.0 422.1 347.1 422.6 348.1 423.1 349.3 423.6 348.6 424.1 350.4 424.6 350.2 425.1 351.0 425.6 352.1 426.1 351.2 426.6 351.0 427.1 353.8 427.6 353.6 428.1 352.4 428.6 349.7 428.9 349.7 428.9 350.5 429.0 350.6 429.1 349.2 429.1 350.0 429.1 348.8 429.2 348.9 429.2 349.7 429.3 348.9 429.4 349.3 429.4 349.8 429.4 349.6 429.5 347.5 429.6 347.8 429.6 346.5 429.6 346.1 429.7 347.3 429.8 346.3 429.8 345.2 429.9 347.9 429.9 346.6 429.9 346.9 430.0 347.2 430.1 346.9 430.1 346.4 430.1 344.3 430.2 346.6 430.2 345.0 430.3 343.8 430.4 342.7 430.4 345.9 430.4 344.5 430.5 344.3 430.6 344.7 430.6 343.8 430.6 342.2 430.7 344.2 430.8 344.3 430.8 343.5 430.9 344.0 430.9 343.9 430.9 340.9 431.0 341.3 431.1 342.8 431.1 342.3 431.2 343.0 431.2 342.6 431.3 341.2 431.4 341.6 431.4 340.6 431.4 340.9 431.5 339.7 431.6 338.5 431.6 339.8 431.6 339.6 431.7 341.2 431.8 341.9 431.9 340.2 431.9 340.4 431.9 339.0 432.0 338.7 432.1 339.4 432.1 339.5 432.1 340.1 432.2 339.6 432.2 340.7 432.3 338.2 432.4 336.2 432.4 337.8 432.4 336.9 432.5 337.7 432.6 338.4 432.6 336.4 432.6 336.7 432.7 337.1 432.8 335.5 432.8 336.5 432.9 336.7 432.9 336.8 432.9 336.9 433.0 336.3 433.1 335.9 433.1 333.8 433.1 332.4 433.2 334.2 433.2 336.8 433.3 335.6 433.4 333.2 433.4 334.7 433.4 335.0 433.5 332.4 433.6 334.5 433.6 332.5 433.6 334.3 433.7 333.1 433.8 336.1 433.8 331.8 433.9 333.3 433.9 331.0 433.9 333.0 434.0 331.7 434.1 332.5 434.1 331.6 434.1 330.2 434.2 330.5 434.2 329.7 434.3 329.6 434.4 330.6 434.4 331.5 434.4 331.2 434.5 330.7 434.6 329.2 435.1 328.9 435.6 326.4 436.1 327.0 436.6 327.9 437.1 327.8 437.6 328.9 437.6 329.3 437.6 330.8 437.7 330.2 437.8 329.1 437.8 329.9 437.9 329.2 437.9 332.0 437.9 331.2 438.0 330.3 438.1 332.3 438.1 332.6 438.1 332.1 438.2 331.5 438.2 332.3 438.3 332.7 438.4 333.8 438.4 333.4 438.4 335.4 438.5 332.9 438.6 334.6 438.6 333.1 438.6 331.5 438.7 332.3 438.8 332.0 438.8 332.4 438.9 335.7 438.9 334.0 438.9 335.2 439.0 333.6 439.1 334.5 439.1 333.7 439.1 335.9 439.2 334.9 439.2 334.7 439.3 334.9 439.4 337.3 439.4 335.8 439.4 336.5 439.5 334.8 439.6 335.7 439.6 336.9 439.6 335.2 439.7 338.6 439.8 337.8 439.8 337.6 439.9 337.5 439.9 337.6 439.9 337.5 440.0 339.5 440.1 339.1 440.1 340.1 440.1 339.1 440.2 338.9 440.2 341.3 440.3 338.9 440.4 339.7 440.4 341.2 440.4 341.9 440.5 339.7 440.6 340.9 440.6 341.3 440.7 340.7 440.8 342.5 440.8 341.5 440.9 341.9 440.9 340.1 440.9 342.5 441.0 341.3 441.1 344.6 441.1 345.0 441.1 344.4 441.2 345.2 441.2 345.1 441.3 344.8 441.4 345.2 441.4 344.8 441.5 344.9 441.6 347.7 441.6 346.7 441.7 347.6 441.8 346.6 441.8 346.8 441.9 348.1 441.9 348.6 441.9 348.2 442.0 346.1 442.1 347.8 442.1 347.9 442.1 348.5 442.2 347.3 442.2 347.4 442.3 348.7 442.4 348.2 442.4 348.3 442.4 349.5 442.5 350.7 442.6 349.9 442.6 350.9 442.6 349.0 442.7 351.0 442.8 350.5 443.1 350.5 443.6 351.8 444.1 352.0 444.6 353.2 445.1 353.1 445.6 355.5 446.1 354.4 446.6 353.8 447.1 355.2 447.6 355.9 448.1 355.3 448.6 356.6 449.1 355.0 449.6 355.2 450.1 357.8 450.6 356.3 451.1 357.0 451.6 357.2 452.1 357.6 452.6 357.4 453.1 357.7 453.6 359.4 454.1 358.1 454.6 359.0 455.1 359.8 455.6 359.0 456.1 358.2 456.6 360.5 457.1 361.6 457.6 361.1 458.1 359.3 458.6 361.7 459.1 363.2 459.6 360.1 460.1 359.2 460.6 361.7 461.1 362.0 461.6 362.7 462.1 362.8 462.6 362.0 463.1 362.3 463.6 361.8 464.1 361.3 464.6 360.8 465.1 360.3 465.6 360.4 466.1 359.3 466.6 357.6 467.1 358.1 467.6 355.4 468.1 355.1 468.6 354.7 468.6 352.7 468.6 353.9 468.7 354.8 468.8 354.3 468.8 351.8 468.9 351.6 468.9 350.8 468.9 351.1 469.0 351.0 469.1 349.2 469.1 350.7 469.1 349.9 469.2 349.2 469.2 348.0 469.3 348.0 469.4 346.0 469.4 347.4 469.4 346.7 469.5 345.7 469.6 344.2 469.6 346.0 469.6 345.1 469.7 341.2 469.8 342.4 469.8 341.2 469.9 337.7 469.9 340.0 469.9 339.3 470.0 338.4 470.1 336.8 470.1 335.0 470.1 334.3 470.2 334.6 470.2 334.7 470.3 332.5 470.4 332.1 470.4 332.4 470.4 328.7 470.5 330.3 470.6 328.8 470.6 326.1 470.6 328.2 470.7 325.7 470.8 326.4 470.8 326.0 470.9 322.6 470.9 321.7 470.9 321.9 471.0 319.2 471.1 320.2 471.1 318.0 471.1 317.0 471.2 312.8 471.2 313.7 471.3 313.0 471.4 309.9 471.4 311.5 471.4 308.1 471.5 308.3 471.6 305.2 471.6 305.7 471.6 305.0 471.7 301.9 471.8 300.6 471.8 300.9 471.9 298.2 471.9 297.5 471.9 296.9 472.0 295.2 472.1 295.2 472.1 293.7 472.1 293.2 472.2 290.1 472.3 287.2 472.4 288.0 472.4 287.9 472.4 287.7 472.5 283.3 472.6 283.6 472.6 281.1 472.7 281.7 472.8 281.2 472.8 280.2 472.9 280.4 472.9 280.1 473.1 281.2 473.1 282.0 473.2 281.2 473.2 283.9 473.3 280.1 473.4 281.4 473.4 283.1 473.4 282.1 473.5 284.5 473.6 285.9 473.6 286.2 473.6 286.6 473.7 288.5 473.8 288.7 473.8 289.5 473.9 289.8 473.9 289.4 473.9 290.1 474.0 292.2 474.1 294.3 474.1 295.4 474.1 297.6 474.2 297.8 474.2 299.4 474.3 299.5 474.4 299.7 474.4 302.4 474.4 303.3 474.5 303.2 474.6 305.0 474.6 309.4 474.6 304.3 474.7 309.6 474.8 309.3 474.8 310.1 474.9 311.1 474.9 312.0 474.9 316.0 475.0 314.5 475.1 315.9 475.1 318.1 475.1 318.8 475.2 319.4 475.2 320.7 475.3 321.1 475.4 324.9 475.4 324.2 475.4 324.3 475.5 329.2 475.6 330.3 475.6 331.1 475.6 331.4 475.7 334.1 475.8 332.9 475.8 333.0 475.9 336.7 475.9 338.7 475.9 339.7 476.0 342.2 476.1 341.9 476.1 341.6 476.1 342.5 476.2 344.3 476.2 344.0 476.3 344.6 476.4 343.6 476.4 345.7 476.4 345.4 476.5 347.6 476.6 347.9 476.6 348.9 476.6 350.4 476.7 349.1 476.8 351.3 476.8 349.3 476.9 351.2 476.9 352.8 476.9 354.4 477.0 351.7 477.1 352.9 477.1 353.8 477.1 354.1 477.2 353.8 477.2 353.6 477.3 354.5 477.4 356.3 477.4 355.7 477.4 359.3 477.5 359.1 477.6 356.3 477.6 358.2 477.6 360.6 477.7 361.3 477.8 361.5 477.8 359.3 477.9 360.6 477.9 362.3 477.9 361.3 478.0 360.9 478.1 362.3 478.1 363.3 478.1 362.9 478.2 363.6 478.2 365.0 478.3 363.7 478.4 363.5 478.4 365.2 478.6 363.6 479.1 366.5 479.6 366.3 480.1 368.6 480.6 366.7 481.1 368.8 481.6 367.9 482.1 367.5 482.6 367.0 483.1 367.7 483.6 366.8 484.1 366.4 484.6 368.6 485.1 368.1 485.6 368.9 486.1 366.7 486.6 366.4 487.1 366.7 487.6 368.5 488.1 368.3 488.6 365.5 489.1 368.3 489.6 366.7 490.1 365.8 490.6 366.9 491.1 367.7 491.6 367.1 492.1 367.2 492.6 366.6 493.1 366.1 493.6 367.2 494.1 365.9 494.6 368.0 495.1 366.5 495.6 368.9 496.1 366.4 496.6 369.6 497.1 367.2 497.6 367.0 498.1 368.1 498.6 368.9 499.1 368.2 499.6 368.1 500.1 370.6 500.6 369.2 501.1 367.6 501.6 368.7 502.1 370.8 502.6 369.6 503.1 370.4 503.6 371.9 504.1 369.5 504.6 370.5 505.1 369.3 505.6 369.7 506.1 370.2 506.6 368.4 507.1 369.8 507.6 369.6 508.1 370.3 508.6 368.8 509.1 368.4 509.6 370.2 510.1 368.6 510.6 369.8 511.1 370.0 511.6 368.2 512.1 368.4 512.6 367.1 513.1 365.1 513.6 366.3 514.1 365.1 514.6 366.5 515.1 364.5 515.5 364.3 515.5 364.1 515.6 365.0 515.6 363.4 515.7 363.4 515.8 364.5 515.8 365.7 515.9 364.0 515.9 364.3 516.0 363.7 516.0 363.1 516.0 362.0 516.1 363.0 516.1 362.5 516.2 362.3 516.2 364.6 516.3 362.2 516.4 362.5 516.4 361.2 516.5 362.2 516.5 360.6 516.5 363.0 516.6 361.2 516.6 362.4 516.7 362.5 516.8 361.0 517.1 360.8 517.6 358.4 518.1 356.2 518.6 355.1 519.1 355.3 519.6 356.4 520.1 354.6 520.3 356.0 520.4 354.7 520.4 356.0 520.5 354.6 520.5 355.4 520.5 356.5 520.6 356.0 520.6 356.7 520.7 358.1 520.8 357.0 520.8 356.3 520.9 355.7 520.9 356.3 521.0 358.0 521.0 357.0 521.0 357.4 521.1 358.9 521.1 359.7 521.2 360.3 521.2 359.0 521.3 358.4 521.4 357.7 521.4 358.9 521.5 359.5 521.5 360.8 521.6 360.5 521.6 362.4 521.7 360.5 521.8 360.7 521.8 360.4 521.9 360.3 521.9 361.1 522.0 360.7 522.0 360.9 522.0 363.1 522.1 360.5 522.1 361.3 522.2 362.3 522.2 363.1 522.3 363.2 522.4 362.6 522.4 362.7 522.5 363.1 522.5 364.5 522.5 363.4 522.6 362.5 522.6 365.3 522.7 364.0 522.8 365.0 522.8 366.4 522.9 365.0 522.9 366.7 523.0 363.3 523.0 365.4 523.0 365.9 523.1 366.8 523.1 365.5 523.2 366.5 523.2 366.6 523.3 366.8 523.4 365.4 523.4 365.0 523.6 367.6 524.1 368.3 524.6 368.3 525.1 369.0 525.6 369.8 526.1 367.9 526.6 370.4 527.1 371.7 527.6 371.7 528.1 371.4 528.6 371.3 529.1 368.9 529.6 369.9 530.1 371.7 530.6 372.4 531.1 371.4 531.6 370.5 532.1 370.8 532.6 372.0 533.1 373.4 533.6 372.2 534.1 370.7 534.6 371.5 535.1 371.0 535.6 372.9 536.1 371.4 536.6 371.2 537.1 371.3 537.6 370.2 538.1 370.3 538.6 370.8 539.1 370.7 539.6 371.9 540.1 371.9 540.6 372.6 541.1 373.0 541.6 371.7 542.1 371.3 542.6 369.7 543.1 371.8 543.6 372.1 544.1 370.7 544.6 371.1 545.1 370.6 545.6 372.0 546.1 371.2 546.6 371.6 547.1 369.0 547.6 372.7 548.1 369.0 548.6 368.9 549.1 370.2 549.6 369.6 550.1 372.2 550.6 370.1 551.1 370.0 551.6 371.8 552.1 372.1 552.6 370.3 553.1 370.9 553.6 371.2 554.1 371.6 554.6 373.9 555.1 374.0 555.6 374.4 556.1 374.9 556.6 373.8 557.1 374.7 557.6 374.0 558.1 373.7 558.6 376.3 559.1 373.1 559.6 375.2 560.1 374.9 560.6 374.1 561.1 375.3 561.6 375.7 562.1 376.1 562.6 375.0 563.1 376.6 563.6 375.7 564.1 375.8 564.6 372.8 565.1 374.0 565.6 373.7 566.1 374.8 566.6 373.7 567.1 374.3 567.6 374.0 568.1 374.1 568.6 374.2 569.1 375.9 569.6 373.6 570.1 372.1 570.6 374.9 571.1 374.3 571.6 375.4 572.1 375.2 572.6 373.9 573.1 373.3 573.6 372.9 574.1 373.3 574.6 372.7 575.1 373.8 575.6 375.0 576.1 372.8 576.6 372.8 577.1 373.1 577.6 374.7 578.1 375.2 578.6 376.3 579.1 375.6 579.6 375.1 580.1 375.3 580.6 373.4 581.1 375.3 581.6 375.0 582.1 377.0 582.6 376.4 583.1 374.2 583.6 374.4 584.1 375.9 584.6 373.2 585.1 374.5 585.6 376.1 586.1 376.7 586.6 376.6 587.1 377.8 587.6 376.6 588.1 377.2 588.6 376.9 589.1 375.8 589.6 376.7 590.1 376.0 590.6 376.8 591.1 374.3 591.6 377.3 592.1 376.8 592.6 376.8 593.1 377.6 593.6 377.4 594.1 379.3 594.6 380.1 595.1 380.0 595.6 379.9 596.1 378.9 596.6 378.1 597.1 376.6 597.6 377.7 598.1 379.6 598.6 379.3 599.1 378.0 599.6 378.2 600.1 378.8 600.6 377.7 601.1 379.8 601.6 377.7 602.1 379.5 602.6 379.5 603.1 379.0 603.6 378.9 604.1 379.0 604.6 376.1 605.1 379.0 605.6 379.7 606.1 378.9 606.6 379.4 607.1 376.9 607.6 377.9 608.1 378.4 608.6 378.0 609.1 379.7 609.6 379.3 610.1 378.5 610.6 379.9 611.1 379.9 611.6 378.6 612.1 379.6 612.6 379.4 613.1 379.5 613.6 378.1 614.1 380.9 614.6 380.5 615.1 379.8 615.6 380.0 616.1 379.7 616.6 379.0 617.1 378.9 617.6 379.6 618.1 378.9 618.6 378.9 619.1 378.2 619.6 379.0 620.1 380.3 620.6 379.5 621.1 379.4 621.6 379.0 622.1 378.9 622.6 377.9 623.1 381.2 623.6 379.1 624.1 378.6 624.6 380.4 625.1 380.0 625.6 378.9 626.1 377.8 626.6 378.0 627.1 381.1 627.6 379.5 628.1 378.9 628.6 381.4 629.1 379.1 629.6 378.7 630.1 380.1 630.6 379.9 631.1 381.1 631.6 378.0 632.1 379.8 632.6 377.9 633.1 380.1 633.6 379.1 634.1 379.3 634.6 379.1 635.1 380.6 635.6 381.4 636.1 379.8 636.6 379.9 637.1 379.8 637.6 380.6 638.1 378.8 638.6 383.3 639.1 379.4 639.6 381.3 640.1 379.6 640.6 378.1 641.1 378.0 641.6 379.4 642.1 379.3 642.6 379.8 643.1 378.9 643.6 382.3 644.1 382.0 644.6 378.0 645.1 380.1 645.6 380.5 646.1 378.4 646.6 377.7 647.1 378.2 647.6 377.0 648.1 374.9 648.6 377.4 649.1 375.9 649.6 378.5 650.1 375.9 650.6 374.8 651.1 377.7 651.6 379.4 652.1 379.3 652.6 379.1 653.1 378.2 653.6 380.3 654.1 378.0 654.6 381.0 655.1 379.3 655.6 380.0 656.1 379.3 656.6 379.8 657.1 382.1 657.6 379.3 658.1 380.6 658.6 379.8 659.1 381.8 659.6 379.4 660.1 380.4 660.6 380.8 661.1 381.5 661.6 377.3 662.1 377.1 662.6 377.2 663.1 378.2 663.6 375.3 664.1 377.0 664.6 375.3 665.1 374.6 665.6 373.9 666.1 376.0 666.6 377.4 667.1 376.8 667.6 375.2 668.1 377.2 668.6 379.4 669.1 380.1 669.6 380.3 670.1 382.1 670.6 380.0 671.1 380.8 671.6 385.2 672.1 384.1 672.6 383.6 673.1 383.6 673.6 381.5 674.1 385.0 674.6 382.2 675.1 382.4 675.6 384.2 676.1 385.7 676.6 383.9 677.1 385.0 677.6 384.2 678.1 384.9 678.6 382.6 679.1 386.4 679.6 383.4 680.1 385.2 680.6 382.6 681.1 386.3 681.6 384.5 682.1 385.8 682.6 383.0 683.1 385.0 683.6 384.1 684.1 384.4 684.6 385.8 685.1 383.4 685.6 384.9 686.1 386.1 686.6 386.0 687.1 385.4 687.6 384.6 688.1 383.3 688.6 385.6 689.1 383.3 689.6 385.1 690.1 383.7 690.6 384.3 691.1 384.6 691.6 385.5 692.1 384.6 692.6 385.2 693.1 384.2 693.6 385.1 694.1 384.9 694.6 385.3 695.1 384.1 695.6 385.4 696.1 385.0 696.6 385.6 697.1 385.3 697.6 384.6 698.1 386.5 698.6 385.1 699.1 386.0 699.6 383.4 700.1 385.8 700.6 385.8 701.1 384.2 701.6 385.8 702.1 384.9 702.6 386.7 703.1 385.8 703.6 383.7 704.1 384.7 704.6 383.2 705.1 384.8 705.6 385.9 706.1 386.4 706.6 385.5 707.1 385.1 707.6 385.2 708.1 384.3 708.6 385.5 709.1 386.5 709.6 385.8 710.1 386.7 710.6 385.3 711.1 385.8 711.6 386.8 712.1 388.8 712.6 388.0 713.1 388.6 713.6 386.6 714.1 387.4 714.6 384.3 715.1 386.5 715.6 383.8 716.1 387.1 716.6 386.2 717.1 386.9 717.6 386.3 718.1 385.5 718.6 385.3 719.1 386.2 719.6 387.6 720.1 387.0 720.6 386.0 721.1 386.1 721.6 386.0 722.1 386.5 722.6 386.5 723.1 385.7 723.6 385.9 724.1 384.0 724.6 387.1 725.1 385.7 725.6 386.7 726.1 385.0 726.6 384.0 727.1 383.9 727.6 384.0 728.1 383.1 728.6 383.4 729.1 385.5 729.6 384.1 730.1 382.1 730.6 382.8 731.1 381.3 731.6 383.5 732.1 380.7 732.6 382.3 733.1 381.4 733.6 381.7 734.1 381.3 734.6 382.5 735.1 382.8 735.6 383.5 736.1 385.6 736.6 388.1 737.1 385.3 737.6 386.7 738.1 385.8 738.6 385.2 739.1 387.2 739.6 386.5 740.1 387.0 740.6 386.0 741.1 386.0 741.6 384.9 742.1 385.4 742.6 387.4 743.1 383.6 743.6 386.5 744.1 387.8 744.6 387.5 745.1 388.0 745.6 387.1 746.1 388.5 746.6 388.3 747.1 387.1 747.6 388.9 748.1 387.0 748.6 385.1 749.1 387.7 749.6 387.5 750.1 386.6 750.6 386.8 751.1 386.5 751.6 384.9 752.1 387.9 752.6 386.8 753.1 389.7 753.6 387.0 754.1 387.4 754.6 385.3 755.1 387.8 755.6 385.8 756.1 387.5 756.6 387.8 757.1 387.6 757.6 386.4 758.1 386.8 758.6 388.5 759.1 388.9 759.6 389.0 760.1 387.5 760.6 387.4 761.1 389.2 761.6 386.5 762.1 387.7 762.6 386.5 763.1 385.5 763.6 386.0 764.1 387.8 764.6 387.7 765.1 388.0 765.6 387.3 766.1 387.2 766.6 388.1 767.1 388.0 767.6 386.9 768.1 388.2 768.6 390.3 769.1 387.5 769.6 388.4 770.1 387.4 770.6 388.1 771.1 386.6 771.6 386.4 772.1 388.5 772.6 387.6 773.1 388.5 773.6 388.4 774.1 389.8 774.6 389.0 775.1 388.9 775.6 387.9 776.1 387.4 776.6 387.9 777.1 389.3 777.6 389.1 778.1 389.2 778.6 388.3 779.1 387.6 779.6 389.8 780.1 389.1 780.6 389.6 781.1 388.0 781.6 387.8 782.1 389.0 782.6 389.2 783.1 387.7 783.6 389.0 784.1 387.4 784.6 389.5 785.1 388.9 785.6 390.5 786.1 389.8 786.6 387.6 787.1 388.4 787.6 387.7 788.1 388.4 788.6 389.3 789.1 388.9 789.6 389.3 790.1 388.1 790.6 390.1 791.1 389.5 791.6 390.0 792.1 390.2 792.6 388.9 793.1 389.5 793.6 388.4 794.1 390.0 794.6 389.1 795.1 388.5 795.6 388.8 796.1 387.7 796.6 388.5 797.1 388.7 797.6 389.2 798.1 389.3 798.6 388.9 799.1 389.4 799.6 387.6 800.1 389.9 800.6 390.6 801.1 391.1 801.6 391.4 802.1 390.1 802.6 390.1 803.1 389.5 803.6 389.3 804.1 389.8 804.6 391.0 805.1 388.0 805.6 389.3 806.1 390.1 806.6 388.8 807.1 390.3 807.6 388.5 808.1 389.6 808.6 388.4 809.1 390.3 809.6 389.1 810.1 390.4 810.6 389.4 811.1 388.7 811.6 389.2 812.1 389.7 812.6 389.5 813.1 389.2 813.6 389.0 814.1 389.3 814.6 390.3 815.1 389.2 815.6 390.7 816.1 389.4 816.6 391.8 817.1 391.0 817.6 390.0 818.1 389.8 818.6 388.4 819.1 390.0 819.6 389.4 820.1 388.1 820.6 389.3 821.1 390.7 821.6 390.4 822.1 390.2 822.6 388.9 823.1 390.2 823.6 389.6 824.1 391.0 824.6 392.7 825.1 388.5 825.6 390.0 826.1 390.5 826.6 389.8 827.1 391.3 827.6 389.6 828.1 391.4 828.6 390.4 829.1 390.3 829.6 390.1 830.1 391.0 830.6 390.7 831.1 391.7 831.6 390.9 832.1 391.7 832.6 391.1 833.1 391.0 833.6 388.9 834.1 390.3 834.6 390.8 835.1 389.6 835.6 389.3 836.1 390.0 836.6 390.0 837.1 387.9 837.6 390.0 838.1 390.9 838.6 389.9 839.1 390.6 839.6 391.0 840.1 390.0 840.6 391.3 841.1 391.4 841.6 390.1 842.1 392.2 842.6 392.7 843.1 390.7 843.6 392.6 844.1 391.4 844.6 390.3 845.1 390.5 845.6 390.5 846.1 391.7 846.6 390.6 847.1 390.7 847.6 390.0 848.1 391.3 848.6 390.0 849.1 390.3 849.6 391.4 850.1 391.3 850.6 390.0 851.1 390.5 851.6 391.3 852.1 391.2 852.6 392.7 853.1 392.9 853.6 391.4 854.1 390.2 854.6 391.3 855.1 392.9 855.6 392.8 856.1 392.8 856.6 392.7 857.1 391.3 857.6 392.2 858.1 393.1 858.6 392.3 859.1 392.9 859.6 390.8 860.1 390.1 860.6 392.7 861.1 391.0 861.6 390.8 862.1 392.0 862.6 393.1 863.1 394.1 863.6 389.1 864.1 392.0 864.6 392.6 865.1 389.5 865.6 389.4 866.1 391.0 866.6 393.2 867.1 392.4 867.6 393.5 868.1 391.3 868.6 391.7 869.1 392.1 869.6 391.2 870.1 391.0 870.6 391.4 871.1 387.8 871.6 392.1 872.1 390.2 872.6 391.4 873.1 392.9 873.6 392.6 874.1 390.4 874.6 393.1 875.1 393.2 875.6 392.5 876.1 392.9 876.6 392.8 877.1 390.6 877.6 392.1 878.1 392.0 878.6 390.9 879.1 391.8 879.6 390.8 880.1 391.4 880.6 390.7 881.1 392.8 881.6 394.2 882.1 391.6 882.6 392.3 883.1 392.3 883.6 392.6 884.1 392.0 884.6 390.0 885.1 392.7 885.6 392.1 886.1 390.9 886.6 391.5 887.1 391.0 887.6 391.5 888.1 390.8 888.6 390.9 889.1 391.4 889.6 391.7 890.1 391.6 890.6 393.2 891.1 392.7 891.6 391.9 892.1 394.4 892.6 392.5 893.1 393.7 893.6 391.0 894.1 392.7 894.6 393.9 895.1 393.3 895.6 391.8 896.1 391.1 896.6 391.2 897.1 391.8 897.6 391.0 898.1 391.2 898.6 391.0 899.1 390.9 899.6 392.0 900.1 390.0 900.6 392.0 901.1 392.5 901.6 390.8 902.1 390.9 902.6 391.8 903.1 391.7 903.6 392.7 904.1 389.8 904.6 391.9 905.1 393.6 905.6 392.5 906.1 394.3 906.6 394.6 907.1 391.6 907.6 393.5 908.1 392.5 908.6 391.9 909.1 391.6 909.6 391.7 910.1 391.2 910.6 392.1 911.1 393.4 911.6 393.7 912.1 392.0 912.6 392.6 913.1 392.3 913.6 389.4 914.1 392.8 914.6 391.4 915.1 391.9 915.6 393.9 916.1 394.6 916.6 391.6 917.1 391.5 917.6 391.3 918.1 391.7 918.6 391.7 919.1 391.1 919.6 390.1 920.1 393.5 920.6 391.3 921.1 391.3 921.6 393.1 922.1 392.1 922.6 393.9 923.1 393.9 923.6 394.2 924.1 392.6 924.6 393.4 925.1 391.1 925.6 391.3 926.1 393.0 926.6 392.8 927.1 394.5 927.6 392.7 928.1 391.0 928.6 392.6 929.1 392.3 929.6 392.8 930.1 391.6 930.6 392.0 931.1 392.8 931.6 393.4 932.1 393.0 932.6 393.2 933.1 390.8 933.6 391.8 934.1 392.3 934.6 393.3 935.1 392.8 935.6 392.2 936.1 391.9 936.6 391.5 937.1 389.8 937.6 391.2" stroke="#0000a0" stroke-width="3.25"/>
<path d="M68.6 239.4L69.1 239.8 69.6 239.2 70.1 237.5 70.6 239.7 71.1 239.3 71.6 238.4 72.1 239.5 72.6 239.1 73.1 238.7 73.6 238.2 74.1 238.7 74.6 237.2 75.1 237.4 75.6 236.7 76.1 237.8 76.6 237.4 77.1 237.2 77.6 236.5 78.1 236.9 78.6 237.1 79.1 236.8 79.6 238.2 80.1 237.6 80.6 233.8 81.1 234.6 81.6 236.3 82.1 235.9 82.6 236.2 83.1 236.0 83.6 237.9 84.1 234.7 84.6 235.6 85.1 238.0 85.6 236.4 86.1 236.0 86.6 234.5 87.1 233.2 87.6 234.9 88.1 234.8 88.6 233.5 89.1 234.0 89.6 234.6 90.1 233.5 90.6 233.9 91.1 233.5 91.6 233.1 92.1 232.6 92.6 233.7 93.1 234.0 93.6 233.4 94.1 232.3 94.6 233.9 95.1 232.7 95.6 234.1 96.1 232.1 96.6 233.9 97.1 232.8 97.6 231.4 98.1 232.2 98.6 232.4 99.1 232.6 99.6 231.4 100.1 231.2 100.6 232.3 101.1 231.5 101.6 232.0 102.1 232.3 102.6 229.8 103.1 231.7 103.6 232.8 104.1 231.3 104.6 230.6 105.1 232.0 105.6 231.4 106.1 232.3 106.6 231.2 107.1 230.0 107.6 231.1 108.1 230.5 108.6 231.7 109.1 231.2 109.6 229.4 110.1 229.8 110.6 232.0 111.1 231.9 111.6 230.4 112.1 230.6 112.6 230.7 113.1 230.7 113.6 231.3 114.1 230.7 114.6 230.2 115.1 229.6 115.6 230.5 116.1 227.0 116.6 228.9 117.1 228.9 117.6 227.4 118.1 229.2 118.6 228.4 119.1 229.9 119.6 228.9 120.1 229.6 120.6 230.0 121.1 229.0 121.6 227.4 122.1 226.5 122.6 229.4 123.1 227.5 123.6 227.1 124.1 228.0 124.6 227.5 125.1 228.4 125.6 227.4 126.1 227.3 126.6 226.7 127.1 227.9 127.6 226.3 128.1 227.9 128.6 228.5 129.1 225.2 129.6 224.3 130.1 227.6 130.6 229.8 131.1 226.3 131.6 226.0 132.1 227.7 132.6 226.2 133.1 226.4 133.6 226.4 134.1 227.1 134.6 226.0 135.1 226.6 135.6 226.1 136.1 225.2 136.6 225.8 137.1 225.3 137.6 226.3 138.1 224.8 138.6 224.3 139.1 226.5 139.6 225.1 140.1 225.5 140.6 226.4 141.1 225.5 141.6 225.5 142.1 226.0 142.6 225.6 143.1 223.9 143.6 225.6 144.1 224.0 144.6 223.4 145.1 223.3 145.6 223.6 146.1 225.5 146.6 222.6 147.1 224.0 147.6 221.7 148.1 223.8 148.6 224.6 149.1 223.3 149.6 222.6 150.1 223.0 150.6 223.1 151.1 222.9 151.6 224.1 152.1 222.2 152.6 221.2 153.1 221.7 153.6 221.7 154.1 221.7 154.6 221.1 155.1 220.8 155.6 218.8 156.1 221.2 156.6 219.5 157.1 218.5 157.6 219.7 158.1 219.7 158.6 218.1 159.1 217.1 159.6 215.4 160.1 218.7 160.6 216.2 161.1 213.4 161.6 212.9 162.1 212.9 162.6 210.6 163.1 211.6 163.6 210.4 164.1 211.5 164.6 210.5 165.1 205.6 165.2 207.8 165.2 205.7 165.3 208.1 165.3 207.1 165.4 207.5 165.4 206.0 165.5 208.9 165.6 208.7 165.6 205.1 165.7 206.2 165.7 205.1 165.8 205.9 165.8 204.6 165.8 207.6 165.9 204.4 165.9 204.8 166.0 205.3 166.1 203.7 166.1 203.8 166.2 203.2 166.2 203.4 166.2 202.1 166.3 202.6 166.3 202.7 166.4 202.4 166.4 202.7 166.5 202.2 166.6 203.0 166.6 201.7 166.7 201.8 166.7 201.2 166.8 201.2 166.8 200.2 166.8 201.9 166.9 200.3 166.9 200.8 167.0 201.7 167.1 201.2 167.1 199.9 167.2 198.0 167.2 200.0 167.2 199.3 167.3 197.2 167.3 199.2 167.4 197.7 167.4 197.3 167.5 198.2 167.6 197.5 167.6 197.3 167.7 195.1 167.7 198.1 167.8 195.1 167.8 193.5 167.8 195.3 167.9 194.3 167.9 194.9 168.0 194.1 168.1 194.2 168.2 192.7 168.2 193.8 168.2 192.2 168.3 191.4 168.3 191.7 168.4 191.6 168.4 190.6 168.5 189.8 168.6 191.1 168.6 188.3 168.7 188.7 168.7 189.4 168.8 187.7 168.8 188.6 168.8 188.2 168.9 188.9 168.9 186.9 169.0 186.8 169.1 187.2 169.1 183.8 169.2 188.9 169.2 184.8 169.2 184.7 169.3 186.2 169.3 184.8 169.4 182.4 169.4 184.2 169.5 184.2 169.6 182.8 169.6 182.9 169.7 183.5 169.7 181.7 169.8 182.7 169.8 182.3 169.8 181.3 169.9 180.4 169.9 181.2 170.0 180.1 170.1 181.5 170.1 180.2 170.2 180.4 170.2 179.3 170.2 179.0 170.3 177.5 170.3 178.5 170.4 179.2 170.4 176.7 170.5 176.0 170.6 175.9 170.6 175.1 170.7 174.5 170.7 175.1 170.8 174.4 170.8 176.0 170.8 174.3 170.9 174.1 171.0 172.4 171.1 173.8 171.1 171.3 171.2 170.8 171.2 171.0 171.2 170.9 171.3 169.2 171.3 170.1 171.4 168.1 171.4 170.5 171.5 168.4 171.6 167.3 171.6 166.8 171.7 167.1 171.7 166.8 171.8 165.4 171.8 165.0 171.8 165.5 171.9 165.0 171.9 166.4 172.0 166.4 172.1 164.9 172.1 164.8 172.2 162.2 172.2 163.4 172.2 162.0 172.3 162.0 172.3 162.8 172.4 158.3 172.4 160.0 172.5 157.8 172.6 158.8 172.6 156.3 172.7 156.7 172.7 157.0 172.8 157.0 172.8 156.0 172.8 154.8 172.9 154.6 172.9 155.3 173.0 153.5 173.1 150.8 173.1 152.3 173.2 151.1 173.2 150.9 173.2 149.0 173.3 149.4 173.3 146.7 173.4 147.6 173.4 145.6 173.5 145.6 173.6 144.7 173.6 141.9 173.7 141.7 173.7 141.0 173.8 141.4 173.8 139.9 173.8 136.8 173.9 137.3 173.9 136.7 174.0 137.3 174.1 132.7 174.1 132.6 174.2 133.0 174.2 128.7 174.2 127.5 174.3 128.1 174.3 127.4 174.4 124.5 174.4 124.3 174.5 122.4 174.6 122.4 174.6 119.6 174.7 119.3 174.7 116.1 174.8 115.6 174.8 114.4 174.8 114.3 174.9 112.4 174.9 109.6 175.0 109.7 175.1 108.6 175.1 106.4 175.2 104.7 175.2 103.1 175.2 100.0 175.3 100.4 175.3 99.2 175.4 96.9 175.4 97.0 175.5 93.2 175.6 92.2 175.6 90.6 175.7 91.5 175.7 86.0 175.8 86.2 175.8 84.4 175.8 81.7 175.9 80.3 175.9 75.7 176.0 71.8 176.1 72.2 176.1 67.7 176.2 66.3 176.2 63.3 176.3 60.7 176.3 56.5 176.4 55.6 176.4 52.3 176.5 49.8 176.6 47.8 176.6 45.1 176.7 43.3 176.7 40.3 176.8 37.1 176.8 36.3 176.8 32.8 176.9 31.9 176.9 30.5 177.0 30.3 177.1 27.4 177.1 28.7 177.2 26.2 177.2 24.7 177.2 23.2 177.3 23.8 177.3 23.0 177.4 22.0 177.5 22.4 177.6 23.5 177.6 24.1 177.7 26.7 177.7 28.1 177.8 28.7 177.8 29.5 177.8 29.9 177.9 31.6 177.9 33.7 178.0 36.4 178.1 37.0 178.1 37.9 178.2 40.4 178.2 42.0 178.2 43.9 178.3 46.8 178.3 49.3 178.4 53.0 178.4 53.4 178.5 57.1 178.6 60.1 178.6 60.9 178.7 65.0 178.7 66.5 178.8 67.8 178.8 70.9 178.8 73.0 178.9 75.1 178.9 77.3 179.0 79.6 179.1 81.8 179.1 82.6 179.2 85.9 179.2 86.5 179.2 90.0 179.3 91.9 179.3 92.9 179.4 94.6 179.4 96.3 179.5 96.4 179.6 98.3 179.6 100.5 179.7 102.4 179.7 103.1 179.8 106.6 179.8 105.4 179.8 108.0 179.9 109.8 179.9 109.9 180.0 110.7 180.1 111.7 180.1 114.6 180.2 117.1 180.2 117.7 180.2 118.9 180.3 119.5 180.3 121.8 180.4 120.4 180.4 124.1 180.5 125.1 180.6 124.9 180.6 129.6 180.7 127.2 180.7 128.7 180.8 129.9 180.8 133.5 180.8 133.0 180.9 136.1 180.9 137.4 181.0 138.2 181.1 137.6 181.1 139.1 181.2 142.2 181.2 140.4 181.2 142.4 181.3 144.6 181.3 147.1 181.4 148.0 181.4 149.7 181.5 149.2 181.6 152.6 181.6 153.6 181.7 152.5 181.7 156.5 181.8 158.1 181.8 156.1 181.8 158.3 181.9 161.0 181.9 159.4 182.0 159.9 182.1 161.5 182.1 163.0 182.2 163.8 182.2 165.8 182.2 166.5 182.3 165.8 182.3 168.5 182.4 170.7 182.5 170.7 182.6 169.8 182.6 171.0 182.7 169.6 182.7 172.0 182.8 171.7 182.8 173.3 182.8 173.0 182.9 171.9 182.9 173.5 183.0 174.7 183.1 172.4 183.1 173.3 183.2 173.6 183.2 173.5 183.2 176.5 183.3 177.2 183.4 177.1 183.4 177.2 183.5 177.8 183.6 177.1 183.6 179.0 183.7 179.5 183.7 179.7 183.8 178.4 183.8 179.0 183.9 181.4 183.9 180.3 184.0 178.5 184.1 181.1 184.1 182.9 184.2 182.1 184.2 182.9 184.2 182.7 184.3 181.1 184.3 181.5 184.4 182.0 184.4 182.9 184.5 183.2 184.6 183.6 184.6 182.9 184.7 184.5 184.7 183.6 184.8 183.7 184.8 185.8 184.8 184.6 184.9 183.3 184.9 185.2 185.0 186.5 185.1 183.5 185.1 186.5 185.2 186.9 185.2 186.1 185.2 186.3 185.3 187.6 185.3 187.9 185.4 190.0 185.4 189.3 185.5 187.6 185.6 188.7 185.6 190.7 185.7 192.3 185.7 191.2 185.8 191.4 185.8 193.2 185.8 191.5 185.9 191.5 185.9 190.8 186.0 192.2 186.1 195.5 186.1 192.4 186.2 194.1 186.2 192.8 186.2 194.6 186.3 195.7 186.3 194.9 186.4 195.9 186.4 195.7 186.5 195.0 186.6 195.9 186.6 195.1 186.7 194.5 186.7 194.6 186.8 194.8 186.8 196.1 186.8 195.5 186.9 199.0 186.9 198.5 187.0 196.6 187.1 196.3 187.1 198.1 187.2 194.5 187.2 196.0 187.2 197.7 187.3 196.2 187.3 196.9 187.4 197.0 187.4 198.0 187.5 197.7 187.6 198.4 187.6 198.8 187.7 198.4 187.7 199.5 188.1 198.7 188.6 199.5 189.1 200.5 189.6 201.9 190.1 204.0 190.6 206.4 191.1 206.2 191.6 206.1 192.1 206.3 192.6 207.4 193.1 207.9 193.6 208.2 194.1 207.9 194.6 209.4 195.1 211.3 195.6 208.4 196.1 210.3 196.6 208.2 197.1 210.5 197.6 210.0 198.1 209.4 198.6 212.3 199.1 214.4 199.6 212.8 200.1 213.9 200.6 212.7 201.1 210.8 201.6 213.7 202.1 213.1 202.6 212.4 203.1 214.7 203.6 214.1 204.1 213.2 204.6 214.7 205.1 213.2 205.6 215.0 206.1 213.8 206.6 215.4 207.1 213.6 207.6 215.7 208.1 214.1 208.6 215.1 209.1 212.7 209.6 212.8 210.1 214.1 210.6 210.4 211.1 211.7 211.6 213.3 212.1 212.4 212.6 213.0 213.1 211.6 213.6 212.1 214.1 210.3 214.6 209.3 215.1 208.7 215.6 209.7 216.1 209.6 216.6 209.1 217.1 205.3 217.6 205.9 218.1 206.7 218.6 206.7 219.1 204.7 219.6 203.0 220.1 200.3 220.3 204.1 220.3 200.8 220.4 203.3 220.4 202.8 220.5 201.2 220.6 200.0 220.6 200.3 220.7 198.7 220.7 199.9 220.8 199.6 220.8 200.1 220.8 200.6 220.9 201.3 220.9 199.0 221.0 200.1 221.1 198.1 221.1 197.7 221.2 197.6 221.2 196.6 221.2 197.9 221.3 197.4 221.3 197.6 221.4 196.5 221.4 197.2 221.5 196.5 221.6 195.7 221.6 196.7 221.7 196.0 221.7 194.1 221.8 195.5 221.8 193.0 221.8 194.3 221.9 193.4 221.9 193.0 222.0 192.1 222.1 193.9 222.1 193.3 222.2 193.8 222.2 192.5 222.2 190.9 222.3 191.7 222.3 190.6 222.4 191.9 222.4 192.1 222.5 190.7 222.6 189.2 222.6 188.9 222.7 189.0 222.7 187.0 222.8 188.4 222.8 188.1 222.8 186.9 222.9 186.5 222.9 186.6 223.0 185.2 223.1 184.8 223.1 186.0 223.2 184.8 223.2 185.6 223.2 182.3 223.3 181.0 223.3 183.2 223.4 182.9 223.4 180.8 223.5 179.4 223.6 180.1 223.6 177.7 223.7 178.7 223.7 176.4 223.8 177.7 223.8 175.1 223.8 176.4 223.9 178.0 223.9 176.0 224.0 176.6 224.1 174.5 224.1 173.6 224.2 172.4 224.2 174.4 224.2 173.0 224.3 174.4 224.3 171.2 224.4 171.5 224.4 171.0 224.5 171.4 224.6 171.1 224.6 168.0 224.7 167.2 224.7 166.3 224.8 169.0 224.8 167.0 224.8 165.7 224.9 165.7 224.9 162.8 225.0 163.3 225.1 165.4 225.1 164.3 225.2 163.5 225.2 161.9 225.2 163.2 225.3 164.1 225.3 160.5 225.4 161.1 225.4 160.0 225.5 160.0 225.6 158.9 225.6 157.9 225.7 156.6 225.7 156.8 225.8 155.5 225.8 155.3 225.8 155.0 225.9 155.5 225.9 154.1 226.0 153.8 226.1 154.5 226.1 152.6 226.2 152.1 226.2 152.9 226.2 152.0 226.3 151.6 226.3 151.4 226.4 149.5 226.4 150.7 226.5 151.0 226.6 149.8 226.6 147.2 226.7 148.5 226.7 146.8 226.8 147.1 226.8 147.2 226.8 145.9 226.9 148.7 226.9 147.4 227.0 148.4 227.1 148.2 227.6 149.2 227.7 149.1 227.7 146.4 227.8 148.0 227.8 146.0 227.8 147.8 227.9 148.9 227.9 149.2 228.0 149.7 228.1 148.5 228.1 149.7 228.2 149.8 228.2 151.3 228.2 152.0 228.3 150.7 228.3 155.4 228.4 151.9 228.4 151.7 228.5 152.9 228.6 153.4 228.6 153.6 228.7 153.0 228.7 155.6 228.8 154.6 228.8 156.3 228.8 156.4 228.9 154.2 228.9 155.1 229.0 155.8 229.1 157.6 229.1 157.9 229.2 158.7 229.2 158.2 229.2 159.9 229.3 161.3 229.3 158.9 229.4 160.4 229.4 161.3 229.5 161.4 229.6 161.9 229.6 164.4 229.7 164.4 229.7 164.5 229.8 163.6 229.8 167.6 229.8 166.9 229.9 167.1 229.9 168.2 230.0 168.8 230.1 172.3 230.1 171.2 230.2 171.8 230.2 170.3 230.2 173.8 230.3 172.7 230.3 173.6 230.4 176.6 230.4 176.4 230.5 179.1 230.6 179.9 230.6 177.4 230.7 179.6 230.7 179.0 230.8 181.4 230.8 183.3 230.8 181.8 230.9 185.6 230.9 184.0 231.0 183.6 231.1 185.1 231.1 186.5 231.2 184.9 231.2 187.0 231.2 186.4 231.3 189.8 231.3 189.5 231.4 189.6 231.4 191.8 231.5 190.0 231.6 191.2 231.6 193.7 231.7 192.1 231.7 194.2 231.8 193.7 231.8 193.2 231.8 193.7 231.9 193.8 231.9 193.6 232.0 193.8 232.1 194.3 232.1 193.8 232.2 195.6 232.2 196.2 232.2 196.8 232.3 194.5 232.3 197.3 232.4 196.7 232.4 195.4 232.5 197.1 232.6 198.2 232.6 198.4 232.7 199.0 232.7 199.4 232.8 199.5 232.8 198.7 232.8 196.9 232.9 198.4 232.9 199.7 233.0 199.0 233.1 200.2 233.1 200.5 233.2 200.1 233.2 202.4 233.2 200.0 233.3 202.2 233.3 200.8 233.4 200.4 233.4 201.7 233.5 200.6 233.6 202.2 233.6 200.4 233.7 202.0 234.1 202.4 234.6 203.9 235.1 204.3 235.6 204.3 236.1 206.7 236.6 205.3 237.1 205.8 237.6 207.7 238.1 207.9 238.6 207.8 239.1 207.8 239.6 210.2 240.1 207.2 240.6 208.0 241.1 208.0 241.6 210.1 242.1 209.8 242.6 210.7 243.1 210.5 243.6 209.1 244.1 208.5 244.6 208.6 245.1 212.3 245.6 211.6 246.1 211.5 246.6 210.7 247.1 210.8 247.6 210.5 248.1 210.5 248.6 208.5 249.1 211.0 249.6 210.9 250.1 211.8 250.6 211.9 251.1 212.7 251.6 212.1 252.1 213.2 252.6 210.0 253.1 211.6 253.6 214.6 254.1 211.9 254.6 212.9 255.1 214.1 255.6 212.8 256.1 214.8 256.6 213.0 257.1 212.7 257.6 213.2 258.1 212.7 258.6 214.3 259.1 214.2 259.6 215.2 260.1 214.0 260.6 217.7 261.1 215.1 261.6 215.4 262.1 216.3 262.6 215.9 263.1 215.7 263.6 216.6 264.1 217.7 264.6 217.6 265.1 217.9 265.6 216.2 266.1 215.6 266.6 218.1 267.1 215.9 267.6 216.7 268.1 217.0 268.6 217.5 269.1 214.6 269.6 215.6 270.1 215.6 270.6 215.6 271.1 213.2 271.6 215.5 272.1 213.0 272.6 216.6 273.1 217.2 273.6 217.3 274.1 215.3 274.6 217.2 275.1 215.2 275.6 214.6 276.1 214.7 276.6 214.9 277.1 215.8 277.6 216.3 278.1 213.1 278.6 214.4 279.1 215.7 279.6 214.8 280.1 215.0 280.6 212.9 281.1 215.0 281.6 211.8 282.1 212.9 282.6 213.6 283.1 213.9 283.6 212.4 284.1 212.4 284.6 210.5 285.1 210.2 285.6 211.4 286.1 209.7 286.6 208.9 287.1 206.7 287.6 207.6 288.1 207.7 288.6 206.1 289.1 206.3 289.6 208.5 290.1 207.1 290.6 206.5 291.1 205.5 291.6 205.8 292.1 205.8 292.6 207.2 293.1 205.1 293.6 207.7 294.1 205.3 294.6 206.1 295.1 207.6 295.6 206.9 296.1 206.6 296.6 207.7 297.1 208.8 297.6 207.1 298.1 209.0 298.6 209.7 299.1 209.9 299.6 211.7 300.1 211.1 300.6 212.0 301.1 213.1 301.6 214.4 302.1 213.8 302.6 215.8 303.1 213.3 303.6 215.3 304.1 212.7 304.6 212.9 305.1 213.0 305.6 214.3 306.1 212.6 306.6 210.8 307.1 212.2 307.6 210.6 308.1 210.1 308.6 211.7 309.1 211.7 309.6 212.8 310.1 211.3 310.6 212.3 311.1 212.5 311.6 212.2 312.1 211.9 312.6 211.6 313.1 213.6 313.6 213.4 314.1 214.6 314.6 214.5 315.1 215.5 315.6 214.9 316.1 216.3 316.6 217.5 317.1 217.4 317.6 218.7 318.1 218.6 318.6 220.0 319.1 218.8 319.6 217.6 320.1 219.8 320.6 219.3 321.1 218.7 321.6 220.5 322.1 220.1 322.6 220.1 323.1 218.9 323.6 219.0 324.1 218.8 324.6 220.3 325.1 218.2 325.6 219.4 326.1 220.1 326.6 218.3 327.1 218.5 327.6 222.2 328.1 218.0 328.6 220.2 329.1 218.7 329.6 218.9 330.1 217.8 330.6 218.9 331.1 220.5 331.6 218.1 332.1 219.9 332.6 219.5 333.1 221.1 333.6 218.4 334.1 219.9 334.6 219.4 335.1 218.2 335.6 216.7 336.1 219.6 336.6 216.6 337.1 217.5 337.6 218.9 338.1 219.0 338.6 216.8 339.1 217.1 339.6 216.4 340.1 217.5 340.6 218.6 341.1 214.3 341.6 217.2 342.1 213.5 342.6 216.0 343.1 214.3 343.6 216.8 344.1 214.9 344.6 214.4 345.1 215.0 345.6 215.2 346.1 216.0 346.6 215.4 347.1 215.7 347.6 216.0 348.1 214.7 348.6 212.5 349.1 211.9 349.6 212.7 350.1 214.4 350.6 212.8 351.1 212.0 351.6 212.4 352.1 210.5 352.6 210.5 353.1 212.0 353.6 211.1 354.1 210.9 354.6 211.6 355.1 210.4 355.6 210.0 356.1 209.9 356.6 210.5 357.1 209.4 357.6 207.5 358.1 207.9 358.6 208.5 359.1 209.3 359.6 205.9 360.1 207.0 360.6 205.9 361.1 206.2 361.6 205.0 362.1 205.0 362.6 203.1 363.1 201.3 363.6 200.8 364.1 201.4 364.6 200.8 365.1 202.1 365.6 200.7 366.1 197.1 366.6 197.6 366.6 195.9 366.6 195.5 366.7 197.6 366.8 197.1 366.8 195.4 366.9 198.1 366.9 195.5 366.9 194.8 367.0 196.0 367.1 195.3 367.1 195.0 367.1 195.4 367.2 195.7 367.2 195.1 367.3 194.5 367.4 192.1 367.4 192.2 367.4 194.0 367.5 192.5 367.6 193.5 367.6 194.0 367.6 192.7 367.7 193.7 367.8 195.5 367.8 193.7 367.9 194.1 367.9 193.0 367.9 191.7 368.0 190.7 368.1 189.8 368.1 189.5 368.1 191.1 368.2 191.0 368.2 190.0 368.3 190.7 368.4 188.9 368.4 190.4 368.4 189.1 368.5 188.8 368.6 188.6 368.6 188.2 368.6 190.5 368.7 186.2 368.8 187.8 368.8 188.9 368.9 188.3 368.9 186.9 368.9 188.5 369.0 185.4 369.1 184.9 369.1 186.4 369.1 183.9 369.2 182.5 369.2 185.3 369.3 184.8 369.4 184.6 369.4 183.2 369.4 183.6 369.5 181.9 369.6 184.2 369.6 183.1 369.6 182.9 369.7 180.0 369.8 182.3 369.8 182.6 369.9 182.0 369.9 181.6 369.9 181.0 370.0 180.8 370.1 181.5 370.1 180.8 370.1 180.1 370.2 179.0 370.2 180.6 370.3 177.5 370.4 178.3 370.4 177.4 370.4 178.7 370.5 178.9 370.6 178.5 370.6 177.6 370.6 175.1 370.7 178.1 370.8 176.1 370.8 174.9 370.9 174.4 370.9 173.6 370.9 174.0 371.0 173.5 371.1 172.6 371.1 170.1 371.1 172.2 371.2 172.0 371.2 171.3 371.3 169.9 371.4 169.9 371.4 167.9 371.5 169.3 371.6 165.2 371.6 165.3 371.6 165.0 371.7 162.8 371.8 163.5 371.8 165.0 371.9 164.1 371.9 162.2 371.9 163.0 372.0 160.6 372.1 159.1 372.1 159.2 372.1 158.3 372.2 158.6 372.2 155.7 372.3 157.6 372.4 155.6 372.4 156.2 372.4 152.8 372.5 152.9 372.6 152.5 372.6 152.6 372.6 149.9 372.7 152.1 372.8 149.9 372.8 147.9 372.9 148.8 372.9 147.1 372.9 147.8 373.0 148.5 373.1 146.4 373.1 144.2 373.1 143.3 373.2 143.4 373.2 142.3 373.3 140.5 373.4 139.9 373.4 140.5 373.4 141.3 373.5 135.5 373.6 138.1 373.6 136.5 373.6 137.0 373.7 136.5 373.8 134.8 373.8 132.6 373.9 131.3 373.9 130.1 373.9 132.7 374.0 130.7 374.1 129.5 374.1 128.7 374.1 126.6 374.2 127.4 374.2 127.8 374.3 126.9 374.4 123.5 374.4 125.5 374.4 122.4 374.5 120.2 374.6 120.0 374.6 119.6 374.6 120.0 374.7 118.4 374.8 117.3 374.8 117.9 374.9 119.5 374.9 116.1 374.9 116.5 375.0 115.3 375.1 117.2 375.1 112.0 375.1 114.3 375.2 111.0 375.2 110.8 375.3 110.4 375.4 112.9 375.4 108.3 375.4 106.5 375.5 108.9 375.6 105.8 375.6 105.6 375.6 105.0 375.7 104.4 375.8 103.4 375.8 102.9 375.9 102.1 375.9 101.6 375.9 99.3 376.0 97.9 376.1 96.3 376.1 96.6 376.1 94.8 376.2 94.3 376.2 93.3 376.3 93.6 376.4 91.4 376.4 91.3 376.4 88.6 376.5 87.7 376.6 87.4 376.6 85.6 376.6 86.9 376.7 84.5 376.8 85.7 376.8 82.8 376.9 83.4 376.9 83.2 376.9 82.3 377.0 79.9 377.1 81.2 377.1 81.7 377.1 81.2 377.2 79.7 377.6 79.2 377.6 81.4 377.7 82.6 377.8 80.8 377.8 79.7 377.9 81.6 377.9 82.4 377.9 79.4 378.0 82.8 378.1 85.3 378.1 84.4 378.1 84.5 378.2 84.8 378.2 86.0 378.3 84.7 378.4 85.7 378.4 87.7 378.4 87.3 378.5 89.0 378.6 87.3 378.6 90.5 378.6 91.1 378.7 90.7 378.8 91.4 378.8 93.6 378.9 91.8 378.9 93.1 378.9 93.9 379.0 95.5 379.1 95.6 379.1 97.2 379.1 97.0 379.2 96.8 379.2 97.5 379.3 101.1 379.4 100.7 379.4 101.4 379.4 102.3 379.5 102.9 379.6 104.5 379.6 105.0 379.6 104.4 379.7 104.8 379.8 105.3 379.8 106.1 379.9 109.7 379.9 108.3 379.9 108.2 380.0 110.4 380.1 111.6 380.1 113.7 380.1 113.5 380.2 116.0 380.2 116.9 380.3 118.8 380.4 120.7 380.4 122.3 380.4 121.8 380.5 120.3 380.6 122.3 380.6 124.2 380.6 127.1 380.7 126.4 380.8 127.5 380.8 126.9 380.9 128.4 380.9 129.2 380.9 128.6 381.0 130.5 381.1 131.6 381.1 131.4 381.1 133.5 381.2 134.9 381.2 133.8 381.3 134.2 381.4 134.5 381.4 135.0 381.4 136.6 381.5 136.9 381.6 137.8 381.6 138.0 381.6 137.9 381.7 139.1 381.8 141.1 381.8 140.2 381.9 141.3 381.9 144.0 382.0 142.7 382.1 144.7 382.1 144.1 382.1 147.1 382.2 145.5 382.2 146.7 382.3 148.5 382.4 146.8 382.4 149.4 382.4 147.7 382.5 149.0 382.6 148.9 382.6 149.6 382.6 150.5 382.7 150.9 382.8 150.5 382.8 152.8 382.9 153.2 382.9 154.2 382.9 154.5 383.0 152.0 383.1 154.7 383.1 154.9 383.1 153.3 383.2 155.4 383.2 156.3 383.3 154.9 383.4 154.7 383.4 156.3 383.4 159.7 383.5 157.3 383.6 156.1 383.6 157.4 383.6 157.0 383.7 157.9 383.8 158.8 383.8 156.5 383.9 159.8 383.9 161.4 383.9 160.5 384.0 160.8 384.1 162.6 384.1 160.2 384.1 160.1 384.2 160.1 384.2 161.6 384.3 162.5 384.4 162.5 384.4 163.7 384.4 164.5 384.5 164.7 384.6 163.9 384.6 164.8 384.6 166.6 384.7 164.3 384.8 165.0 384.8 164.8 384.9 165.1 384.9 164.5 385.0 168.7 385.1 167.3 385.1 166.0 385.1 167.1 385.2 168.2 385.2 167.3 385.3 168.2 385.4 166.9 385.4 167.0 385.4 167.3 385.5 167.1 385.6 165.4 385.6 168.1 386.1 169.4 386.6 170.1 387.1 169.1 387.6 170.7 388.1 170.9 388.6 169.5 389.1 169.6 389.6 172.7 390.1 171.6 390.6 173.6 391.1 174.8 391.6 171.9 392.1 171.7 392.6 172.4 393.1 173.5 393.6 172.2 394.1 175.0 394.6 175.0 395.1 174.7 395.6 173.3 396.1 174.7 396.6 174.9 397.1 173.4 397.6 177.1 398.1 174.9 398.6 175.6 399.1 174.7 399.6 175.8 400.1 177.1 400.6 175.7 401.1 175.5 401.6 177.4 402.1 177.3 402.6 178.7 403.1 179.9 403.6 180.4 404.1 182.1 404.6 180.3 405.1 182.1 405.6 181.7 406.1 184.0 406.6 185.6 407.1 183.7 407.6 185.2 408.1 183.3 408.6 182.4 409.1 182.9 409.6 182.6 410.1 183.2 410.6 184.2 411.1 186.0 411.6 186.0 412.1 186.1 412.6 185.5 413.1 185.4 413.6 186.4 414.1 186.7 414.6 187.1 415.1 187.3 415.6 186.8 416.1 184.9 416.6 185.7 417.1 186.1 417.6 188.8 418.1 186.8 418.6 188.0 419.1 188.8 419.6 187.7 420.1 186.9 420.6 186.9 421.1 185.9 421.6 187.0 422.1 187.8 422.6 187.4 423.1 187.6 423.6 187.2 424.1 188.2 424.6 185.4 425.1 186.1 425.6 186.4 426.1 186.7 426.6 182.9 427.1 184.7 427.6 185.0 428.1 183.9 428.6 185.3 429.1 183.8 429.6 182.3 430.1 180.4 430.6 180.1 431.1 179.7 431.6 180.2 432.1 177.8 432.6 176.3 433.1 176.2 433.6 175.9 434.1 176.7 434.6 176.0 435.1 171.6 435.6 171.7 436.1 171.3 436.6 171.3 437.1 171.0 437.3 170.4 437.4 171.1 437.4 169.6 437.4 171.6 437.5 172.2 437.6 169.8 437.6 172.0 437.9 173.5 437.9 174.8 438.0 175.2 438.1 174.9 438.1 173.7 438.1 174.4 438.2 176.2 438.2 174.4 438.3 174.9 438.4 176.5 438.4 175.4 438.4 174.2 438.5 175.4 438.6 176.3 438.6 175.6 438.6 177.1 438.7 177.2 438.8 175.3 438.8 175.6 438.9 176.2 438.9 175.4 438.9 177.3 439.0 177.1 439.1 178.3 439.1 177.3 439.1 177.4 439.2 180.6 439.2 178.1 439.3 178.2 439.4 177.8 439.4 178.3 439.6 178.5 440.1 181.0 440.6 181.9 441.1 183.5 441.6 185.2 442.1 186.2 442.6 186.6 443.1 186.0 443.6 187.8 444.1 188.1 444.6 188.9 445.1 187.8 445.6 190.6 446.1 190.2 446.6 192.4 447.1 191.8 447.6 190.7 448.1 191.1 448.6 194.3 449.1 192.7 449.6 194.6 450.1 194.2 450.6 197.2 451.1 195.5 451.6 196.8 452.1 196.4 452.6 194.6 453.1 195.1 453.6 197.4 454.1 196.3 454.6 195.5 455.1 197.6 455.6 198.9 456.1 196.2 456.6 197.5 457.1 195.9 457.6 197.5 458.1 196.2 458.6 198.2 459.1 197.7 459.6 197.1 460.1 197.7 460.6 197.0 461.1 196.6 461.6 196.6 462.1 197.3 462.6 195.8 463.1 196.9 463.6 196.7 464.1 196.1 464.6 194.7 465.1 194.9 465.6 194.6 466.1 195.5 466.6 192.8 467.1 192.2 467.6 190.9 468.1 189.3 468.6 187.1 469.1 185.8 469.6 186.1 470.1 183.1 470.6 183.5 471.1 183.8 471.6 182.3 472.1 178.4 472.6 180.4 473.1 179.5 473.6 179.2 474.1 176.9 474.6 179.6 475.1 178.3 475.6 181.2 476.1 181.3 476.6 182.8 477.1 180.1 477.6 179.4 478.1 182.6 478.6 183.0 479.1 182.2 479.6 184.3 480.1 184.1 480.6 182.9 481.1 185.1 481.6 186.3 482.1 187.9 482.6 189.4 483.1 189.6 483.6 191.0 484.1 192.8 484.6 193.2 485.1 194.1 485.6 194.9 486.1 195.8 486.6 194.4 487.1 197.1 487.6 196.8 488.1 198.7 488.6 197.8 489.1 200.7 489.6 200.6 490.1 199.9 490.6 202.3 491.1 202.0 491.6 205.3 492.1 204.6 492.6 203.9 493.1 205.1 493.6 204.9 494.1 206.4 494.6 206.1 495.1 206.8 495.6 205.3 496.1 207.2 496.6 208.7 497.1 207.6 497.6 207.2 498.1 207.6 498.6 206.8 499.1 208.4 499.6 207.6 500.1 209.0 500.6 208.4 501.1 207.7 501.6 209.0 502.1 207.1 502.6 208.7 503.1 207.5 503.6 210.6 504.1 210.5 504.6 209.3 505.1 210.2 505.6 208.8 506.1 208.6 506.6 207.6 507.1 207.2 507.6 208.1 508.1 207.2 508.6 207.1 509.1 208.2 509.6 207.5 510.1 206.3 510.6 207.8 511.1 207.0 511.6 206.9 512.1 205.6 512.6 207.5 513.1 208.0 513.6 205.0 514.1 206.9 514.6 206.9 515.1 205.3 515.6 206.7 516.1 208.3 516.6 208.0 517.1 209.0 517.6 206.3 518.1 206.8 518.6 207.8 519.1 207.9 519.6 207.8 520.1 207.8 520.6 208.2 521.1 208.3 521.6 209.4 522.1 206.2 522.6 210.9 523.1 209.0 523.6 208.4 524.1 210.5 524.6 208.6 525.1 210.1 525.6 209.1 526.1 210.0 526.6 210.3 527.1 210.9 527.6 209.3 528.1 209.7 528.6 210.2 529.1 208.8 529.6 210.8 530.1 210.3 530.6 208.6 531.1 211.1 531.6 211.2 532.1 208.6 532.6 210.6 533.1 211.3 533.6 211.0 534.1 209.3 534.6 209.0 535.1 210.4 535.6 210.2 536.1 210.8 536.6 210.7 537.1 211.4 537.6 210.3 538.1 211.0 538.6 214.5 539.1 211.6 539.6 212.6 540.1 212.2 540.6 212.1 541.1 211.1 541.6 212.9 542.1 212.4 542.6 213.0 543.1 214.0 543.6 212.1 544.1 212.6 544.6 210.5 545.1 211.5 545.6 212.9 546.1 211.5 546.6 211.2 547.1 212.2 547.6 211.9 548.1 211.8 548.6 211.5 549.1 213.6 549.6 210.8 550.1 211.4 550.6 211.5 551.1 213.5 551.6 212.2 552.1 213.8 552.6 212.7 553.1 212.5 553.6 211.1 554.1 214.0 554.6 213.6 555.1 213.7 555.6 213.3 556.1 213.0 556.6 212.1 557.1 214.4 557.6 213.7 558.1 212.9 558.6 212.6 559.1 213.5 559.6 213.5 560.1 215.2 560.6 214.2 561.1 212.8 561.6 212.3 562.1 213.3 562.6 212.7 563.1 213.8 563.6 214.4 564.1 214.8 564.6 214.6 565.1 213.8 565.6 214.2 566.1 212.4 566.6 213.3 567.1 214.6 567.6 214.6 568.1 213.3 568.6 213.4 569.1 212.7 569.6 215.8 570.1 212.3 570.6 213.8 571.1 216.2 571.6 216.0 572.1 216.5 572.6 214.7 573.1 216.0 573.6 218.4 574.1 215.2 574.6 215.5 575.1 214.5 575.6 214.6 576.1 214.8 576.6 215.8 577.1 213.7 577.6 213.4 578.1 215.2 578.6 215.5 579.1 216.7 579.6 215.7 580.1 214.1 580.6 215.3 581.1 216.0 581.6 215.3 582.1 214.9 582.6 216.3 583.1 215.6 583.6 214.0 584.1 216.9 584.6 214.0 585.1 214.9 585.6 215.1 586.1 215.3 586.6 215.4 587.1 214.4 587.6 216.4 588.1 216.1 588.6 216.1 589.1 217.2 589.6 217.2 590.1 217.4 590.6 217.9 591.1 216.5 591.6 214.3 592.1 215.9 592.6 215.8 593.1 216.2 593.6 215.8 594.1 215.7 594.6 217.5 595.1 217.9 595.6 216.1 596.1 217.9 596.6 217.2 597.1 216.8 597.6 217.7 598.1 216.9 598.6 216.5 599.1 217.2 599.6 215.1 600.1 216.4 600.6 216.4 601.1 215.3 601.6 216.8 602.1 217.0 602.6 216.3 603.1 216.8 603.6 217.6 604.1 217.8 604.6 216.1 605.1 217.4 605.6 218.4 606.1 217.4 606.6 216.6 607.1 216.5 607.6 216.7 608.1 215.8 608.6 218.7 609.1 216.2 609.6 217.5 610.1 217.7 610.6 218.3 611.1 217.3 611.6 216.2 612.1 219.0 612.6 217.1 613.1 217.4 613.6 217.7 614.1 219.0 614.6 218.6 615.1 218.8 615.6 218.4 616.1 217.8 616.6 217.9 617.1 216.9 617.6 215.6 618.1 217.1 618.6 216.1 619.1 219.6 619.6 218.6 620.1 218.7 620.6 217.5 621.1 220.3 621.6 216.5 622.1 216.8 622.6 217.1 623.1 216.9 623.6 217.8 624.1 217.8 624.6 219.5 625.1 218.8 625.6 219.3 626.1 218.5 626.6 218.0 627.1 217.5 627.6 216.8 628.1 217.6 628.6 218.2 629.1 219.4 629.6 216.9 630.1 217.1 630.6 218.5 631.1 217.2 631.6 218.6 632.1 217.8 632.6 217.3 633.1 216.4 633.6 217.6 634.1 217.3 634.6 217.9 635.1 218.1 635.6 219.0 636.1 219.0 636.6 217.2 637.1 219.1 637.6 219.9 638.1 220.4 638.6 219.9 639.1 219.1 639.6 217.5 640.1 217.8 640.6 219.4 641.1 217.7 641.6 219.2 642.1 219.3 642.6 216.9 643.1 218.5 643.6 218.0 644.1 220.3 644.6 219.3 645.1 218.1 645.6 219.0 646.1 217.5 646.6 218.1 647.1 218.8 647.6 219.3 648.1 219.8 648.6 218.5 649.1 217.5 649.6 219.1 650.1 218.8 650.6 219.0 651.1 221.6 651.6 220.4 652.1 218.8 652.6 217.4 653.1 217.4 653.6 218.9 654.1 219.4 654.6 217.8 655.1 218.3 655.6 218.9 656.1 220.2 656.6 217.5 657.1 219.5 657.6 219.6 658.1 220.1 658.6 219.6 659.1 218.0 659.6 218.5 660.1 217.4 660.6 219.1 661.1 219.2 661.6 219.8 662.1 218.4 662.6 218.3 663.1 221.2 663.6 220.2 664.1 222.0 664.6 220.8 665.1 218.9 665.6 221.3 666.1 221.9 666.6 220.5 667.1 219.3 667.6 222.1 668.1 221.6 668.6 222.4 669.1 219.7 669.6 223.1 670.1 220.0 670.6 222.0 671.1 224.0 671.6 221.4 672.1 221.5 672.6 223.0 673.1 225.2 673.6 225.1 674.1 222.9 674.6 224.5 675.1 224.3 675.6 223.9 676.1 223.9 676.6 222.8 677.1 224.7 677.6 225.3 678.1 227.1 678.6 225.3 679.1 221.9 679.6 223.1 680.1 224.7 680.6 224.5 681.1 222.8 681.6 224.5 682.1 224.2 682.6 224.5 683.1 224.6 683.6 225.8 684.1 226.4 684.6 225.7 685.1 224.2 685.6 224.6 686.1 224.7 686.6 224.9 687.1 224.2 687.6 224.0 688.1 223.4 688.6 225.4 689.1 225.6 689.6 225.9 690.1 225.0 690.6 225.8 691.1 224.7 691.6 224.9 692.1 225.5 692.6 226.6 693.1 225.7 693.6 224.5 694.1 225.5 694.6 225.6 695.1 225.4 695.6 224.9 696.1 226.0 696.6 225.7 697.1 225.8 697.6 225.9 698.1 226.7 698.6 227.9 699.1 227.7 699.6 226.6 700.1 225.5 700.6 225.8 701.1 226.1 701.6 227.5 702.1 223.2 702.6 225.7 703.1 223.4 703.6 225.6 704.1 227.2 704.6 225.2 705.1 224.0 705.6 227.8 706.1 228.1 706.6 227.1 707.1 227.8 707.6 225.8 708.1 227.8 708.6 228.1 709.1 226.8 709.6 226.3 710.1 227.2 710.6 227.0 711.1 225.0 711.6 226.8 712.1 226.0 712.6 225.5 713.1 227.0 713.6 226.9 714.1 226.7 714.6 225.6 715.1 227.2 715.6 225.5 716.1 226.6 716.6 224.9 717.1 224.5 717.6 226.5 718.1 225.9 718.6 226.1 719.1 226.6 719.6 226.4 720.1 225.1 720.6 225.9 721.1 225.6 721.6 225.2 722.1 225.8 722.6 225.9 723.1 225.8 723.6 226.1 724.1 226.4 724.6 228.2 725.1 225.5 725.6 227.1 726.1 225.0 726.6 227.7 727.1 225.6 727.6 226.2 728.1 227.4 728.6 227.2 729.1 224.6 729.6 226.5 730.1 225.8 730.6 226.8 731.1 226.4 731.6 227.0 732.1 226.6 732.6 226.1 733.1 227.3 733.6 224.4 734.1 225.5 734.6 225.1 735.1 226.0 735.6 225.8 736.1 226.1 736.6 225.8 737.1 226.0 737.6 224.7 738.1 225.9 738.6 225.8 739.1 224.6 739.6 224.7 740.1 225.1 740.6 227.9 741.1 226.7 741.6 226.9 742.1 226.2 742.6 225.9 743.1 225.4 743.6 228.0 744.1 224.9 744.6 227.1 745.1 226.8 745.6 226.6 746.1 225.3 746.6 225.7 747.1 228.0 747.6 226.2 748.1 227.5 748.6 226.9 749.1 226.5 749.6 226.6 750.1 224.6 750.6 225.4 751.1 226.7 751.6 225.0 752.1 228.1 752.6 225.8 753.1 226.2 753.6 225.1 754.1 226.4 754.6 225.5 755.1 226.3 755.6 225.8 756.1 228.3 756.6 225.4 757.1 227.3 757.6 227.0 758.1 227.0 758.6 225.3 759.1 227.2 759.6 227.0 760.1 226.1 760.6 226.2 761.1 225.9 761.6 226.9 762.1 225.7 762.6 227.3 763.1 227.0 763.6 225.0 764.1 223.5 764.6 225.9 765.1 225.8 765.6 227.3 766.1 226.2 766.6 225.6 767.1 224.7 767.6 225.9 768.1 225.4 768.6 224.8 769.1 225.7 769.6 227.0 770.1 226.3 770.6 225.5 771.1 227.2 771.6 225.9 772.1 225.5 772.6 227.4 773.1 226.1 773.6 227.4 774.1 226.4 774.6 225.3 775.1 226.4 775.6 227.4 776.1 225.8 776.6 225.1 777.1 225.9 777.6 226.1 778.1 225.9 778.6 225.7 779.1 227.3 779.6 227.9 780.1 226.5 780.6 227.7 781.1 227.8 781.6 228.4 782.1 226.2 782.6 225.9 783.1 226.7 783.6 226.6 784.1 227.1 784.6 228.4 785.1 226.9 785.6 227.6 786.1 226.5 786.6 227.2 787.1 226.5 787.6 226.6 788.1 227.5 788.6 227.6 789.1 228.5 789.6 228.8 790.1 226.3 790.6 228.8 791.1 225.6 791.6 227.9 792.1 228.1 792.6 226.5 793.1 226.9 793.6 226.3 794.1 228.0 794.6 224.0 795.1 226.2 795.6 225.3 796.1 227.5 796.6 228.8 797.1 228.8 797.6 228.3 798.1 228.0 798.6 227.1 799.1 229.2 799.6 228.4 800.1 226.5 800.6 225.6 801.1 226.1 801.6 227.9 802.1 228.2 802.6 228.6 803.1 226.3 803.6 226.8 804.1 228.8 804.6 227.6 805.1 228.0 805.6 225.8 806.1 226.8 806.6 227.1 807.1 226.7 807.6 226.5 808.1 225.5 808.6 229.1 809.1 227.8 809.6 226.4 810.1 228.8 810.6 227.6 811.1 227.9 811.6 226.7 812.1 226.0 812.6 226.1 813.1 227.5 813.6 228.4 814.1 228.3 814.6 228.3 815.1 228.5 815.6 227.6 816.1 228.7 816.6 229.4 817.1 229.0 817.6 228.8 818.1 228.2 818.6 227.1 819.1 226.4 819.6 229.1 820.1 227.8 820.6 227.3 821.1 229.5 821.6 229.2 822.1 228.4 822.6 229.5 823.1 228.2 823.6 228.8 824.1 230.3 824.6 229.5 825.1 228.1 825.6 228.7 826.1 228.9 826.6 227.5 827.1 227.3 827.6 230.0 828.1 228.0 828.6 227.0 829.1 228.2 829.6 230.1 830.1 228.5 830.6 229.0 831.1 226.2 831.6 228.0 832.1 230.0 832.6 228.5 833.1 230.2 833.6 229.3 834.1 229.2 834.6 230.6 835.1 228.6 835.6 228.6 836.1 229.1 836.6 229.1 837.1 227.2 837.6 230.2 838.1 229.0 838.6 228.3 839.1 229.0 839.6 228.0 840.1 229.7 840.6 228.6 841.1 229.3 841.6 227.8 842.1 228.6 842.6 229.3 843.1 228.0 843.6 228.1 844.1 228.6 844.6 229.7 845.1 229.3 845.6 229.5 846.1 228.9 846.6 229.4 847.1 230.0 847.6 228.8 848.1 229.5 848.6 229.9 849.1 227.2 849.6 228.8 850.1 229.1 850.6 229.4 851.1 228.4 851.6 229.8 852.1 228.4 852.6 228.9 853.1 230.7 853.6 227.5 854.1 228.5 854.6 228.2 855.1 228.2 855.6 227.9 856.1 229.2 856.6 227.6 857.1 227.5 857.6 229.5 858.1 227.9 858.6 229.5 859.1 229.0 859.6 228.3 860.1 228.7 860.6 229.0 861.1 229.7 861.6 228.6 862.1 228.9 862.6 227.5 863.1 228.5 863.6 226.7 864.1 228.4 864.6 227.9 865.1 230.5 865.6 229.9 866.1 228.8 866.6 230.3 867.1 229.9 867.6 228.5 868.1 227.0 868.6 230.2 869.1 229.1 869.6 226.6 870.1 229.3 870.6 229.6 871.1 228.1 871.6 229.7 872.1 227.2 872.6 228.8 873.1 229.3 873.6 230.3 874.1 230.2 874.6 230.2 875.1 230.6 875.6 229.6 876.1 231.9 876.6 230.0 877.1 230.8 877.6 229.5 878.1 228.9 878.6 229.6 879.1 229.6 879.6 230.7 880.1 230.6 880.6 229.3 881.1 230.5 881.6 230.1 882.1 229.2 882.6 228.8 883.1 230.1 883.6 229.2 884.1 228.3 884.6 229.8 885.1 230.3 885.6 230.1 886.1 228.6 886.6 229.1 887.1 231.0 887.6 228.8 888.1 229.2 888.6 231.9 889.1 230.0 889.6 229.0 890.1 227.5 890.6 229.7 891.1 227.9 891.6 229.1 892.1 228.2 892.6 227.6 893.1 231.2 893.6 229.8 894.1 231.2 894.6 231.2 895.1 229.7 895.6 230.5 896.1 229.8 896.6 230.9 897.1 230.1 897.6 229.2 898.1 231.3 898.6 230.3 899.1 230.4 899.6 229.2 900.1 230.3 900.6 228.4 901.1 230.2 901.6 228.9 902.1 230.1 902.6 229.8 903.1 230.3 903.6 230.3 904.1 229.8 904.6 229.8 905.1 228.5 905.6 228.0 906.1 230.8 906.6 229.6 907.1 227.3 907.6 230.9 908.1 228.9 908.6 230.7 909.1 230.9 909.6 230.6 910.1 231.1 910.6 229.0 911.1 230.2 911.6 229.8 912.1 230.2 912.6 229.8 913.1 229.4 913.6 229.3 914.1 231.2 914.6 229.8 915.1 231.2 915.6 231.1 916.1 230.4 916.6 230.8 917.1 230.8 917.6 229.7 918.1 230.5 918.6 232.1 919.1 229.3 919.6 230.4 920.1 230.2 920.6 233.3 921.1 230.0 921.6 231.4 922.1 232.1 922.6 230.2 923.1 230.8 923.6 230.1 924.1 229.3 924.6 230.5 925.1 230.9 925.6 229.9 926.1 230.4 926.6 231.1 927.1 231.8 927.6 229.6 928.1 231.6 928.6 230.5 929.1 229.2 929.6 230.1 930.1 231.3 930.6 230.9 931.1 229.6 931.6 232.4 932.1 231.2 932.6 230.6 933.1 230.1 933.6 231.0 934.1 230.2 934.6 231.6 935.1 230.8 935.6 231.2 936.1 230.4 936.6 229.4 937.1 231.5 937.6 230.1" stroke="#800000" stroke-width="3.25"/>
</g>
<g stroke="#000" stroke-width="2.5" fill="none">
<line x1="67.9" y1="67.5" x2="67.9" y2="717.2" />
<line x1="66.7" y1="716" x2="939" y2="716" />
<line x1="67.8" y1="715" x2="67.8" y2="728" /><line x1="192.1" y1="715" x2="192.1" y2="728" /><line x1="316.4" y1="715" x2="316.4" y2="728" /><line x1="440.7" y1="715" x2="440.7" y2="728" /><line x1="564.9" y1="715" x2="564.9" y2="728" /><line x1="689.2" y1="715" x2="689.2" y2="728" /><line x1="813.5" y1="715" x2="813.5" y2="728" /><line x1="937.8" y1="715" x2="937.8" y2="728" /><line x1="129.9" y1="715" x2="129.9" y2="722.3" /><line x1="254.2" y1="715" x2="254.2" y2="722.3" /><line x1="378.5" y1="715" x2="378.5" y2="722.3" /><line x1="502.8" y1="715" x2="502.8" y2="722.3" /><line x1="627.1" y1="715" x2="627.1" y2="722.3" /><line x1="751.4" y1="715" x2="751.4" y2="722.3" /><line x1="875.7" y1="715" x2="875.7" y2="722.3" />
</g>
<g font-size="25" text-anchor="middle" fill="#000">
<text x="67.8" y="757">5</text><text x="192.1" y="757">10</text><text x="316.4" y="757">15</text><text x="440.7" y="757">20</text><text x="564.9" y="757">25</text><text x="689.2" y="757">30</text><text x="813.5" y="757">35</text><text x="937.8" y="757">40</text>
</g>
<text transform="translate(431.6 791.6) scale(0.99 1)" font-family="Liberation Serif" font-size="27.5" fill="#000">θ</text>
<text y="790.7" font-size="28" fill="#000"><tspan x="414.3" font-weight="bold">2</tspan><tspan x="454.8">(</tspan><tspan x="465.4" font-weight="bold">d</tspan><tspan x="482.8" font-weight="bold">e</tspan><tspan x="499.7" font-weight="bold">g</tspan><tspan x="516.7" font-weight="bold">r</tspan><tspan x="529.4" font-weight="bold">e</tspan><tspan x="546.3" font-weight="bold">e</tspan><tspan x="563.2" font-weight="bold">s</tspan><tspan x="581.1">)</tspan></text>
<text transform="translate(50.2 402) rotate(-90)" font-size="31" font-weight="bold" text-anchor="middle" fill="#000">Intensity (a.u.)</text>
<g font-size="30" font-weight="bold">
<text transform="translate(0 207.5) scale(1 1.08)" fill="#800000"><tspan x="844.2">K</tspan><tspan x="865.7">P</tspan></text>
<text transform="translate(0 368.5) scale(1 1.07)" fill="#0000a0"><tspan x="844.5">P</tspan><tspan x="864.7">M</tspan></text>
<text transform="translate(0 540.3) scale(1 1.05)" fill="#404040"><tspan x="784.4">R</tspan><tspan x="805">M</tspan><tspan x="832.2">-</tspan><tspan x="858.5">-</tspan><tspan x="868.4">C</tspan><tspan x="889.6">D</tspan></text>
<text transform="translate(842.6 540.3) scale(0.96 1)" font-family="Liberation Serif" font-weight="normal" font-size="27.6" fill="#404040">β</text>
<text transform="translate(0 693.3) scale(1 1.07)" fill="#ff0000"><tspan x="815.7">R</tspan><tspan x="837.6">S</tspan><tspan x="856.9">P</tspan></text>
</g>
</svg>
</body></html>
